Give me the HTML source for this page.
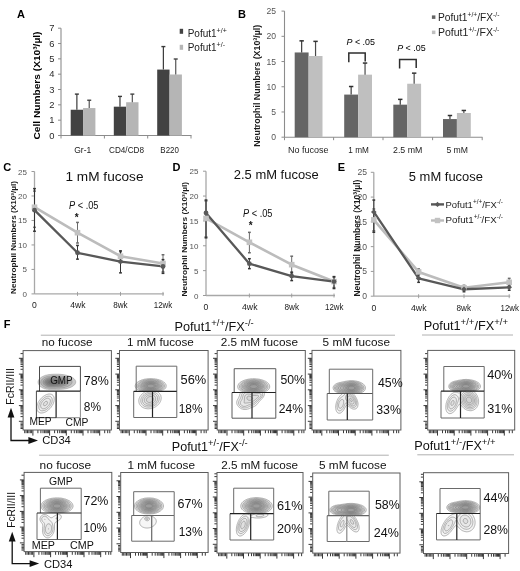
<!DOCTYPE html>
<html><head><meta charset="utf-8"><style>
html,body{margin:0;padding:0;background:#fff;}
svg{display:block;font-family:"Liberation Sans", sans-serif;filter:grayscale(1);}
</style></head><body>
<svg width="520" height="571" viewBox="0 0 520 571">
<rect width="520" height="571" fill="#fff"/>
<text x="16.9" y="17.6" font-size="11" font-weight="bold" >A</text>
<line x1="61" y1="28.189999999999998" x2="61" y2="135.5" stroke="#8c8c8c" stroke-width="1.1" />
<line x1="58" y1="135.5" x2="61" y2="135.5" stroke="#8c8c8c" stroke-width="1" />
<text x="54.5" y="138.8" font-size="9.4" text-anchor="end" fill="#2a2a2a" >0</text>
<line x1="58" y1="120.17" x2="61" y2="120.17" stroke="#8c8c8c" stroke-width="1" />
<text x="54.5" y="123.47" font-size="9.4" text-anchor="end" fill="#2a2a2a" >1</text>
<line x1="58" y1="104.84" x2="61" y2="104.84" stroke="#8c8c8c" stroke-width="1" />
<text x="54.5" y="108.14" font-size="9.4" text-anchor="end" fill="#2a2a2a" >2</text>
<line x1="58" y1="89.50999999999999" x2="61" y2="89.50999999999999" stroke="#8c8c8c" stroke-width="1" />
<text x="54.5" y="92.80999999999999" font-size="9.4" text-anchor="end" fill="#2a2a2a" >3</text>
<line x1="58" y1="74.18" x2="61" y2="74.18" stroke="#8c8c8c" stroke-width="1" />
<text x="54.5" y="77.48" font-size="9.4" text-anchor="end" fill="#2a2a2a" >4</text>
<line x1="58" y1="58.849999999999994" x2="61" y2="58.849999999999994" stroke="#8c8c8c" stroke-width="1" />
<text x="54.5" y="62.14999999999999" font-size="9.4" text-anchor="end" fill="#2a2a2a" >5</text>
<line x1="58" y1="43.519999999999996" x2="61" y2="43.519999999999996" stroke="#8c8c8c" stroke-width="1" />
<text x="54.5" y="46.81999999999999" font-size="9.4" text-anchor="end" fill="#2a2a2a" >6</text>
<line x1="58" y1="28.189999999999998" x2="61" y2="28.189999999999998" stroke="#8c8c8c" stroke-width="1" />
<text x="54.5" y="31.49" font-size="9.4" text-anchor="end" fill="#2a2a2a" >7</text>
<line x1="61" y1="135.5" x2="191.5" y2="135.5" stroke="#8c8c8c" stroke-width="1.1" />
<line x1="61" y1="135.5" x2="61" y2="138.5" stroke="#8c8c8c" stroke-width="1" />
<line x1="104.4" y1="135.5" x2="104.4" y2="138.5" stroke="#8c8c8c" stroke-width="1" />
<line x1="147.7" y1="135.5" x2="147.7" y2="138.5" stroke="#8c8c8c" stroke-width="1" />
<line x1="191" y1="135.5" x2="191" y2="138.5" stroke="#8c8c8c" stroke-width="1" />
<text transform="translate(40.2,139.5) rotate(-90)" font-size="9.2" font-weight="bold" textLength="108" lengthAdjust="spacingAndGlyphs" >Cell Numbers (X10³/µl)</text>
<rect x="70.7" y="109.7456" width="12.35" height="25.7544" fill="#424242" />
<rect x="83.05" y="108.05930000000001" width="12.35" height="27.4407" fill="#b5b5b5" />
<line x1="76.875" y1="109.7456" x2="76.875" y2="94.109" stroke="#3a3a3a" stroke-width="1.2" />
<line x1="74.875" y1="94.109" x2="78.875" y2="94.109" stroke="#3a3a3a" stroke-width="1.4" />
<line x1="89.225" y1="108.05930000000001" x2="89.225" y2="100.241" stroke="#555" stroke-width="1.2" />
<line x1="87.225" y1="100.241" x2="91.225" y2="100.241" stroke="#444" stroke-width="1.4" />
<rect x="113.8" y="106.6796" width="12.35" height="28.8204" fill="#424242" />
<rect x="126.14999999999999" y="102.2339" width="12.35" height="33.2661" fill="#b5b5b5" />
<line x1="119.975" y1="106.6796" x2="119.975" y2="96.4085" stroke="#3a3a3a" stroke-width="1.2" />
<line x1="117.975" y1="96.4085" x2="121.975" y2="96.4085" stroke="#3a3a3a" stroke-width="1.4" />
<line x1="132.325" y1="102.2339" x2="132.325" y2="94.109" stroke="#555" stroke-width="1.2" />
<line x1="130.325" y1="94.109" x2="134.325" y2="94.109" stroke="#444" stroke-width="1.4" />
<rect x="157.2" y="69.581" width="12.35" height="65.919" fill="#424242" />
<rect x="169.54999999999998" y="74.48660000000001" width="12.35" height="61.0134" fill="#b5b5b5" />
<line x1="163.375" y1="69.581" x2="163.375" y2="46.586" stroke="#3a3a3a" stroke-width="1.2" />
<line x1="161.375" y1="46.586" x2="165.375" y2="46.586" stroke="#3a3a3a" stroke-width="1.4" />
<line x1="175.725" y1="74.48660000000001" x2="175.725" y2="59.003299999999996" stroke="#555" stroke-width="1.2" />
<line x1="173.725" y1="59.003299999999996" x2="177.725" y2="59.003299999999996" stroke="#444" stroke-width="1.4" />
<text x="82.7" y="153" font-size="9.6" text-anchor="middle" fill="#222" textLength="17" lengthAdjust="spacingAndGlyphs" >Gr-1</text>
<text x="126.5" y="153" font-size="9.6" text-anchor="middle" fill="#222" textLength="35" lengthAdjust="spacingAndGlyphs" >CD4/CD8</text>
<text x="169.6" y="153" font-size="9.6" text-anchor="middle" fill="#222" textLength="18.5" lengthAdjust="spacingAndGlyphs" >B220</text>
<rect x="179.7" y="28.8" width="3.4" height="5" fill="#424242" />
<rect x="179.7" y="44.8" width="3.4" height="5" fill="#b5b5b5" />
<text x="187.7" y="36.5" font-size="10" fill="#222" >Pofut1<tspan font-size="7" dy="-3.6">+/+</tspan></text>
<text x="187.7" y="50.5" font-size="10" fill="#222" >Pofut1<tspan font-size="7" dy="-3.6">+/-</tspan></text>
<text x="238" y="17.6" font-size="11" font-weight="bold" >B</text>
<line x1="284.5" y1="11.099999999999994" x2="284.5" y2="137.2" stroke="#8c8c8c" stroke-width="1.1" />
<line x1="281.5" y1="137.2" x2="284.5" y2="137.2" stroke="#8c8c8c" stroke-width="1" />
<text x="276" y="140.2" font-size="8.6" text-anchor="end" fill="#555" >0</text>
<line x1="281.5" y1="111.97999999999999" x2="284.5" y2="111.97999999999999" stroke="#8c8c8c" stroke-width="1" />
<text x="276" y="114.97999999999999" font-size="8.6" text-anchor="end" fill="#555" >5</text>
<line x1="281.5" y1="86.75999999999999" x2="284.5" y2="86.75999999999999" stroke="#8c8c8c" stroke-width="1" />
<text x="276" y="89.75999999999999" font-size="8.6" text-anchor="end" fill="#555" >10</text>
<line x1="281.5" y1="61.53999999999999" x2="284.5" y2="61.53999999999999" stroke="#8c8c8c" stroke-width="1" />
<text x="276" y="64.53999999999999" font-size="8.6" text-anchor="end" fill="#555" >15</text>
<line x1="281.5" y1="36.31999999999999" x2="284.5" y2="36.31999999999999" stroke="#8c8c8c" stroke-width="1" />
<text x="276" y="39.31999999999999" font-size="8.6" text-anchor="end" fill="#555" >20</text>
<line x1="281.5" y1="11.099999999999994" x2="284.5" y2="11.099999999999994" stroke="#8c8c8c" stroke-width="1" />
<text x="276" y="14.099999999999994" font-size="8.6" text-anchor="end" fill="#555" >25</text>
<line x1="284.5" y1="137.2" x2="482.5" y2="137.2" stroke="#8c8c8c" stroke-width="1.1" />
<line x1="284.5" y1="137.2" x2="284.5" y2="140.2" stroke="#8c8c8c" stroke-width="1" />
<line x1="333.6" y1="137.2" x2="333.6" y2="140.2" stroke="#8c8c8c" stroke-width="1" />
<line x1="383" y1="137.2" x2="383" y2="140.2" stroke="#8c8c8c" stroke-width="1" />
<line x1="432.6" y1="137.2" x2="432.6" y2="140.2" stroke="#8c8c8c" stroke-width="1" />
<line x1="482.2" y1="137.2" x2="482.2" y2="140.2" stroke="#8c8c8c" stroke-width="1" />
<text transform="translate(259.6,146.8) rotate(-90)" font-size="9" font-weight="bold" fill="#1a1a1a" textLength="122" lengthAdjust="spacingAndGlyphs" >Neutrophil Numbers (X10³/µl)</text>
<rect x="294.7" y="52.46079999999999" width="13.9" height="84.7392" fill="#656565" />
<rect x="308.59999999999997" y="55.99159999999999" width="13.9" height="81.2084" fill="#bfbfbf" />
<line x1="301.65" y1="52.46079999999999" x2="301.65" y2="40.859599999999986" stroke="#3c3c3c" stroke-width="1.2" />
<line x1="299.45" y1="40.859599999999986" x2="303.84999999999997" y2="40.859599999999986" stroke="#2e2e2e" stroke-width="1.5" />
<line x1="315.55" y1="55.99159999999999" x2="315.55" y2="41.36399999999999" stroke="#4a4a4a" stroke-width="1.2" />
<line x1="313.35" y1="41.36399999999999" x2="317.75" y2="41.36399999999999" stroke="#333" stroke-width="1.5" />
<rect x="344.2" y="94.5782" width="13.9" height="42.62179999999999" fill="#656565" />
<rect x="358.09999999999997" y="74.65439999999998" width="13.9" height="62.5456" fill="#bfbfbf" />
<line x1="351.15" y1="94.5782" x2="351.15" y2="86.50779999999999" stroke="#3c3c3c" stroke-width="1.2" />
<line x1="348.95" y1="86.50779999999999" x2="353.34999999999997" y2="86.50779999999999" stroke="#2e2e2e" stroke-width="1.5" />
<line x1="365.05" y1="74.65439999999998" x2="365.05" y2="63.053200000000004" stroke="#4a4a4a" stroke-width="1.2" />
<line x1="362.85" y1="63.053200000000004" x2="367.25" y2="63.053200000000004" stroke="#333" stroke-width="1.5" />
<rect x="393.3" y="104.66619999999999" width="13.9" height="32.5338" fill="#656565" />
<rect x="407.2" y="83.7336" width="13.9" height="53.46639999999999" fill="#bfbfbf" />
<line x1="400.25" y1="104.66619999999999" x2="400.25" y2="99.36999999999999" stroke="#3c3c3c" stroke-width="1.2" />
<line x1="398.05" y1="99.36999999999999" x2="402.45" y2="99.36999999999999" stroke="#2e2e2e" stroke-width="1.5" />
<line x1="414.15000000000003" y1="83.7336" x2="414.15000000000003" y2="73.1412" stroke="#4a4a4a" stroke-width="1.2" />
<line x1="411.95000000000005" y1="73.1412" x2="416.35" y2="73.1412" stroke="#333" stroke-width="1.5" />
<rect x="443.0" y="119.04159999999999" width="13.9" height="18.1584" fill="#656565" />
<rect x="456.9" y="112.9888" width="13.9" height="24.211199999999998" fill="#bfbfbf" />
<line x1="449.95" y1="119.04159999999999" x2="449.95" y2="115.51079999999999" stroke="#3c3c3c" stroke-width="1.2" />
<line x1="447.75" y1="115.51079999999999" x2="452.15" y2="115.51079999999999" stroke="#2e2e2e" stroke-width="1.5" />
<line x1="463.85" y1="112.9888" x2="463.85" y2="110.46679999999999" stroke="#4a4a4a" stroke-width="1.2" />
<line x1="461.65000000000003" y1="110.46679999999999" x2="466.05" y2="110.46679999999999" stroke="#333" stroke-width="1.5" />
<path d="M348.8 62.3 V53 H365.2 V61.5" fill="none" stroke="#2e2e2e" stroke-width="1.5"/>
<path d="M399.6 68.5 V59.5 H416.2 V68" fill="none" stroke="#2e2e2e" stroke-width="1.5"/>
<text x="346.5" y="45" font-size="9.6" textLength="28.5" lengthAdjust="spacingAndGlyphs" ><tspan font-style="italic">P</tspan> &lt; .05</text>
<text x="397.2" y="50.8" font-size="9.6" textLength="28.5" lengthAdjust="spacingAndGlyphs" ><tspan font-style="italic">P</tspan> &lt; .05</text>
<text x="288" y="152.8" font-size="9" fill="#222" textLength="40.5" lengthAdjust="spacingAndGlyphs" >No fucose</text>
<text x="348.3" y="152.8" font-size="9" fill="#222" textLength="20.5" lengthAdjust="spacingAndGlyphs" >1 mM</text>
<text x="393" y="152.8" font-size="9" fill="#222" textLength="29.3" lengthAdjust="spacingAndGlyphs" >2.5 mM</text>
<text x="446.4" y="152.8" font-size="9" fill="#222" textLength="21.6" lengthAdjust="spacingAndGlyphs" >5 mM</text>
<rect x="431.9" y="15.4" width="3.5" height="3.5" fill="#656565" />
<rect x="431.9" y="30.6" width="3.5" height="3.5" fill="#bfbfbf" />
<text x="438" y="20.7" font-size="10.1" fill="#222" textLength="61.4" lengthAdjust="spacingAndGlyphs" >Pofut1<tspan font-size="6.6" dy="-4">+/+</tspan><tspan dy="4">/FX</tspan><tspan font-size="6.6" dy="-4">-/-</tspan></text>
<text x="438" y="35.9" font-size="10.1" fill="#222" textLength="61.4" lengthAdjust="spacingAndGlyphs" >Pofut1<tspan font-size="6.6" dy="-4">+/-</tspan><tspan dy="4">/FX</tspan><tspan font-size="6.6" dy="-4">-/-</tspan></text>
<text x="3.2" y="171.3" font-size="11" font-weight="bold" >C</text>
<line x1="34.5" y1="171.5" x2="34.5" y2="293.9" stroke="#a8a8a8" stroke-width="1.3" />
<line x1="31.5" y1="293.9" x2="34.5" y2="293.9" stroke="#9a9a9a" stroke-width="1" />
<text x="27" y="296.9" font-size="8.0" text-anchor="end" fill="#555" >0</text>
<line x1="31.5" y1="269.41999999999996" x2="34.5" y2="269.41999999999996" stroke="#9a9a9a" stroke-width="1" />
<text x="27" y="272.41999999999996" font-size="8.0" text-anchor="end" fill="#555" >5</text>
<line x1="31.5" y1="244.94" x2="34.5" y2="244.94" stroke="#9a9a9a" stroke-width="1" />
<text x="27" y="247.94" font-size="8.0" text-anchor="end" fill="#555" >10</text>
<line x1="31.5" y1="220.45999999999998" x2="34.5" y2="220.45999999999998" stroke="#9a9a9a" stroke-width="1" />
<text x="27" y="223.45999999999998" font-size="8.0" text-anchor="end" fill="#555" >15</text>
<line x1="31.5" y1="195.98" x2="34.5" y2="195.98" stroke="#9a9a9a" stroke-width="1" />
<text x="27" y="198.98" font-size="8.0" text-anchor="end" fill="#555" >20</text>
<line x1="31.5" y1="171.5" x2="34.5" y2="171.5" stroke="#9a9a9a" stroke-width="1" />
<text x="27" y="174.5" font-size="8.0" text-anchor="end" fill="#555" >25</text>
<line x1="34.5" y1="293.9" x2="164" y2="293.9" stroke="#a8a8a8" stroke-width="1.3" />
<line x1="77.5" y1="291.9" x2="77.5" y2="295.9" stroke="#9a9a9a" stroke-width="0.9" />
<line x1="120.5" y1="291.9" x2="120.5" y2="295.9" stroke="#9a9a9a" stroke-width="0.9" />
<line x1="163" y1="291.9" x2="163" y2="295.9" stroke="#9a9a9a" stroke-width="0.9" />
<text x="32.1" y="308.3" font-size="8.8" fill="#222" textLength="4.8" lengthAdjust="spacingAndGlyphs" >0</text>
<text x="70.2" y="308.3" font-size="8.8" fill="#222" textLength="15.3" lengthAdjust="spacingAndGlyphs" >4wk</text>
<text x="113.2" y="308.3" font-size="8.8" fill="#222" textLength="14.5" lengthAdjust="spacingAndGlyphs" >8wk</text>
<text x="153.8" y="308.3" font-size="8.8" fill="#222" textLength="18.5" lengthAdjust="spacingAndGlyphs" >12wk</text>
<text transform="translate(15.6,294) rotate(-90)" font-size="7.6" font-weight="bold" fill="#1a1a1a" textLength="113" lengthAdjust="spacingAndGlyphs" >Neutrophil Numbers (X10³/µl)</text>
<text x="65.5" y="180.5" font-size="13.6" fill="#111" textLength="78" lengthAdjust="spacingAndGlyphs" >1 mM fucose</text>
<line x1="34.5" y1="191.084" x2="34.5" y2="227.31439999999998" stroke="#6a6a6a" stroke-width="1.0" />
<line x1="33.1" y1="191.084" x2="35.9" y2="191.084" stroke="#6a6a6a" stroke-width="1.5" />
<line x1="33.1" y1="227.31439999999998" x2="35.9" y2="227.31439999999998" stroke="#6a6a6a" stroke-width="1.5" />
<line x1="77.5" y1="222.4184" x2="77.5" y2="242.9816" stroke="#6a6a6a" stroke-width="1.0" />
<line x1="76.1" y1="222.4184" x2="78.9" y2="222.4184" stroke="#6a6a6a" stroke-width="1.5" />
<line x1="76.1" y1="242.9816" x2="78.9" y2="242.9816" stroke="#6a6a6a" stroke-width="1.5" />
<line x1="120.5" y1="251.7944" x2="120.5" y2="261.58639999999997" stroke="#6a6a6a" stroke-width="1.0" />
<line x1="119.1" y1="251.7944" x2="121.9" y2="251.7944" stroke="#6a6a6a" stroke-width="1.5" />
<line x1="119.1" y1="261.58639999999997" x2="121.9" y2="261.58639999999997" stroke="#6a6a6a" stroke-width="1.5" />
<line x1="163" y1="254.73199999999997" x2="163" y2="271.868" stroke="#6a6a6a" stroke-width="1.0" />
<line x1="161.6" y1="254.73199999999997" x2="164.4" y2="254.73199999999997" stroke="#6a6a6a" stroke-width="1.5" />
<line x1="161.6" y1="271.868" x2="164.4" y2="271.868" stroke="#6a6a6a" stroke-width="1.5" />
<polyline points="34.5,207.24 77.5,232.7 120.5,256.2 163,263.54" fill="none" stroke="#bcbcbc" stroke-width="2.6" stroke-linejoin="round"/>
<polyline points="34.5,210.18 77.5,252.77 120.5,261.59 163,266.48" fill="none" stroke="#585858" stroke-width="2.3" stroke-linejoin="round"/>
<line x1="34.5" y1="188.636" x2="34.5" y2="231.2312" stroke="#333" stroke-width="1.0" />
<line x1="33.1" y1="188.636" x2="35.9" y2="188.636" stroke="#333" stroke-width="1.5" />
<line x1="33.1" y1="231.2312" x2="35.9" y2="231.2312" stroke="#333" stroke-width="1.5" />
<line x1="77.5" y1="245.4296" x2="77.5" y2="259.1384" stroke="#333" stroke-width="1.0" />
<line x1="76.1" y1="245.4296" x2="78.9" y2="245.4296" stroke="#333" stroke-width="1.5" />
<line x1="76.1" y1="259.1384" x2="78.9" y2="259.1384" stroke="#333" stroke-width="1.5" />
<line x1="120.5" y1="250.81519999999998" x2="120.5" y2="272.8472" stroke="#333" stroke-width="1.0" />
<line x1="119.1" y1="250.81519999999998" x2="121.9" y2="250.81519999999998" stroke="#333" stroke-width="1.5" />
<line x1="119.1" y1="272.8472" x2="121.9" y2="272.8472" stroke="#333" stroke-width="1.5" />
<line x1="163" y1="259.628" x2="163" y2="273.3368" stroke="#333" stroke-width="1.0" />
<line x1="161.6" y1="259.628" x2="164.4" y2="259.628" stroke="#333" stroke-width="1.5" />
<line x1="161.6" y1="273.3368" x2="164.4" y2="273.3368" stroke="#333" stroke-width="1.5" />
<rect x="31.7" y="204.44" width="5.6" height="5.6" fill="#c2c2c2" />
<rect x="74.7" y="229.9" width="5.6" height="5.6" fill="#c2c2c2" />
<rect x="117.7" y="253.4" width="5.6" height="5.6" fill="#c2c2c2" />
<rect x="160.2" y="260.74" width="5.6" height="5.6" fill="#c2c2c2" />
<circle cx="34.5" cy="210.18" r="2.4" fill="#5a5a5a"/>
<circle cx="77.5" cy="252.77" r="2.4" fill="#5a5a5a"/>
<circle cx="120.5" cy="261.59" r="2.4" fill="#5a5a5a"/>
<circle cx="163" cy="266.48" r="2.4" fill="#5a5a5a"/>
<text x="69" y="209.4" font-size="10.3" fill="#111" textLength="29.5" lengthAdjust="spacingAndGlyphs" ><tspan font-style="italic">P</tspan> &lt; .05</text>
<text x="76.8" y="220.8" font-size="10" font-weight="bold" text-anchor="middle" fill="#111" >*</text>
<text x="172.6" y="171.3" font-size="11" font-weight="bold" >D</text>
<line x1="206" y1="171.2" x2="206" y2="295.5" stroke="#a8a8a8" stroke-width="1.3" />
<line x1="203" y1="295.5" x2="206" y2="295.5" stroke="#9a9a9a" stroke-width="1" />
<text x="198.5" y="298.5" font-size="8.0" text-anchor="end" fill="#555" >0</text>
<line x1="203" y1="270.64" x2="206" y2="270.64" stroke="#9a9a9a" stroke-width="1" />
<text x="198.5" y="273.64" font-size="8.0" text-anchor="end" fill="#555" >5</text>
<line x1="203" y1="245.78" x2="206" y2="245.78" stroke="#9a9a9a" stroke-width="1" />
<text x="198.5" y="248.78" font-size="8.0" text-anchor="end" fill="#555" >10</text>
<line x1="203" y1="220.92" x2="206" y2="220.92" stroke="#9a9a9a" stroke-width="1" />
<text x="198.5" y="223.92" font-size="8.0" text-anchor="end" fill="#555" >15</text>
<line x1="203" y1="196.06" x2="206" y2="196.06" stroke="#9a9a9a" stroke-width="1" />
<text x="198.5" y="199.06" font-size="8.0" text-anchor="end" fill="#555" >20</text>
<line x1="203" y1="171.2" x2="206" y2="171.2" stroke="#9a9a9a" stroke-width="1" />
<text x="198.5" y="174.2" font-size="8.0" text-anchor="end" fill="#555" >25</text>
<line x1="206" y1="295.5" x2="335" y2="295.5" stroke="#a8a8a8" stroke-width="1.3" />
<line x1="249.4" y1="293.5" x2="249.4" y2="297.5" stroke="#9a9a9a" stroke-width="0.9" />
<line x1="291.7" y1="293.5" x2="291.7" y2="297.5" stroke="#9a9a9a" stroke-width="0.9" />
<line x1="334" y1="293.5" x2="334" y2="297.5" stroke="#9a9a9a" stroke-width="0.9" />
<text x="203.6" y="310.3" font-size="8.8" fill="#222" textLength="4.8" lengthAdjust="spacingAndGlyphs" >0</text>
<text x="242" y="310.3" font-size="8.8" fill="#222" textLength="15.5" lengthAdjust="spacingAndGlyphs" >4wk</text>
<text x="284.4" y="310.3" font-size="8.8" fill="#222" textLength="14.6" lengthAdjust="spacingAndGlyphs" >8wk</text>
<text x="325" y="310.3" font-size="8.8" fill="#222" textLength="18.5" lengthAdjust="spacingAndGlyphs" >12wk</text>
<text transform="translate(187.0,296.6) rotate(-90)" font-size="7.6" font-weight="bold" fill="#1a1a1a" textLength="114.6" lengthAdjust="spacingAndGlyphs" >Neutrophil Numbers (X10³/µl)</text>
<text x="233.8" y="178.9" font-size="13.6" fill="#111" textLength="85" lengthAdjust="spacingAndGlyphs" >2.5 mM fucose</text>
<line x1="206" y1="201.03199999999998" x2="206" y2="236.8304" stroke="#6a6a6a" stroke-width="1.0" />
<line x1="204.6" y1="201.03199999999998" x2="207.4" y2="201.03199999999998" stroke="#6a6a6a" stroke-width="1.5" />
<line x1="204.6" y1="236.8304" x2="207.4" y2="236.8304" stroke="#6a6a6a" stroke-width="1.5" />
<line x1="249.4" y1="232.35559999999998" x2="249.4" y2="252.7408" stroke="#6a6a6a" stroke-width="1.0" />
<line x1="248.0" y1="232.35559999999998" x2="250.8" y2="232.35559999999998" stroke="#6a6a6a" stroke-width="1.5" />
<line x1="248.0" y1="252.7408" x2="250.8" y2="252.7408" stroke="#6a6a6a" stroke-width="1.5" />
<line x1="291.7" y1="256.2212" x2="291.7" y2="273.126" stroke="#6a6a6a" stroke-width="1.0" />
<line x1="290.3" y1="256.2212" x2="293.09999999999997" y2="256.2212" stroke="#6a6a6a" stroke-width="1.5" />
<line x1="290.3" y1="273.126" x2="293.09999999999997" y2="273.126" stroke="#6a6a6a" stroke-width="1.5" />
<line x1="334" y1="277.1036" x2="334" y2="287.5448" stroke="#6a6a6a" stroke-width="1.0" />
<line x1="332.6" y1="277.1036" x2="335.4" y2="277.1036" stroke="#6a6a6a" stroke-width="1.5" />
<line x1="332.6" y1="287.5448" x2="335.4" y2="287.5448" stroke="#6a6a6a" stroke-width="1.5" />
<polyline points="206,218.43 249.4,242.3 291.7,264.67 334,281.58" fill="none" stroke="#bcbcbc" stroke-width="2.6" stroke-linejoin="round"/>
<polyline points="206,212.96 249.4,263.68 291.7,276.11 334,281.58" fill="none" stroke="#585858" stroke-width="2.3" stroke-linejoin="round"/>
<line x1="206" y1="200.0376" x2="206" y2="237.82479999999998" stroke="#333" stroke-width="1.0" />
<line x1="204.6" y1="200.0376" x2="207.4" y2="200.0376" stroke="#333" stroke-width="1.5" />
<line x1="204.6" y1="237.82479999999998" x2="207.4" y2="237.82479999999998" stroke="#333" stroke-width="1.5" />
<line x1="249.4" y1="258.7072" x2="249.4" y2="268.6512" stroke="#333" stroke-width="1.0" />
<line x1="248.0" y1="258.7072" x2="250.8" y2="258.7072" stroke="#333" stroke-width="1.5" />
<line x1="248.0" y1="268.6512" x2="250.8" y2="268.6512" stroke="#333" stroke-width="1.5" />
<line x1="291.7" y1="272.1316" x2="291.7" y2="280.584" stroke="#333" stroke-width="1.0" />
<line x1="290.3" y1="272.1316" x2="293.09999999999997" y2="272.1316" stroke="#333" stroke-width="1.5" />
<line x1="290.3" y1="280.584" x2="293.09999999999997" y2="280.584" stroke="#333" stroke-width="1.5" />
<line x1="334" y1="276.6064" x2="334" y2="288.5392" stroke="#333" stroke-width="1.0" />
<line x1="332.6" y1="276.6064" x2="335.4" y2="276.6064" stroke="#333" stroke-width="1.5" />
<line x1="332.6" y1="288.5392" x2="335.4" y2="288.5392" stroke="#333" stroke-width="1.5" />
<rect x="203.2" y="215.63" width="5.6" height="5.6" fill="#c2c2c2" />
<rect x="246.6" y="239.5" width="5.6" height="5.6" fill="#c2c2c2" />
<rect x="288.9" y="261.87" width="5.6" height="5.6" fill="#c2c2c2" />
<rect x="331.2" y="278.78" width="5.6" height="5.6" fill="#c2c2c2" />
<circle cx="206" cy="212.96" r="2.4" fill="#5a5a5a"/>
<circle cx="249.4" cy="263.68" r="2.4" fill="#5a5a5a"/>
<circle cx="291.7" cy="276.11" r="2.4" fill="#5a5a5a"/>
<circle cx="334" cy="281.58" r="2.4" fill="#5a5a5a"/>
<text x="243" y="217" font-size="10.3" fill="#111" textLength="29.5" lengthAdjust="spacingAndGlyphs" ><tspan font-style="italic">P</tspan> &lt; .05</text>
<text x="250.6" y="229.4" font-size="10" font-weight="bold" text-anchor="middle" fill="#111" >*</text>
<text x="337.8" y="171.3" font-size="11" font-weight="bold" >E</text>
<line x1="373.8" y1="172.3" x2="373.8" y2="296.2" stroke="#a8a8a8" stroke-width="1.3" />
<line x1="370.8" y1="296.2" x2="373.8" y2="296.2" stroke="#9a9a9a" stroke-width="1" />
<text x="367" y="299.2" font-size="8.6" text-anchor="end" fill="#555" >0</text>
<line x1="370.8" y1="271.42" x2="373.8" y2="271.42" stroke="#9a9a9a" stroke-width="1" />
<text x="367" y="274.42" font-size="8.6" text-anchor="end" fill="#555" >5</text>
<line x1="370.8" y1="246.64" x2="373.8" y2="246.64" stroke="#9a9a9a" stroke-width="1" />
<text x="367" y="249.64" font-size="8.6" text-anchor="end" fill="#555" >10</text>
<line x1="370.8" y1="221.86" x2="373.8" y2="221.86" stroke="#9a9a9a" stroke-width="1" />
<text x="367" y="224.86" font-size="8.6" text-anchor="end" fill="#555" >15</text>
<line x1="370.8" y1="197.07999999999998" x2="373.8" y2="197.07999999999998" stroke="#9a9a9a" stroke-width="1" />
<text x="367" y="200.07999999999998" font-size="8.6" text-anchor="end" fill="#555" >20</text>
<line x1="370.8" y1="172.3" x2="373.8" y2="172.3" stroke="#9a9a9a" stroke-width="1" />
<text x="367" y="175.3" font-size="8.6" text-anchor="end" fill="#555" >25</text>
<line x1="373.8" y1="296.2" x2="510.2" y2="296.2" stroke="#a8a8a8" stroke-width="1.3" />
<line x1="418.6" y1="294.2" x2="418.6" y2="298.2" stroke="#9a9a9a" stroke-width="0.9" />
<line x1="464" y1="294.2" x2="464" y2="298.2" stroke="#9a9a9a" stroke-width="0.9" />
<line x1="509.2" y1="294.2" x2="509.2" y2="298.2" stroke="#9a9a9a" stroke-width="0.9" />
<text x="371.4" y="311" font-size="8.8" fill="#222" textLength="4.8" lengthAdjust="spacingAndGlyphs" >0</text>
<text x="411" y="311" font-size="8.8" fill="#222" textLength="15.5" lengthAdjust="spacingAndGlyphs" >4wk</text>
<text x="456.5" y="311" font-size="8.8" fill="#222" textLength="14.5" lengthAdjust="spacingAndGlyphs" >8wk</text>
<text x="500.5" y="311" font-size="8.8" fill="#222" textLength="18.5" lengthAdjust="spacingAndGlyphs" >12wk</text>
<text transform="translate(359.6,296.6) rotate(-90)" font-size="9.6" font-weight="bold" fill="#1a1a1a" textLength="117" lengthAdjust="spacingAndGlyphs" >Neutrophil Numbers (X10³/µl)</text>
<text x="408.8" y="181.2" font-size="13.6" fill="#111" textLength="74.2" lengthAdjust="spacingAndGlyphs" >5 mM fucose</text>
<line x1="373.8" y1="208.9744" x2="373.8" y2="230.7808" stroke="#6a6a6a" stroke-width="1.0" />
<line x1="372.40000000000003" y1="208.9744" x2="375.2" y2="208.9744" stroke="#6a6a6a" stroke-width="1.5" />
<line x1="372.40000000000003" y1="230.7808" x2="375.2" y2="230.7808" stroke="#6a6a6a" stroke-width="1.5" />
<line x1="418.6" y1="268.942" x2="418.6" y2="274.8892" stroke="#6a6a6a" stroke-width="1.0" />
<line x1="417.20000000000005" y1="268.942" x2="420.0" y2="268.942" stroke="#6a6a6a" stroke-width="1.5" />
<line x1="417.20000000000005" y1="274.8892" x2="420.0" y2="274.8892" stroke="#6a6a6a" stroke-width="1.5" />
<line x1="464" y1="285.29679999999996" x2="464" y2="290.2528" stroke="#6a6a6a" stroke-width="1.0" />
<line x1="462.6" y1="285.29679999999996" x2="465.4" y2="285.29679999999996" stroke="#6a6a6a" stroke-width="1.5" />
<line x1="462.6" y1="290.2528" x2="465.4" y2="290.2528" stroke="#6a6a6a" stroke-width="1.5" />
<line x1="509.2" y1="278.35839999999996" x2="509.2" y2="285.7924" stroke="#6a6a6a" stroke-width="1.0" />
<line x1="507.8" y1="278.35839999999996" x2="510.59999999999997" y2="278.35839999999996" stroke="#6a6a6a" stroke-width="1.5" />
<line x1="507.8" y1="285.7924" x2="510.59999999999997" y2="285.7924" stroke="#6a6a6a" stroke-width="1.5" />
<polyline points="373.8,219.88 418.6,271.92 464,287.77 509.2,282.32" fill="none" stroke="#bcbcbc" stroke-width="2.6" stroke-linejoin="round"/>
<polyline points="373.8,211.95 418.6,278.36 464,289.26 509.2,287.28" fill="none" stroke="#585858" stroke-width="2.3" stroke-linejoin="round"/>
<line x1="373.8" y1="200.05360000000002" x2="373.8" y2="232.2676" stroke="#333" stroke-width="1.0" />
<line x1="372.40000000000003" y1="200.05360000000002" x2="375.2" y2="200.05360000000002" stroke="#333" stroke-width="1.5" />
<line x1="372.40000000000003" y1="232.2676" x2="375.2" y2="232.2676" stroke="#333" stroke-width="1.5" />
<line x1="418.6" y1="274.3936" x2="418.6" y2="282.3232" stroke="#333" stroke-width="1.0" />
<line x1="417.20000000000005" y1="274.3936" x2="420.0" y2="274.3936" stroke="#333" stroke-width="1.5" />
<line x1="417.20000000000005" y1="282.3232" x2="420.0" y2="282.3232" stroke="#333" stroke-width="1.5" />
<line x1="464" y1="286.7836" x2="464" y2="291.7396" stroke="#333" stroke-width="1.0" />
<line x1="462.6" y1="286.7836" x2="465.4" y2="286.7836" stroke="#333" stroke-width="1.5" />
<line x1="462.6" y1="291.7396" x2="465.4" y2="291.7396" stroke="#333" stroke-width="1.5" />
<line x1="509.2" y1="284.30559999999997" x2="509.2" y2="290.2528" stroke="#333" stroke-width="1.0" />
<line x1="507.8" y1="284.30559999999997" x2="510.59999999999997" y2="284.30559999999997" stroke="#333" stroke-width="1.5" />
<line x1="507.8" y1="290.2528" x2="510.59999999999997" y2="290.2528" stroke="#333" stroke-width="1.5" />
<rect x="371.0" y="217.08" width="5.6" height="5.6" fill="#c2c2c2" />
<rect x="415.8" y="269.12" width="5.6" height="5.6" fill="#c2c2c2" />
<rect x="461.2" y="284.97" width="5.6" height="5.6" fill="#c2c2c2" />
<rect x="506.4" y="279.52" width="5.6" height="5.6" fill="#c2c2c2" />
<path d="M373.8 209.15 L376.6 211.95 L373.8 214.75 L371.0 211.95 Z" fill="#5a5a5a"/>
<path d="M418.6 275.56 L421.40000000000003 278.36 L418.6 281.16 L415.8 278.36 Z" fill="#5a5a5a"/>
<path d="M464 286.46 L466.8 289.26 L464 292.06 L461.2 289.26 Z" fill="#5a5a5a"/>
<path d="M509.2 284.48 L512.0 287.28 L509.2 290.08 L506.4 287.28 Z" fill="#5a5a5a"/>
<line x1="431" y1="204.4" x2="444" y2="204.4" stroke="#585858" stroke-width="2.4" />
<path d="M437.5 201.8 L440.1 204.4 L437.5 207 L434.9 204.4 Z" fill="#585858"/>
<line x1="431" y1="220.5" x2="444" y2="220.5" stroke="#bcbcbc" stroke-width="2.4" />
<rect x="434.8" y="217.8" width="5.4" height="5.4" fill="#c2c2c2" />
<text x="445.5" y="207.8" font-size="9.3" fill="#222" textLength="57.5" lengthAdjust="spacingAndGlyphs" >Pofut1<tspan font-size="6.3" dy="-4">+/+</tspan><tspan dy="4">/FX</tspan><tspan font-size="6.3" dy="-4">-/-</tspan></text>
<text x="445.5" y="222.8" font-size="9.3" fill="#222" textLength="57.5" lengthAdjust="spacingAndGlyphs" >Pofut1<tspan font-size="6.3" dy="-4">+/-</tspan><tspan dy="4">/FX</tspan><tspan font-size="6.3" dy="-4">-/-</tspan></text>
<text x="3.7" y="327.5" font-size="11" font-weight="bold" >F</text>
<text x="174.5" y="330.7" font-size="12" fill="#111" textLength="79.3" lengthAdjust="spacingAndGlyphs" >Pofut1<tspan font-size="9" dy="-4.8">+/+</tspan><tspan dy="4.8">/FX</tspan><tspan font-size="9" dy="-4.8">-/-</tspan></text>
<line x1="40.8" y1="335.2" x2="395" y2="335.2" stroke="#b0b0b0" stroke-width="1" />
<text x="423.8" y="329.6" font-size="12" fill="#111" textLength="84.2" lengthAdjust="spacingAndGlyphs" >Pofut1<tspan font-size="9" dy="-4.8">+/+</tspan><tspan dy="4.8">/FX</tspan><tspan font-size="9" dy="-4.8">+/+</tspan></text>
<line x1="422" y1="335" x2="513" y2="335" stroke="#b0b0b0" stroke-width="1" />
<text x="171.8" y="450.5" font-size="12" fill="#111" textLength="75.9" lengthAdjust="spacingAndGlyphs" >Pofut1<tspan font-size="9" dy="-4.8">+/-</tspan><tspan dy="4.8">/FX</tspan><tspan font-size="9" dy="-4.8">-/-</tspan></text>
<line x1="39.1" y1="455.2" x2="388.8" y2="455.2" stroke="#b0b0b0" stroke-width="1" />
<text x="414.3" y="450.2" font-size="12" fill="#111" textLength="81.3" lengthAdjust="spacingAndGlyphs" >Pofut1<tspan font-size="9" dy="-4.8">+/-</tspan><tspan dy="4.8">/FX</tspan><tspan font-size="9" dy="-4.8">+/+</tspan></text>
<line x1="417.3" y1="454.8" x2="514" y2="454.8" stroke="#b0b0b0" stroke-width="1" />
<text x="41.8" y="346.2" font-size="11.6" fill="#111" textLength="50.7" lengthAdjust="spacingAndGlyphs" >no fucose</text>
<text x="127" y="346.2" font-size="11.6" fill="#111" textLength="66.8" lengthAdjust="spacingAndGlyphs" >1 mM fucose</text>
<text x="220.8" y="345.6" font-size="11.6" fill="#111" textLength="77.2" lengthAdjust="spacingAndGlyphs" >2.5 mM fucose</text>
<text x="322.6" y="346" font-size="11.6" fill="#111" textLength="67.4" lengthAdjust="spacingAndGlyphs" >5 mM fucose</text>
<text x="39.6" y="468.9" font-size="11.6" fill="#111" textLength="51.6" lengthAdjust="spacingAndGlyphs" >no fucose</text>
<text x="127.5" y="468.8" font-size="11.6" fill="#111" textLength="67.5" lengthAdjust="spacingAndGlyphs" >1 mM fucose</text>
<text x="221.3" y="468.8" font-size="11.6" fill="#111" textLength="76.7" lengthAdjust="spacingAndGlyphs" >2.5 mM fucose</text>
<text x="319" y="469.3" font-size="11.6" fill="#111" textLength="67.5" lengthAdjust="spacingAndGlyphs" >5 mM fucose</text>
<path d="M18.9 421.3H23.1M20.5 416.6H23.1M20.5 413.8H23.1M20.5 411.8H23.1M20.5 410.3H23.1M20.5 409.0H23.1M20.5 408.0H23.1M20.5 407.1H23.1M20.5 406.3H23.1M18.9 405.6H23.1M20.5 400.8H23.1M20.5 398.0H23.1M20.5 396.1H23.1M20.5 394.5H23.1M20.5 393.3H23.1M20.5 392.2H23.1M20.5 391.3H23.1M20.5 390.5H23.1M18.9 389.8H23.1M20.5 385.1H23.1M20.5 382.3H23.1M20.5 380.3H23.1M20.5 378.8H23.1M20.5 377.5H23.1M20.5 376.5H23.1M20.5 375.6H23.1M20.5 374.8H23.1M18.9 374.1H23.1M20.5 369.3H23.1M20.5 366.5H23.1M20.5 364.6H23.1M20.5 363.0H23.1M20.5 361.8H23.1M20.5 360.7H23.1M20.5 359.8H23.1M20.5 359.0H23.1M18.9 358.3H23.1M20.5 353.6H23.1M20.5 423.0H23.1M20.5 424.4H23.1M20.5 425.8H23.1M20.5 427.2H23.1M20.5 428.5H23.1M32.9 430.0V435.6M37.9 430.0V433.2M40.9 430.0V433.2M43.0 430.0V433.2M44.6 430.0V433.2M45.9 430.0V433.2M47.0 430.0V433.2M48.0 430.0V433.2M48.8 430.0V433.2M49.6 430.0V435.6M54.6 430.0V433.2M57.6 430.0V433.2M59.7 430.0V433.2M61.3 430.0V433.2M62.6 430.0V433.2M63.7 430.0V433.2M64.7 430.0V433.2M65.5 430.0V433.2M66.3 430.0V435.6M71.3 430.0V433.2M74.3 430.0V433.2M76.4 430.0V433.2M78.0 430.0V433.2M79.3 430.0V433.2M80.4 430.0V433.2M81.4 430.0V433.2M82.2 430.0V433.2M83.0 430.0V435.6M88.0 430.0V433.2M91.0 430.0V433.2M93.1 430.0V433.2M94.7 430.0V433.2M96.0 430.0V433.2M97.1 430.0V433.2M98.1 430.0V433.2M98.9 430.0V433.2M99.7 430.0V435.6M104.7 430.0V433.2M107.7 430.0V433.2M109.8 430.0V433.2M24.7 430.0V433.2M26.1 430.0V433.2M27.5 430.0V433.2M28.9 430.0V433.2M30.3 430.0V433.2M31.6 430.0V433.2" stroke="#222" stroke-width="0.9" fill="none"/>
<rect x="23.1" y="350.6" width="88.3" height="79.4" fill="#fff" stroke="#5c5c5c" stroke-width="1.0" />
<path d="M115.3 421.3H119.5M116.9 416.6H119.5M116.9 413.8H119.5M116.9 411.8H119.5M116.9 410.3H119.5M116.9 409.0H119.5M116.9 408.0H119.5M116.9 407.1H119.5M116.9 406.3H119.5M115.3 405.6H119.5M116.9 400.8H119.5M116.9 398.0H119.5M116.9 396.1H119.5M116.9 394.5H119.5M116.9 393.3H119.5M116.9 392.2H119.5M116.9 391.3H119.5M116.9 390.5H119.5M115.3 389.8H119.5M116.9 385.1H119.5M116.9 382.3H119.5M116.9 380.3H119.5M116.9 378.8H119.5M116.9 377.5H119.5M116.9 376.5H119.5M116.9 375.6H119.5M116.9 374.8H119.5M115.3 374.1H119.5M116.9 369.3H119.5M116.9 366.5H119.5M116.9 364.6H119.5M116.9 363.0H119.5M116.9 361.8H119.5M116.9 360.7H119.5M116.9 359.8H119.5M116.9 359.0H119.5M115.3 358.3H119.5M116.9 353.6H119.5M116.9 423.0H119.5M116.9 424.4H119.5M116.9 425.8H119.5M116.9 427.2H119.5M116.9 428.5H119.5M129.3 430.0V435.6M134.3 430.0V433.2M137.3 430.0V433.2M139.4 430.0V433.2M141.0 430.0V433.2M142.3 430.0V433.2M143.4 430.0V433.2M144.4 430.0V433.2M145.2 430.0V433.2M146.0 430.0V435.6M151.0 430.0V433.2M154.0 430.0V433.2M156.1 430.0V433.2M157.7 430.0V433.2M159.0 430.0V433.2M160.1 430.0V433.2M161.1 430.0V433.2M161.9 430.0V433.2M162.7 430.0V435.6M167.7 430.0V433.2M170.7 430.0V433.2M172.8 430.0V433.2M174.4 430.0V433.2M175.7 430.0V433.2M176.8 430.0V433.2M177.8 430.0V433.2M178.6 430.0V433.2M179.4 430.0V435.6M184.4 430.0V433.2M187.4 430.0V433.2M189.5 430.0V433.2M191.1 430.0V433.2M192.4 430.0V433.2M193.5 430.0V433.2M194.5 430.0V433.2M195.3 430.0V433.2M196.1 430.0V435.6M201.1 430.0V433.2M204.1 430.0V433.2M206.2 430.0V433.2M121.1 430.0V433.2M122.5 430.0V433.2M123.9 430.0V433.2M125.3 430.0V433.2M126.7 430.0V433.2M128.0 430.0V433.2" stroke="#222" stroke-width="0.9" fill="none"/>
<rect x="119.5" y="350.5" width="88.6" height="79.5" fill="#fff" stroke="#5c5c5c" stroke-width="1.0" />
<path d="M213.0 421.3H217.2M214.6 416.6H217.2M214.6 413.8H217.2M214.6 411.8H217.2M214.6 410.3H217.2M214.6 409.0H217.2M214.6 408.0H217.2M214.6 407.1H217.2M214.6 406.3H217.2M213.0 405.6H217.2M214.6 400.8H217.2M214.6 398.0H217.2M214.6 396.1H217.2M214.6 394.5H217.2M214.6 393.3H217.2M214.6 392.2H217.2M214.6 391.3H217.2M214.6 390.5H217.2M213.0 389.8H217.2M214.6 385.1H217.2M214.6 382.3H217.2M214.6 380.3H217.2M214.6 378.8H217.2M214.6 377.5H217.2M214.6 376.5H217.2M214.6 375.6H217.2M214.6 374.8H217.2M213.0 374.1H217.2M214.6 369.3H217.2M214.6 366.5H217.2M214.6 364.6H217.2M214.6 363.0H217.2M214.6 361.8H217.2M214.6 360.7H217.2M214.6 359.8H217.2M214.6 359.0H217.2M213.0 358.3H217.2M214.6 353.6H217.2M214.6 423.0H217.2M214.6 424.4H217.2M214.6 425.8H217.2M214.6 427.2H217.2M214.6 428.5H217.2M227.0 430.0V435.6M232.0 430.0V433.2M235.0 430.0V433.2M237.1 430.0V433.2M238.7 430.0V433.2M240.0 430.0V433.2M241.1 430.0V433.2M242.1 430.0V433.2M242.9 430.0V433.2M243.7 430.0V435.6M248.7 430.0V433.2M251.7 430.0V433.2M253.8 430.0V433.2M255.4 430.0V433.2M256.7 430.0V433.2M257.8 430.0V433.2M258.8 430.0V433.2M259.6 430.0V433.2M260.4 430.0V435.6M265.4 430.0V433.2M268.4 430.0V433.2M270.5 430.0V433.2M272.1 430.0V433.2M273.4 430.0V433.2M274.5 430.0V433.2M275.5 430.0V433.2M276.3 430.0V433.2M277.1 430.0V435.6M282.1 430.0V433.2M285.1 430.0V433.2M287.2 430.0V433.2M288.8 430.0V433.2M290.1 430.0V433.2M291.2 430.0V433.2M292.2 430.0V433.2M293.0 430.0V433.2M293.8 430.0V435.6M298.8 430.0V433.2M301.8 430.0V433.2M303.9 430.0V433.2M218.8 430.0V433.2M220.2 430.0V433.2M221.6 430.0V433.2M223.0 430.0V433.2M224.4 430.0V433.2M225.7 430.0V433.2" stroke="#222" stroke-width="0.9" fill="none"/>
<rect x="217.2" y="350.5" width="88.1" height="79.5" fill="#fff" stroke="#5c5c5c" stroke-width="1.0" />
<path d="M307.8 421.3H312.0M309.4 416.6H312.0M309.4 413.8H312.0M309.4 411.8H312.0M309.4 410.3H312.0M309.4 409.0H312.0M309.4 408.0H312.0M309.4 407.1H312.0M309.4 406.3H312.0M307.8 405.6H312.0M309.4 400.8H312.0M309.4 398.0H312.0M309.4 396.1H312.0M309.4 394.5H312.0M309.4 393.3H312.0M309.4 392.2H312.0M309.4 391.3H312.0M309.4 390.5H312.0M307.8 389.8H312.0M309.4 385.1H312.0M309.4 382.3H312.0M309.4 380.3H312.0M309.4 378.8H312.0M309.4 377.5H312.0M309.4 376.5H312.0M309.4 375.6H312.0M309.4 374.8H312.0M307.8 374.1H312.0M309.4 369.3H312.0M309.4 366.5H312.0M309.4 364.6H312.0M309.4 363.0H312.0M309.4 361.8H312.0M309.4 360.7H312.0M309.4 359.8H312.0M309.4 359.0H312.0M307.8 358.3H312.0M309.4 353.6H312.0M309.4 423.0H312.0M309.4 424.4H312.0M309.4 425.8H312.0M309.4 427.2H312.0M309.4 428.5H312.0M321.8 430.0V435.6M326.8 430.0V433.2M329.8 430.0V433.2M331.9 430.0V433.2M333.5 430.0V433.2M334.8 430.0V433.2M335.9 430.0V433.2M336.9 430.0V433.2M337.7 430.0V433.2M338.5 430.0V435.6M343.5 430.0V433.2M346.5 430.0V433.2M348.6 430.0V433.2M350.2 430.0V433.2M351.5 430.0V433.2M352.6 430.0V433.2M353.6 430.0V433.2M354.4 430.0V433.2M355.2 430.0V435.6M360.2 430.0V433.2M363.2 430.0V433.2M365.3 430.0V433.2M366.9 430.0V433.2M368.2 430.0V433.2M369.3 430.0V433.2M370.3 430.0V433.2M371.1 430.0V433.2M371.9 430.0V435.6M376.9 430.0V433.2M379.9 430.0V433.2M382.0 430.0V433.2M383.6 430.0V433.2M384.9 430.0V433.2M386.0 430.0V433.2M387.0 430.0V433.2M387.8 430.0V433.2M388.6 430.0V435.6M393.6 430.0V433.2M396.6 430.0V433.2M398.7 430.0V433.2M313.6 430.0V433.2M315.0 430.0V433.2M316.4 430.0V433.2M317.8 430.0V433.2M319.2 430.0V433.2M320.5 430.0V433.2" stroke="#222" stroke-width="0.9" fill="none"/>
<rect x="312.0" y="350.4" width="88.9" height="79.6" fill="#fff" stroke="#5c5c5c" stroke-width="1.0" />
<path d="M423.5 421.3H427.7M425.1 416.6H427.7M425.1 413.8H427.7M425.1 411.8H427.7M425.1 410.3H427.7M425.1 409.0H427.7M425.1 408.0H427.7M425.1 407.1H427.7M425.1 406.3H427.7M423.5 405.6H427.7M425.1 400.8H427.7M425.1 398.0H427.7M425.1 396.1H427.7M425.1 394.5H427.7M425.1 393.3H427.7M425.1 392.2H427.7M425.1 391.3H427.7M425.1 390.5H427.7M423.5 389.8H427.7M425.1 385.1H427.7M425.1 382.3H427.7M425.1 380.3H427.7M425.1 378.8H427.7M425.1 377.5H427.7M425.1 376.5H427.7M425.1 375.6H427.7M425.1 374.8H427.7M423.5 374.1H427.7M425.1 369.3H427.7M425.1 366.5H427.7M425.1 364.6H427.7M425.1 363.0H427.7M425.1 361.8H427.7M425.1 360.7H427.7M425.1 359.8H427.7M425.1 359.0H427.7M423.5 358.3H427.7M425.1 353.6H427.7M425.1 423.0H427.7M425.1 424.4H427.7M425.1 425.8H427.7M425.1 427.2H427.7M425.1 428.5H427.7M437.5 430.0V435.6M442.5 430.0V433.2M445.5 430.0V433.2M447.6 430.0V433.2M449.2 430.0V433.2M450.5 430.0V433.2M451.6 430.0V433.2M452.6 430.0V433.2M453.4 430.0V433.2M454.2 430.0V435.6M459.2 430.0V433.2M462.2 430.0V433.2M464.3 430.0V433.2M465.9 430.0V433.2M467.2 430.0V433.2M468.3 430.0V433.2M469.3 430.0V433.2M470.1 430.0V433.2M470.9 430.0V435.6M475.9 430.0V433.2M478.9 430.0V433.2M481.0 430.0V433.2M482.6 430.0V433.2M483.9 430.0V433.2M485.0 430.0V433.2M486.0 430.0V433.2M486.8 430.0V433.2M487.6 430.0V435.6M492.6 430.0V433.2M495.6 430.0V433.2M497.7 430.0V433.2M499.3 430.0V433.2M500.6 430.0V433.2M501.7 430.0V433.2M502.7 430.0V433.2M503.5 430.0V433.2M504.3 430.0V435.6M509.3 430.0V433.2M512.3 430.0V433.2M429.3 430.0V433.2M430.7 430.0V433.2M432.1 430.0V433.2M433.5 430.0V433.2M434.9 430.0V433.2M436.2 430.0V433.2" stroke="#222" stroke-width="0.9" fill="none"/>
<rect x="427.7" y="350.4" width="87.0" height="79.6" fill="#fff" stroke="#5c5c5c" stroke-width="1.0" />
<path d="M19.9 542.9H24.1M21.5 538.2H24.1M21.5 535.4H24.1M21.5 533.4H24.1M21.5 531.9H24.1M21.5 530.6H24.1M21.5 529.6H24.1M21.5 528.7H24.1M21.5 527.9H24.1M19.9 527.1H24.1M21.5 522.4H24.1M21.5 519.6H24.1M21.5 517.7H24.1M21.5 516.1H24.1M21.5 514.9H24.1M21.5 513.8H24.1M21.5 512.9H24.1M21.5 512.1H24.1M19.9 511.4H24.1M21.5 506.7H24.1M21.5 503.9H24.1M21.5 501.9H24.1M21.5 500.4H24.1M21.5 499.1H24.1M21.5 498.1H24.1M21.5 497.2H24.1M21.5 496.4H24.1M19.9 495.6H24.1M21.5 490.9H24.1M21.5 488.1H24.1M21.5 486.2H24.1M21.5 484.6H24.1M21.5 483.4H24.1M21.5 482.3H24.1M21.5 481.4H24.1M21.5 480.6H24.1M19.9 479.9H24.1M21.5 475.2H24.1M21.5 544.6H24.1M21.5 546.0H24.1M21.5 547.4H24.1M21.5 548.8H24.1M21.5 550.1H24.1M33.9 551.6V557.2M38.9 551.6V554.8M41.9 551.6V554.8M44.0 551.6V554.8M45.6 551.6V554.8M46.9 551.6V554.8M48.0 551.6V554.8M49.0 551.6V554.8M49.8 551.6V554.8M50.6 551.6V557.2M55.6 551.6V554.8M58.6 551.6V554.8M60.7 551.6V554.8M62.3 551.6V554.8M63.6 551.6V554.8M64.7 551.6V554.8M65.7 551.6V554.8M66.5 551.6V554.8M67.3 551.6V557.2M72.3 551.6V554.8M75.3 551.6V554.8M77.4 551.6V554.8M79.0 551.6V554.8M80.3 551.6V554.8M81.4 551.6V554.8M82.4 551.6V554.8M83.2 551.6V554.8M84.0 551.6V557.2M89.0 551.6V554.8M92.0 551.6V554.8M94.1 551.6V554.8M95.7 551.6V554.8M97.0 551.6V554.8M98.1 551.6V554.8M99.1 551.6V554.8M99.9 551.6V554.8M100.7 551.6V557.2M105.7 551.6V554.8M108.7 551.6V554.8M110.8 551.6V554.8M25.7 551.6V554.8M27.1 551.6V554.8M28.5 551.6V554.8M29.9 551.6V554.8M31.3 551.6V554.8M32.6 551.6V554.8" stroke="#222" stroke-width="0.9" fill="none"/>
<rect x="24.1" y="472.4" width="87.7" height="79.2" fill="#fff" stroke="#5c5c5c" stroke-width="1.0" />
<path d="M116.5 543.8H120.7M118.1 539.1H120.7M118.1 536.3H120.7M118.1 534.3H120.7M118.1 532.8H120.7M118.1 531.5H120.7M118.1 530.5H120.7M118.1 529.6H120.7M118.1 528.8H120.7M116.5 528.0H120.7M118.1 523.3H120.7M118.1 520.5H120.7M118.1 518.6H120.7M118.1 517.0H120.7M118.1 515.8H120.7M118.1 514.7H120.7M118.1 513.8H120.7M118.1 513.0H120.7M116.5 512.3H120.7M118.1 507.6H120.7M118.1 504.8H120.7M118.1 502.8H120.7M118.1 501.3H120.7M118.1 500.0H120.7M118.1 499.0H120.7M118.1 498.1H120.7M118.1 497.3H120.7M116.5 496.5H120.7M118.1 491.8H120.7M118.1 489.0H120.7M118.1 487.1H120.7M118.1 485.5H120.7M118.1 484.3H120.7M118.1 483.2H120.7M118.1 482.3H120.7M118.1 481.5H120.7M116.5 480.8H120.7M118.1 476.1H120.7M118.1 545.5H120.7M118.1 546.9H120.7M118.1 548.3H120.7M118.1 549.7H120.7M118.1 551.0H120.7M130.5 552.5V558.1M135.5 552.5V555.7M138.5 552.5V555.7M140.6 552.5V555.7M142.2 552.5V555.7M143.5 552.5V555.7M144.6 552.5V555.7M145.6 552.5V555.7M146.4 552.5V555.7M147.2 552.5V558.1M152.2 552.5V555.7M155.2 552.5V555.7M157.3 552.5V555.7M158.9 552.5V555.7M160.2 552.5V555.7M161.3 552.5V555.7M162.3 552.5V555.7M163.1 552.5V555.7M163.9 552.5V558.1M168.9 552.5V555.7M171.9 552.5V555.7M174.0 552.5V555.7M175.6 552.5V555.7M176.9 552.5V555.7M178.0 552.5V555.7M179.0 552.5V555.7M179.8 552.5V555.7M180.6 552.5V558.1M185.6 552.5V555.7M188.6 552.5V555.7M190.7 552.5V555.7M192.3 552.5V555.7M193.6 552.5V555.7M194.7 552.5V555.7M195.7 552.5V555.7M196.5 552.5V555.7M197.3 552.5V558.1M202.3 552.5V555.7M205.3 552.5V555.7M122.3 552.5V555.7M123.7 552.5V555.7M125.1 552.5V555.7M126.5 552.5V555.7M127.9 552.5V555.7M129.2 552.5V555.7" stroke="#222" stroke-width="0.9" fill="none"/>
<rect x="120.7" y="472.5" width="87.4" height="80.0" fill="#fff" stroke="#5c5c5c" stroke-width="1.0" />
<path d="M212.8 544.3H217.0M214.4 539.6H217.0M214.4 536.8H217.0M214.4 534.8H217.0M214.4 533.3H217.0M214.4 532.0H217.0M214.4 531.0H217.0M214.4 530.1H217.0M214.4 529.3H217.0M212.8 528.5H217.0M214.4 523.8H217.0M214.4 521.0H217.0M214.4 519.1H217.0M214.4 517.5H217.0M214.4 516.3H217.0M214.4 515.2H217.0M214.4 514.3H217.0M214.4 513.5H217.0M212.8 512.8H217.0M214.4 508.1H217.0M214.4 505.3H217.0M214.4 503.3H217.0M214.4 501.8H217.0M214.4 500.5H217.0M214.4 499.5H217.0M214.4 498.6H217.0M214.4 497.8H217.0M212.8 497.0H217.0M214.4 492.3H217.0M214.4 489.5H217.0M214.4 487.6H217.0M214.4 486.0H217.0M214.4 484.8H217.0M214.4 483.7H217.0M214.4 482.8H217.0M214.4 482.0H217.0M212.8 481.3H217.0M214.4 476.6H217.0M214.4 473.8H217.0M214.4 546.0H217.0M214.4 547.4H217.0M214.4 548.8H217.0M214.4 550.2H217.0M214.4 551.5H217.0M226.8 553.0V558.6M231.8 553.0V556.2M234.8 553.0V556.2M236.9 553.0V556.2M238.5 553.0V556.2M239.8 553.0V556.2M240.9 553.0V556.2M241.9 553.0V556.2M242.7 553.0V556.2M243.5 553.0V558.6M248.5 553.0V556.2M251.5 553.0V556.2M253.6 553.0V556.2M255.2 553.0V556.2M256.5 553.0V556.2M257.6 553.0V556.2M258.6 553.0V556.2M259.4 553.0V556.2M260.2 553.0V558.6M265.2 553.0V556.2M268.2 553.0V556.2M270.3 553.0V556.2M271.9 553.0V556.2M273.2 553.0V556.2M274.3 553.0V556.2M275.3 553.0V556.2M276.1 553.0V556.2M276.9 553.0V558.6M281.9 553.0V556.2M284.9 553.0V556.2M287.0 553.0V556.2M288.6 553.0V556.2M289.9 553.0V556.2M291.0 553.0V556.2M292.0 553.0V556.2M292.8 553.0V556.2M293.6 553.0V558.6M298.6 553.0V556.2M301.6 553.0V556.2M218.6 553.0V556.2M220.0 553.0V556.2M221.4 553.0V556.2M222.8 553.0V556.2M224.2 553.0V556.2M225.5 553.0V556.2" stroke="#222" stroke-width="0.9" fill="none"/>
<rect x="217.0" y="472.5" width="86.0" height="80.5" fill="#fff" stroke="#5c5c5c" stroke-width="1.0" />
<path d="M308.5 544.4H312.7M310.1 539.7H312.7M310.1 536.9H312.7M310.1 534.9H312.7M310.1 533.4H312.7M310.1 532.1H312.7M310.1 531.1H312.7M310.1 530.2H312.7M310.1 529.4H312.7M308.5 528.6H312.7M310.1 523.9H312.7M310.1 521.1H312.7M310.1 519.2H312.7M310.1 517.6H312.7M310.1 516.4H312.7M310.1 515.3H312.7M310.1 514.4H312.7M310.1 513.6H312.7M308.5 512.9H312.7M310.1 508.2H312.7M310.1 505.4H312.7M310.1 503.4H312.7M310.1 501.9H312.7M310.1 500.6H312.7M310.1 499.6H312.7M310.1 498.7H312.7M310.1 497.9H312.7M308.5 497.1H312.7M310.1 492.4H312.7M310.1 489.6H312.7M310.1 487.7H312.7M310.1 486.1H312.7M310.1 484.9H312.7M310.1 483.8H312.7M310.1 482.9H312.7M310.1 482.1H312.7M308.5 481.4H312.7M310.1 476.7H312.7M310.1 546.1H312.7M310.1 547.5H312.7M310.1 548.9H312.7M310.1 550.3H312.7M310.1 551.6H312.7M322.5 553.1V558.7M327.5 553.1V556.3M330.5 553.1V556.3M332.6 553.1V556.3M334.2 553.1V556.3M335.5 553.1V556.3M336.6 553.1V556.3M337.6 553.1V556.3M338.4 553.1V556.3M339.2 553.1V558.7M344.2 553.1V556.3M347.2 553.1V556.3M349.3 553.1V556.3M350.9 553.1V556.3M352.2 553.1V556.3M353.3 553.1V556.3M354.3 553.1V556.3M355.1 553.1V556.3M355.9 553.1V558.7M360.9 553.1V556.3M363.9 553.1V556.3M366.0 553.1V556.3M367.6 553.1V556.3M368.9 553.1V556.3M370.0 553.1V556.3M371.0 553.1V556.3M371.8 553.1V556.3M372.6 553.1V558.7M377.6 553.1V556.3M380.6 553.1V556.3M382.7 553.1V556.3M384.3 553.1V556.3M385.6 553.1V556.3M386.7 553.1V556.3M387.7 553.1V556.3M388.5 553.1V556.3M389.3 553.1V558.7M394.3 553.1V556.3M397.3 553.1V556.3M314.3 553.1V556.3M315.7 553.1V556.3M317.1 553.1V556.3M318.5 553.1V556.3M319.9 553.1V556.3M321.2 553.1V556.3" stroke="#222" stroke-width="0.9" fill="none"/>
<rect x="312.7" y="473.0" width="87.3" height="80.1" fill="#fff" stroke="#5c5c5c" stroke-width="1.0" />
<path d="M419.3 544.8H423.5M420.9 540.1H423.5M420.9 537.3H423.5M420.9 535.3H423.5M420.9 533.8H423.5M420.9 532.5H423.5M420.9 531.5H423.5M420.9 530.6H423.5M420.9 529.8H423.5M419.3 529.0H423.5M420.9 524.3H423.5M420.9 521.5H423.5M420.9 519.6H423.5M420.9 518.0H423.5M420.9 516.8H423.5M420.9 515.7H423.5M420.9 514.8H423.5M420.9 514.0H423.5M419.3 513.3H423.5M420.9 508.6H423.5M420.9 505.8H423.5M420.9 503.8H423.5M420.9 502.3H423.5M420.9 501.0H423.5M420.9 500.0H423.5M420.9 499.1H423.5M420.9 498.3H423.5M419.3 497.5H423.5M420.9 492.8H423.5M420.9 490.0H423.5M420.9 488.1H423.5M420.9 486.5H423.5M420.9 485.3H423.5M420.9 484.2H423.5M420.9 483.3H423.5M420.9 482.5H423.5M419.3 481.8H423.5M420.9 477.1H423.5M420.9 474.3H423.5M420.9 546.5H423.5M420.9 547.9H423.5M420.9 549.3H423.5M420.9 550.7H423.5M420.9 552.0H423.5M433.3 553.5V559.1M438.3 553.5V556.7M441.3 553.5V556.7M443.4 553.5V556.7M445.0 553.5V556.7M446.3 553.5V556.7M447.4 553.5V556.7M448.4 553.5V556.7M449.2 553.5V556.7M450.0 553.5V559.1M455.0 553.5V556.7M458.0 553.5V556.7M460.1 553.5V556.7M461.7 553.5V556.7M463.0 553.5V556.7M464.1 553.5V556.7M465.1 553.5V556.7M465.9 553.5V556.7M466.7 553.5V559.1M471.7 553.5V556.7M474.7 553.5V556.7M476.8 553.5V556.7M478.4 553.5V556.7M479.7 553.5V556.7M480.8 553.5V556.7M481.8 553.5V556.7M482.6 553.5V556.7M483.4 553.5V559.1M488.4 553.5V556.7M491.4 553.5V556.7M493.5 553.5V556.7M495.1 553.5V556.7M496.4 553.5V556.7M497.5 553.5V556.7M498.5 553.5V556.7M499.3 553.5V556.7M500.1 553.5V559.1M505.1 553.5V556.7M425.1 553.5V556.7M426.5 553.5V556.7M427.9 553.5V556.7M429.3 553.5V556.7M430.7 553.5V556.7M432.0 553.5V556.7" stroke="#222" stroke-width="0.9" fill="none"/>
<rect x="423.5" y="472.7" width="85.1" height="80.8" fill="#fff" stroke="#5c5c5c" stroke-width="1.0" />
<path d="M57.2 389.5L56.5 389.5 55.8 389.5 55.0 389.6 54.2 389.6 53.5 389.6 52.8 389.6 52.0 389.6 51.2 389.6 50.5 389.5 49.8 389.5 49.2 389.5 48.5 389.4 47.8 389.3 47.1 389.2 46.5 389.2 45.8 389.0 45.2 388.9 44.7 388.8 44.0 388.5 43.5 388.3 43.0 388.1 42.5 387.9 42.0 387.6 41.5 387.3 41.1 387.0 40.7 386.8 40.2 386.4 39.9 386.0 39.5 385.6 39.2 385.2 38.9 384.8 38.6 384.2 38.4 383.8 38.2 383.2 38.1 382.5 38.1 381.8 38.2 381.0 38.4 380.5 38.6 380.0 38.9 379.5 39.2 379.1 39.5 378.8 40.0 378.3 40.3 378.0 40.8 377.6 41.2 377.3 41.7 377.0 42.1 376.8 42.6 376.5 43.1 376.2 43.7 376.0 44.2 375.8 44.8 375.6 45.2 375.4 45.9 375.2 46.5 375.1 47.0 375.0 47.8 374.8 48.2 374.7 49.0 374.6 49.8 374.5 50.2 374.5 51.0 374.4 51.8 374.3 52.5 374.3 53.2 374.3 53.8 374.2 54.5 374.2 55.2 374.2 56.0 374.2 56.8 374.2 57.5 374.2 58.2 374.2 58.8 374.2 59.5 374.3 60.2 374.3 61.0 374.4 61.8 374.5 62.2 374.5 63.0 374.6 63.8 374.7 64.2 374.8 65.0 374.9 65.5 375.0 66.2 375.2 66.8 375.3 67.4 375.5 68.0 375.7 68.5 375.8 69.0 376.0 69.7 376.2 70.2 376.5 70.8 376.7 71.2 376.9 71.8 377.2 72.2 377.5 72.7 377.8 73.1 378.0 73.5 378.3 74.0 378.7 74.3 379.0 74.7 379.5 75.0 379.9 75.2 380.3 75.5 380.8 75.7 381.5 75.7 382.2 75.6 383.0 75.4 383.5 75.1 384.0 74.8 384.5 74.5 384.8 74.0 385.2 73.7 385.5 73.2 385.9 72.8 386.2 72.3 386.5 71.9 386.8 71.4 387.0 70.8 387.2 70.3 387.5 69.8 387.7 69.2 387.9 68.8 388.0 68.0 388.2 67.5 388.4 67.0 388.5 66.2 388.7 65.8 388.8 65.0 388.9 64.3 389.0 63.8 389.1 63.0 389.2 62.2 389.2 61.8 389.3 61.0 389.3 60.2 389.4 59.5 389.4 58.8 389.5 58.0 389.5 57.4 389.5Z" fill="#cccccc" stroke="#7a7a7a" stroke-width="0.4"/>
<path d="M58.2 388.3L57.5 388.3 56.8 388.3 56.0 388.4 55.2 388.4 54.5 388.4 53.8 388.4 53.0 388.4 52.2 388.4 51.5 388.4 50.8 388.4 50.0 388.3 49.2 388.3 48.8 388.2 48.0 388.1 47.5 388.0 46.8 387.8 46.2 387.7 45.7 387.5 45.0 387.2 44.5 387.0 44.0 386.8 43.6 386.5 43.2 386.2 42.8 385.9 42.3 385.5 42.0 385.2 41.6 384.8 41.2 384.3 41.0 383.8 40.8 383.2 40.7 382.8 40.7 382.0 40.8 381.5 41.0 380.8 41.2 380.2 41.5 379.8 41.8 379.5 42.2 379.0 42.5 378.8 43.0 378.4 43.5 378.0 44.0 377.8 44.4 377.5 45.0 377.2 45.5 377.0 46.0 376.9 46.5 376.7 47.2 376.5 47.8 376.4 48.3 376.2 49.0 376.1 49.8 376.0 50.2 375.9 51.0 375.9 51.8 375.8 52.5 375.8 53.0 375.7 53.8 375.7 54.5 375.7 55.2 375.7 56.0 375.7 56.8 375.7 57.5 375.7 58.2 375.7 58.8 375.8 59.5 375.8 60.2 375.9 61.0 375.9 61.5 376.0 62.2 376.1 63.0 376.2 63.5 376.3 64.2 376.5 64.8 376.6 65.4 376.8 66.0 376.9 66.5 377.1 67.0 377.3 67.6 377.5 68.2 377.8 68.7 378.0 69.2 378.2 69.6 378.5 70.0 378.8 70.5 379.1 70.9 379.5 71.2 379.9 71.5 380.2 71.8 380.8 72.0 381.2 72.1 382.0 72.0 382.8 71.8 383.2 71.5 383.8 71.2 384.1 70.9 384.5 70.5 384.9 70.0 385.2 69.6 385.5 69.2 385.8 68.7 386.0 68.2 386.2 67.6 386.5 67.0 386.7 66.5 386.9 66.0 387.1 65.3 387.2 64.8 387.4 64.2 387.5 63.5 387.7 63.0 387.8 62.2 387.9 61.5 388.0 61.0 388.0 60.2 388.1 59.5 388.2 58.8 388.2 58.2 388.3Z" fill="#b4b4b4" stroke="#7a7a7a" stroke-width="0.4"/>
<path d="M56.5 387.0L55.8 387.0 55.0 387.1 54.2 387.1 53.5 387.1 52.8 387.1 52.0 387.1 51.2 387.1 50.5 387.1 50.0 387.0 49.2 386.9 48.5 386.8 48.0 386.7 47.4 386.5 46.8 386.3 46.2 386.1 45.8 385.8 45.2 385.6 44.8 385.2 44.5 385.0 44.0 384.5 43.8 384.2 43.4 383.8 43.2 383.2 43.0 382.5 43.1 381.8 43.2 381.1 43.5 380.6 43.8 380.2 44.2 379.8 44.5 379.5 45.0 379.1 45.5 378.8 46.0 378.5 46.5 378.3 47.0 378.1 47.5 377.9 48.2 377.8 48.8 377.6 49.3 377.5 50.0 377.4 50.8 377.3 51.2 377.2 52.0 377.2 52.8 377.1 53.5 377.1 54.2 377.1 55.0 377.1 55.8 377.1 56.5 377.1 57.2 377.1 58.0 377.1 58.8 377.2 59.3 377.2 60.0 377.3 60.8 377.4 61.3 377.5 62.0 377.6 62.6 377.8 63.2 377.9 63.8 378.0 64.4 378.2 65.0 378.5 65.5 378.7 66.0 378.9 66.5 379.2 67.0 379.5 67.4 379.8 67.8 380.1 68.1 380.5 68.5 381.0 68.6 381.5 68.7 382.2 68.5 382.9 68.2 383.3 67.9 383.8 67.5 384.1 67.0 384.5 66.7 384.8 66.2 385.0 65.7 385.2 65.1 385.5 64.5 385.7 64.0 385.9 63.5 386.0 62.8 386.2 62.2 386.3 61.5 386.5 61.0 386.6 60.2 386.7 59.6 386.8 59.0 386.8 58.2 386.9 57.5 386.9 56.8 387.0Z" fill="#9e9e9e" stroke="#7a7a7a" stroke-width="0.4"/>
<path d="M56.0 386.0L55.2 386.1 54.5 386.1 53.8 386.1 53.0 386.1 52.2 386.1 51.5 386.1 50.8 386.1 50.2 386.0 49.5 385.9 48.8 385.8 48.2 385.6 47.8 385.4 47.2 385.2 46.8 385.0 46.2 384.7 45.8 384.3 45.5 384.0 45.1 383.5 44.9 383.0 44.8 382.2 44.9 381.5 45.1 381.0 45.5 380.5 45.8 380.2 46.2 379.9 46.8 379.5 47.2 379.3 47.8 379.1 48.2 378.9 48.8 378.7 49.5 378.5 50.0 378.4 50.8 378.3 51.3 378.2 52.0 378.2 52.8 378.1 53.5 378.1 54.2 378.1 55.0 378.1 55.8 378.1 56.5 378.1 57.2 378.2 58.0 378.2 58.5 378.3 59.2 378.3 60.0 378.5 60.5 378.5 61.2 378.7 61.8 378.8 62.4 379.0 63.0 379.2 63.5 379.4 64.0 379.6 64.5 379.9 65.0 380.2 65.3 380.5 65.8 381.0 66.0 381.5 66.1 382.0 66.0 382.5 65.8 383.0 65.3 383.5 65.0 383.8 64.5 384.1 64.0 384.4 63.5 384.6 63.0 384.8 62.5 385.0 61.8 385.2 61.2 385.3 60.5 385.5 60.0 385.6 59.2 385.7 58.7 385.8 58.0 385.8 57.2 385.9 56.5 386.0 56.0 386.0Z" fill="#8c8c8c" stroke="#7a7a7a" stroke-width="0.4"/>
<path d="M56.5 385.0L55.8 385.1 55.0 385.1 54.2 385.2 53.5 385.2 52.8 385.2 52.0 385.2 51.2 385.2 50.5 385.1 50.0 385.0 49.2 384.8 48.8 384.7 48.2 384.5 47.8 384.2 47.2 383.9 46.9 383.5 46.6 383.0 46.4 382.5 46.5 381.8 46.7 381.2 47.0 380.9 47.4 380.5 47.8 380.2 48.3 380.0 48.9 379.8 49.5 379.5 50.0 379.4 50.8 379.3 51.2 379.2 52.0 379.1 52.8 379.1 53.5 379.0 54.2 379.0 55.0 379.0 55.8 379.1 56.5 379.1 57.2 379.1 58.0 379.2 58.5 379.3 59.2 379.4 59.8 379.5 60.5 379.7 61.0 379.8 61.5 380.0 62.1 380.2 62.5 380.5 63.0 380.9 63.3 381.2 63.6 381.8 63.5 382.5 63.2 382.9 62.9 383.2 62.5 383.5 62.0 383.8 61.5 384.0 60.8 384.2 60.2 384.4 59.8 384.5 59.0 384.7 58.5 384.8 57.8 384.9 57.0 385.0 56.5 385.0Z" fill="#7e7e7e" stroke="#7a7a7a" stroke-width="0.4"/>
<path d="M53.2 384.3L52.5 384.3 52.0 384.2 51.2 384.2 50.5 384.0 50.0 383.9 49.5 383.7 49.0 383.4 48.5 383.0 48.2 382.5 48.2 382.0 48.5 381.5 48.8 381.2 49.2 380.9 49.8 380.6 50.2 380.4 51.0 380.2 51.5 380.2 52.2 380.1 53.0 380.0 53.5 380.0 54.2 380.0 54.8 380.0 55.5 380.1 56.2 380.1 57.0 380.2 57.5 380.3 58.2 380.4 58.8 380.6 59.3 380.8 59.9 381.0 60.3 381.2 60.7 381.8 60.5 382.5 60.2 382.8 59.8 383.1 59.2 383.3 58.7 383.5 58.0 383.7 57.5 383.8 56.8 383.9 56.2 384.0 55.5 384.1 54.8 384.2 54.0 384.2 53.5 384.2Z" fill="#727272" stroke="#7a7a7a" stroke-width="0.4"/>
<path d="M41.5 413.0L41.0 413.0 40.2 412.9 39.8 412.7 39.2 412.5 38.7 412.2 38.2 411.9 37.9 411.5 37.5 411.0 37.3 410.5 37.1 410.0 36.9 409.5 36.8 408.8 36.8 408.2 36.8 407.7 36.8 407.0 36.9 406.2 37.0 405.8 37.2 405.0 37.4 404.5 37.5 404.0 37.8 403.5 38.0 402.9 38.2 402.4 38.5 402.0 38.8 401.5 39.1 401.0 39.4 400.5 39.8 400.1 40.0 399.7 40.4 399.2 40.8 398.8 41.1 398.5 41.5 398.0 41.8 397.8 42.2 397.3 42.6 397.0 43.0 396.7 43.5 396.3 44.0 396.0 44.3 395.8 44.8 395.5 45.2 395.2 45.8 395.0 46.2 394.7 46.9 394.5 47.5 394.3 48.0 394.2 48.8 394.0 49.5 394.0 49.8 394.0 50.5 394.1 51.2 394.2 51.8 394.5 52.2 394.7 52.6 395.0 53.0 395.4 53.3 395.8 53.6 396.2 53.8 396.8 54.0 397.2 54.2 398.0 54.2 398.8 54.3 399.2 54.2 399.8 54.1 400.5 54.0 401.2 53.9 401.8 53.7 402.2 53.5 402.9 53.3 403.5 53.0 404.0 52.8 404.5 52.5 405.0 52.2 405.5 52.0 405.9 51.7 406.2 51.4 406.8 51.0 407.2 50.8 407.6 50.4 408.0 50.0 408.4 49.7 408.8 49.2 409.2 48.9 409.5 48.5 409.9 48.1 410.2 47.7 410.5 47.2 410.9 46.8 411.2 46.3 411.5 45.8 411.8 45.3 412.0 44.8 412.2 44.2 412.5 43.8 412.6 43.2 412.8 42.5 412.9 41.8 413.0Z" fill="#f6f6f6" stroke="#8a8a8a" stroke-width="0.65"/>
<path d="M43.0 410.8L42.2 410.8 41.6 410.8 41.0 410.6 40.5 410.4 40.0 410.0 39.7 409.8 39.3 409.2 39.1 408.8 38.9 408.2 38.8 407.5 38.8 406.8 38.8 406.0 39.0 405.2 39.1 404.8 39.2 404.2 39.5 403.6 39.8 403.0 40.0 402.5 40.2 402.1 40.5 401.7 40.8 401.2 41.1 400.8 41.5 400.3 41.8 400.0 42.2 399.5 42.5 399.2 43.0 398.8 43.3 398.5 43.8 398.1 44.2 397.8 44.7 397.5 45.1 397.2 45.5 397.0 46.1 396.8 46.8 396.5 47.2 396.4 47.8 396.2 48.5 396.2 49.2 396.2 49.8 396.3 50.2 396.5 50.8 396.8 51.2 397.2 51.5 397.5 51.8 398.0 52.0 398.5 52.2 399.2 52.2 400.0 52.2 400.8 52.1 401.5 52.0 402.0 51.8 402.8 51.6 403.2 51.4 403.8 51.1 404.2 50.8 404.8 50.5 405.2 50.2 405.7 50.0 406.1 49.7 406.5 49.2 407.0 49.0 407.3 48.5 407.8 48.2 408.0 47.8 408.5 47.4 408.8 47.0 409.1 46.5 409.4 46.0 409.7 45.5 410.0 45.0 410.2 44.5 410.4 44.0 410.6 43.2 410.7Z" fill="#efefef" stroke="#8a8a8a" stroke-width="0.65"/>
<path d="M43.5 408.8L42.8 408.8 42.2 408.6 41.8 408.4 41.3 408.0 41.0 407.5 40.8 407.0 40.7 406.5 40.6 405.8 40.7 405.0 40.8 404.5 41.0 404.0 41.2 403.4 41.5 402.9 41.8 402.4 42.0 402.0 42.4 401.5 42.8 401.0 43.0 400.8 43.5 400.2 43.8 400.0 44.2 399.6 44.8 399.3 45.2 399.0 45.7 398.8 46.2 398.5 46.8 398.4 47.3 398.2 48.0 398.2 48.5 398.3 49.0 398.5 49.5 398.8 49.9 399.2 50.1 399.8 50.3 400.2 50.4 401.0 50.3 401.8 50.2 402.2 50.0 403.0 49.8 403.5 49.6 404.0 49.3 404.5 49.0 405.0 48.8 405.3 48.4 405.8 48.0 406.2 47.8 406.5 47.2 407.0 46.9 407.2 46.5 407.6 46.0 407.9 45.5 408.2 45.0 408.4 44.5 408.6 43.8 408.7Z" fill="#e8e8e8" stroke="#8a8a8a" stroke-width="0.65"/>
<path d="M45.2 405.6L44.5 405.7 43.8 405.5 43.5 405.0 43.4 404.5 43.5 404.0 43.8 403.3 44.0 402.9 44.3 402.5 44.8 402.0 45.1 401.8 45.5 401.5 46.2 401.3 47.0 401.4 47.4 401.8 47.6 402.2 47.5 403.0 47.3 403.5 47.1 404.0 46.8 404.5 46.5 404.8 46.0 405.2 45.5 405.5Z" fill="#e0e0e0" stroke="#8a8a8a" stroke-width="0.65"/>
<path d="M156.2 391.3L155.5 391.3 154.8 391.4 154.0 391.4 153.2 391.5 152.5 391.5 151.8 391.5 151.0 391.5 150.2 391.5 149.5 391.5 148.8 391.5 148.0 391.4 147.2 391.4 146.5 391.4 145.8 391.3 145.0 391.3 144.5 391.2 143.8 391.1 143.0 391.0 142.5 391.0 141.8 390.9 141.2 390.8 140.5 390.6 140.0 390.5 139.2 390.3 138.8 390.1 138.2 389.9 137.8 389.7 137.2 389.4 136.8 389.0 136.4 388.8 136.0 388.3 135.8 387.9 135.5 387.4 135.3 386.8 135.2 386.2 135.2 385.6 135.4 385.0 135.5 384.5 135.8 384.0 136.1 383.5 136.5 383.1 136.8 382.8 137.2 382.4 137.7 382.0 138.1 381.8 138.5 381.5 139.0 381.2 139.5 380.9 140.0 380.7 140.5 380.5 141.0 380.2 141.7 380.0 142.2 379.8 142.8 379.7 143.4 379.5 144.0 379.4 144.5 379.2 145.2 379.1 145.9 379.0 146.5 378.9 147.2 378.8 148.0 378.8 148.5 378.7 149.2 378.7 150.0 378.6 150.8 378.6 151.5 378.6 152.2 378.7 153.0 378.7 153.5 378.8 154.2 378.8 155.0 378.9 155.5 379.0 156.2 379.1 156.9 379.2 157.5 379.4 158.0 379.5 158.8 379.7 159.2 379.9 159.8 380.0 160.4 380.2 161.0 380.5 161.5 380.7 162.0 381.0 162.5 381.2 162.9 381.5 163.3 381.8 163.8 382.0 164.2 382.4 164.6 382.8 165.0 383.2 165.3 383.5 165.6 384.0 165.9 384.5 166.0 385.0 166.2 385.8 166.1 386.5 166.0 387.1 165.8 387.7 165.5 388.1 165.2 388.5 164.8 389.0 164.4 389.2 164.0 389.5 163.5 389.8 163.0 390.0 162.3 390.2 161.8 390.4 161.2 390.5 160.5 390.7 160.0 390.8 159.2 390.9 158.7 391.0 158.0 391.1 157.2 391.2 156.5 391.2Z" fill="#ececec" stroke="#737373" stroke-width="0.55"/>
<path d="M154.0 391.0L153.2 391.1 152.5 391.1 151.8 391.1 151.0 391.1 150.2 391.1 149.5 391.1 148.8 391.1 148.0 391.0 147.2 391.0 146.8 391.0 146.0 390.9 145.2 390.9 144.5 390.8 144.0 390.7 143.2 390.6 142.8 390.5 142.0 390.3 141.5 390.2 140.8 390.0 140.2 389.8 139.8 389.6 139.2 389.4 138.8 389.1 138.4 388.8 138.0 388.4 137.7 388.0 137.4 387.5 137.2 387.0 137.0 386.2 137.0 385.8 137.1 385.2 137.2 384.7 137.5 384.2 137.8 383.8 138.2 383.3 138.5 383.0 139.0 382.6 139.5 382.2 139.9 382.0 140.3 381.8 140.8 381.5 141.3 381.2 141.9 381.0 142.5 380.8 143.0 380.6 143.5 380.5 144.2 380.2 144.8 380.1 145.3 380.0 146.0 379.9 146.8 379.8 147.2 379.7 148.0 379.6 148.8 379.5 149.5 379.5 150.0 379.5 150.8 379.5 151.5 379.5 152.0 379.5 152.8 379.6 153.5 379.6 154.2 379.7 154.8 379.8 155.5 379.9 156.1 380.0 156.8 380.1 157.2 380.3 158.0 380.5 158.5 380.6 159.0 380.8 159.5 381.0 160.1 381.2 160.6 381.5 161.1 381.8 161.5 382.0 162.0 382.3 162.5 382.7 162.9 383.0 163.2 383.4 163.6 383.8 163.9 384.2 164.2 384.8 164.3 385.2 164.4 386.0 164.3 386.8 164.2 387.2 163.9 387.8 163.5 388.2 163.2 388.5 162.8 389.0 162.4 389.2 161.9 389.5 161.4 389.8 160.8 390.0 160.2 390.1 159.8 390.3 159.0 390.4 158.5 390.5 157.8 390.7 157.0 390.7 156.5 390.8 155.8 390.9 155.0 391.0 154.2 391.0Z" fill="#e2e2e2" stroke="#737373" stroke-width="0.55"/>
<path d="M152.5 390.8L151.8 390.8 151.0 390.8 150.2 390.8 149.5 390.8 148.8 390.8 148.2 390.7 147.5 390.7 146.8 390.6 146.0 390.6 145.5 390.5 144.8 390.4 144.0 390.3 143.5 390.2 142.8 390.0 142.2 389.9 141.8 389.7 141.2 389.5 140.7 389.2 140.2 389.0 139.8 388.6 139.4 388.2 139.0 387.8 138.8 387.4 138.5 386.8 138.4 386.2 138.4 385.5 138.6 385.0 138.8 384.5 139.1 384.0 139.5 383.6 139.8 383.2 140.2 382.9 140.8 382.5 141.2 382.2 141.7 382.0 142.2 381.8 142.8 381.5 143.2 381.3 143.8 381.2 144.3 381.0 145.0 380.8 145.5 380.7 146.2 380.5 146.8 380.4 147.5 380.3 148.2 380.3 148.8 380.2 149.5 380.2 150.2 380.1 151.0 380.1 151.8 380.2 152.5 380.2 153.1 380.2 153.8 380.3 154.5 380.4 155.0 380.5 155.8 380.7 156.2 380.8 157.0 381.0 157.5 381.1 158.0 381.3 158.6 381.5 159.2 381.8 159.7 382.0 160.2 382.2 160.6 382.5 161.0 382.8 161.5 383.2 161.8 383.5 162.2 384.0 162.5 384.3 162.8 384.8 163.0 385.5 163.0 386.0 163.0 386.5 162.8 387.2 162.5 387.7 162.2 388.0 161.8 388.5 161.5 388.8 161.0 389.1 160.5 389.3 160.0 389.6 159.5 389.8 158.8 390.0 158.2 390.1 157.5 390.2 157.0 390.3 156.2 390.5 155.8 390.5 155.0 390.6 154.2 390.7 153.5 390.7 152.8 390.7Z" fill="#d8d8d8" stroke="#737373" stroke-width="0.55"/>
<path d="M154.5 390.3L153.8 390.3 153.0 390.4 152.2 390.4 151.5 390.4 150.8 390.4 150.0 390.4 149.2 390.4 148.5 390.4 147.8 390.3 147.0 390.3 146.5 390.2 145.8 390.1 145.1 390.0 144.5 389.9 143.9 389.8 143.2 389.5 142.8 389.4 142.2 389.1 141.8 388.9 141.2 388.5 140.9 388.2 140.5 387.9 140.2 387.5 140.0 387.0 139.8 386.2 139.8 385.5 140.0 384.9 140.2 384.5 140.6 384.0 141.0 383.6 141.4 383.2 141.8 383.0 142.2 382.7 142.8 382.4 143.2 382.2 143.8 382.0 144.4 381.8 145.0 381.6 145.5 381.4 146.2 381.2 146.8 381.1 147.5 381.0 148.0 381.0 148.8 380.9 149.5 380.8 150.2 380.8 151.0 380.8 151.8 380.8 152.5 380.9 153.2 380.9 153.8 381.0 154.5 381.1 155.2 381.2 155.8 381.4 156.2 381.5 157.0 381.7 157.5 381.9 158.0 382.1 158.5 382.3 159.0 382.6 159.5 382.9 160.0 383.2 160.3 383.5 160.8 383.9 161.0 384.2 161.3 384.8 161.5 385.2 161.6 386.0 161.5 386.8 161.3 387.2 161.0 387.7 160.8 388.0 160.2 388.5 159.9 388.8 159.4 389.0 158.9 389.2 158.3 389.5 157.8 389.7 157.2 389.8 156.5 390.0 156.0 390.1 155.2 390.2 154.5 390.2Z" fill="#cfcfcf" stroke="#737373" stroke-width="0.55"/>
<path d="M153.2 390.0L152.5 390.1 151.8 390.1 151.0 390.1 150.2 390.1 149.5 390.1 148.8 390.0 148.1 390.0 147.5 389.9 146.8 389.8 146.2 389.8 145.5 389.6 145.0 389.5 144.2 389.3 143.8 389.1 143.2 388.9 142.8 388.6 142.3 388.2 142.0 388.0 141.5 387.5 141.2 387.1 141.0 386.5 141.0 386.0 141.0 385.5 141.2 384.9 141.5 384.5 141.9 384.0 142.2 383.7 142.8 383.3 143.2 383.0 143.8 382.8 144.2 382.5 144.8 382.3 145.2 382.2 145.8 382.0 146.5 381.8 147.0 381.7 147.8 381.6 148.4 381.5 149.0 381.4 149.8 381.4 150.5 381.4 151.2 381.4 152.0 381.4 152.8 381.5 153.2 381.5 154.0 381.6 154.5 381.8 155.2 381.9 155.8 382.0 156.4 382.2 157.0 382.5 157.5 382.7 158.0 382.9 158.5 383.2 158.9 383.5 159.2 383.8 159.7 384.2 160.0 384.6 160.2 385.1 160.4 385.8 160.4 386.5 160.2 387.0 159.9 387.5 159.5 387.9 159.1 388.2 158.8 388.5 158.2 388.8 157.8 389.0 157.2 389.2 156.5 389.5 156.0 389.6 155.2 389.7 154.8 389.8 154.0 389.9 153.3 390.0Z" fill="#c6c6c6" stroke="#737373" stroke-width="0.55"/>
<path d="M154.0 389.5L153.2 389.6 152.5 389.7 151.8 389.7 151.0 389.7 150.2 389.7 149.5 389.7 148.8 389.7 148.0 389.6 147.3 389.5 146.8 389.4 146.0 389.2 145.5 389.1 145.0 388.9 144.5 388.7 144.0 388.5 143.5 388.2 143.0 387.8 142.7 387.5 142.4 387.0 142.2 386.5 142.1 385.8 142.2 385.2 142.5 384.8 142.9 384.2 143.2 384.0 143.8 383.6 144.2 383.3 144.8 383.0 145.2 382.8 145.8 382.7 146.3 382.5 147.0 382.3 147.5 382.2 148.2 382.1 148.9 382.0 149.5 381.9 150.2 381.9 151.0 381.9 151.8 381.9 152.5 382.0 153.0 382.1 153.8 382.2 154.2 382.3 155.0 382.5 155.5 382.6 156.0 382.8 156.5 383.0 157.1 383.2 157.5 383.5 158.0 383.8 158.5 384.2 158.8 384.6 159.0 385.0 159.2 385.6 159.3 386.2 159.2 386.8 158.9 387.2 158.5 387.7 158.2 388.0 157.8 388.3 157.2 388.6 156.8 388.8 156.2 389.0 155.5 389.2 155.0 389.3 154.2 389.5Z" fill="#bdbdbd" stroke="#737373" stroke-width="0.55"/>
<path d="M152.5 389.3L151.8 389.3 151.0 389.4 150.2 389.3 149.5 389.3 148.8 389.3 148.2 389.2 147.5 389.1 147.0 389.0 146.2 388.8 145.8 388.6 145.2 388.4 144.8 388.1 144.2 387.8 143.9 387.5 143.5 387.0 143.3 386.5 143.2 386.0 143.3 385.5 143.5 385.0 143.9 384.5 144.2 384.2 144.8 383.8 145.2 383.6 145.8 383.3 146.2 383.1 146.8 383.0 147.5 382.8 148.0 382.7 148.8 382.6 149.3 382.5 150.0 382.5 150.8 382.4 151.5 382.5 152.1 382.5 152.8 382.6 153.5 382.7 154.0 382.8 154.7 383.0 155.2 383.2 155.8 383.4 156.2 383.6 156.8 383.9 157.2 384.2 157.5 384.5 157.9 385.0 158.1 385.5 158.2 386.2 158.0 386.8 157.7 387.2 157.2 387.7 156.8 388.0 156.4 388.2 155.9 388.5 155.2 388.7 154.8 388.9 154.2 389.0 153.5 389.1 152.8 389.2Z" fill="#b5b5b5" stroke="#737373" stroke-width="0.55"/>
<path d="M152.8 388.8L152.0 388.9 151.2 388.9 150.5 388.9 149.8 388.9 149.0 388.8 148.5 388.7 147.8 388.6 147.2 388.5 146.6 388.2 146.0 388.0 145.5 387.8 145.2 387.5 144.8 387.1 144.5 386.7 144.3 386.0 144.5 385.3 144.8 384.9 145.2 384.5 145.5 384.2 146.0 384.0 146.5 383.7 147.1 383.5 147.8 383.3 148.2 383.2 149.0 383.1 149.8 383.0 150.2 383.0 151.0 383.0 151.5 383.0 152.2 383.1 153.0 383.2 153.5 383.3 154.2 383.5 154.8 383.7 155.2 383.9 155.8 384.2 156.2 384.5 156.5 384.8 156.9 385.2 157.0 385.8 157.0 386.4 156.8 386.9 156.5 387.2 156.0 387.6 155.5 388.0 155.0 388.2 154.5 388.4 154.0 388.5 153.2 388.7 152.8 388.8Z" fill="#adadad" stroke="#737373" stroke-width="0.55"/>
<path d="M152.2 388.3L151.5 388.4 150.8 388.4 150.0 388.4 149.2 388.3 148.8 388.2 148.0 388.0 147.5 387.9 147.0 387.7 146.5 387.4 146.0 387.0 145.8 386.7 145.6 386.0 145.8 385.3 146.0 385.0 146.5 384.6 147.0 384.3 147.5 384.1 148.0 383.9 148.7 383.8 149.2 383.7 150.0 383.6 150.8 383.6 151.5 383.6 152.2 383.7 152.8 383.8 153.5 383.9 154.0 384.1 154.5 384.3 155.0 384.7 155.4 385.0 155.7 385.5 155.8 386.0 155.7 386.5 155.4 387.0 155.0 387.3 154.5 387.6 154.0 387.8 153.5 388.0 152.8 388.2 152.2 388.3Z" fill="#a5a5a5" stroke="#737373" stroke-width="0.55"/>
<path d="M151.5 387.8L150.8 387.8 150.0 387.8 149.5 387.7 148.8 387.5 148.2 387.4 147.8 387.1 147.2 386.8 147.0 386.5 146.9 385.8 147.2 385.2 147.5 385.0 148.0 384.7 148.5 384.5 149.2 384.3 149.8 384.2 150.5 384.2 151.2 384.2 151.8 384.2 152.5 384.4 153.0 384.5 153.5 384.8 154.0 385.1 154.4 385.5 154.5 386.0 154.4 386.5 154.0 386.9 153.5 387.2 153.0 387.4 152.5 387.6 151.8 387.7Z" fill="#9d9d9d" stroke="#737373" stroke-width="0.55"/>
<path d="M156.7 391.3L157.2 391.6 157.6 391.8 158.0 392.1 158.5 392.4 158.9 392.8 159.2 393.1 159.6 393.6 160.0 394.1 160.2 394.5 160.5 395.0 160.8 395.5 160.9 396.1 161.0 396.6 161.2 397.3 161.2 398.1 161.2 398.8 161.0 399.6 160.9 400.1 160.8 400.6 160.5 401.3 160.3 401.8 160.0 402.3 159.8 402.7 159.5 403.1 159.2 403.6 158.8 404.1 158.5 404.4 158.1 404.8 157.8 405.1 157.2 405.5 156.9 405.8 156.5 406.1 156.0 406.5 155.5 406.8 155.0 407.0 154.5 407.3 154.0 407.5 153.5 407.8 153.0 407.9 152.5 408.1 151.8 408.3 151.2 408.4 150.7 408.6 150.0 408.7 149.2 408.7 148.5 408.8 147.8 408.8 147.0 408.7 146.2 408.6 145.8 408.5 145.0 408.4 144.5 408.2 144.0 408.0 143.5 407.8 143.0 407.6 142.5 407.3 142.0 407.0 141.5 406.6 141.2 406.3 140.8 405.9 140.5 405.6 140.1 405.1 139.8 404.6 139.5 404.1 139.3 403.6 139.1 403.1 139.0 402.6 138.9 401.8 138.8 401.1 138.8 400.3 138.9 399.6 139.0 399.1 139.2 398.4 139.5 397.8 139.7 397.3 139.9 396.8 140.2 396.3 140.5 395.9 140.8 395.6 141.1 395.1 141.5 394.6 141.8 394.3 142.2 393.9 142.6 393.6 143.0 393.3 143.5 392.9 144.0 392.6 144.4 392.3 144.8 392.1 145.3 391.8 145.8 391.6 146.4 391.3" fill="#f6f6f6" stroke="#8a8a8a" stroke-width="0.65"/>
<path d="M150.0 407.1L149.2 407.1 148.5 407.2 147.8 407.1 147.0 407.1 146.5 407.0 145.9 406.8 145.2 406.6 144.8 406.4 144.2 406.2 143.8 405.9 143.3 405.6 142.9 405.3 142.5 404.9 142.2 404.6 141.8 404.1 141.5 403.6 141.2 403.1 141.1 402.6 140.9 402.1 140.8 401.3 140.8 400.6 140.8 399.8 141.0 399.1 141.1 398.6 141.3 398.1 141.6 397.6 141.8 397.1 142.1 396.6 142.5 396.1 142.8 395.8 143.2 395.3 143.5 395.0 144.0 394.6 144.3 394.3 144.8 394.0 145.2 393.6 145.8 393.3 146.2 393.1 146.8 392.8 147.2 392.6 147.8 392.5 148.3 392.3 149.0 392.1 149.5 392.0 150.2 391.9 151.0 391.9 151.8 391.8 152.5 391.9 153.2 392.0 153.8 392.1 154.5 392.3 155.0 392.5 155.5 392.7 156.0 393.0 156.5 393.3 156.9 393.6 157.2 393.9 157.7 394.3 158.0 394.7 158.3 395.1 158.6 395.6 158.8 396.1 159.0 396.6 159.2 397.3 159.2 398.1 159.2 398.8 159.1 399.6 159.0 400.1 158.8 400.8 158.5 401.3 158.3 401.8 158.0 402.2 157.8 402.6 157.4 403.1 157.0 403.5 156.7 403.8 156.2 404.2 155.9 404.6 155.5 404.9 155.0 405.2 154.5 405.5 154.0 405.8 153.5 406.0 153.0 406.3 152.5 406.5 152.0 406.6 151.4 406.8 150.8 406.9 150.1 407.1Z" fill="#efefef" stroke="#8a8a8a" stroke-width="0.65"/>
<path d="M150.8 405.6L150.0 405.7 149.2 405.8 148.5 405.8 147.8 405.7 147.0 405.6 146.5 405.4 146.0 405.3 145.5 405.1 145.0 404.8 144.5 404.5 144.0 404.1 143.7 403.8 143.3 403.3 143.0 402.8 142.8 402.3 142.6 401.8 142.5 401.3 142.4 400.6 142.5 399.8 142.6 399.3 142.8 398.7 143.0 398.1 143.2 397.6 143.5 397.2 143.8 396.8 144.2 396.3 144.5 396.0 144.9 395.6 145.3 395.3 145.8 394.9 146.2 394.6 146.8 394.3 147.2 394.1 147.8 393.9 148.2 393.7 148.8 393.6 149.5 393.4 150.0 393.3 150.8 393.2 151.5 393.2 152.2 393.3 152.8 393.4 153.5 393.6 154.0 393.7 154.5 393.9 155.0 394.2 155.5 394.5 155.8 394.8 156.2 395.2 156.6 395.6 156.9 396.1 157.2 396.6 157.3 397.1 157.5 397.7 157.6 398.3 157.5 399.1 157.5 399.6 157.3 400.3 157.1 400.8 156.8 401.3 156.5 401.8 156.2 402.2 155.9 402.6 155.5 403.0 155.2 403.3 154.8 403.7 154.3 404.1 153.9 404.3 153.5 404.6 153.0 404.8 152.4 405.1 151.8 405.3 151.2 405.4 150.8 405.6Z" fill="#e8e8e8" stroke="#8a8a8a" stroke-width="0.65"/>
<path d="M150.5 404.1L149.8 404.2 149.0 404.2 148.2 404.2 147.7 404.1 147.0 403.8 146.5 403.6 146.0 403.3 145.6 403.1 145.2 402.7 145.0 402.3 144.7 401.8 144.5 401.3 144.3 400.6 144.3 399.8 144.5 399.1 144.7 398.6 144.9 398.1 145.2 397.6 145.5 397.2 145.9 396.8 146.2 396.5 146.8 396.1 147.2 395.8 147.7 395.6 148.2 395.3 148.8 395.1 149.2 395.0 150.0 394.8 150.5 394.8 151.2 394.8 151.8 394.8 152.5 395.0 153.0 395.2 153.5 395.4 154.0 395.7 154.5 396.1 154.8 396.3 155.1 396.8 155.4 397.3 155.6 397.8 155.7 398.6 155.6 399.3 155.5 400.0 155.3 400.6 155.0 401.1 154.8 401.4 154.5 401.8 154.0 402.3 153.7 402.6 153.2 402.9 152.8 403.2 152.2 403.5 151.8 403.7 151.2 403.9 150.6 404.1Z" fill="#e0e0e0" stroke="#8a8a8a" stroke-width="0.65"/>
<path d="M150.5 402.3L149.8 402.5 149.0 402.5 148.3 402.3 147.8 402.1 147.3 401.8 147.0 401.5 146.7 401.1 146.5 400.6 146.4 399.8 146.5 399.3 146.8 398.7 147.0 398.3 147.4 397.8 147.8 397.5 148.2 397.2 148.8 396.9 149.2 396.7 150.0 396.6 150.5 396.5 151.0 396.6 151.8 396.7 152.2 396.9 152.8 397.3 153.0 397.6 153.4 398.1 153.5 398.6 153.6 399.3 153.5 399.8 153.2 400.3 152.9 400.8 152.5 401.3 152.2 401.6 151.8 401.8 151.2 402.1 150.7 402.3Z" fill="#d8d8d8" stroke="#8a8a8a" stroke-width="0.65"/>
<path d="M257.8 392.5L257.0 392.5 256.2 392.6 255.5 392.6 254.8 392.6 254.0 392.6 253.2 392.6 252.5 392.6 251.8 392.6 251.0 392.6 250.2 392.5 249.6 392.5 249.0 392.5 248.2 392.4 247.5 392.4 246.8 392.3 246.2 392.2 245.5 392.1 244.8 392.0 244.2 391.9 243.5 391.8 243.0 391.7 242.4 391.5 241.8 391.3 241.2 391.1 240.8 390.9 240.2 390.6 239.8 390.3 239.4 390.0 239.0 389.6 238.7 389.2 238.3 388.8 238.1 388.2 237.9 387.8 237.8 387.1 237.7 386.5 237.8 386.0 238.0 385.2 238.2 384.8 238.4 384.2 238.8 383.8 239.0 383.5 239.5 383.0 239.8 382.8 240.2 382.3 240.7 382.0 241.1 381.8 241.5 381.5 242.0 381.2 242.5 381.0 243.0 380.8 243.6 380.5 244.2 380.3 244.8 380.1 245.2 379.9 245.8 379.8 246.5 379.6 247.0 379.5 247.8 379.3 248.2 379.2 249.0 379.1 249.6 379.0 250.2 378.9 251.0 378.8 251.8 378.8 252.5 378.8 253.0 378.7 253.8 378.7 254.5 378.7 255.0 378.8 255.8 378.8 256.5 378.9 257.2 378.9 257.8 379.0 258.5 379.1 259.2 379.2 259.8 379.3 260.5 379.5 261.0 379.6 261.6 379.8 262.2 380.0 262.8 380.1 263.2 380.3 263.8 380.5 264.4 380.8 264.9 381.0 265.4 381.2 265.9 381.5 266.3 381.8 266.8 382.1 267.2 382.4 267.6 382.8 268.0 383.1 268.4 383.5 268.8 384.0 269.0 384.3 269.2 384.8 269.5 385.4 269.6 386.0 269.7 386.8 269.6 387.5 269.4 388.0 269.2 388.5 268.9 389.0 268.5 389.5 268.2 389.8 267.8 390.2 267.4 390.5 266.9 390.8 266.4 391.0 265.8 391.2 265.2 391.4 264.8 391.6 264.0 391.7 263.5 391.9 262.8 392.0 262.2 392.1 261.5 392.2 260.8 392.2 260.2 392.3 259.5 392.4 258.8 392.4 258.0 392.5Z" fill="#ececec" stroke="#737373" stroke-width="0.55"/>
<path d="M258.5 392.0L257.8 392.1 257.0 392.1 256.2 392.2 255.5 392.2 254.8 392.2 254.0 392.2 253.2 392.2 252.5 392.2 251.8 392.2 251.0 392.2 250.2 392.1 249.5 392.1 248.8 392.0 248.2 392.0 247.5 391.9 246.8 391.8 246.2 391.7 245.5 391.6 245.0 391.5 244.2 391.3 243.8 391.1 243.2 391.0 242.7 390.8 242.2 390.5 241.8 390.2 241.2 389.8 240.9 389.5 240.5 389.1 240.2 388.8 239.9 388.2 239.7 387.8 239.6 387.0 239.6 386.2 239.7 385.5 239.9 385.0 240.2 384.5 240.5 384.1 240.8 383.8 241.2 383.3 241.6 383.0 242.0 382.7 242.5 382.3 243.0 382.0 243.5 381.8 244.0 381.5 244.5 381.3 245.0 381.1 245.5 380.9 246.0 380.8 246.8 380.5 247.2 380.4 247.9 380.2 248.5 380.1 249.2 380.0 249.8 379.9 250.5 379.8 251.1 379.8 251.8 379.7 252.5 379.7 253.2 379.6 254.0 379.6 254.8 379.6 255.5 379.7 256.2 379.7 256.8 379.8 257.5 379.9 258.2 380.0 258.8 380.1 259.5 380.2 260.0 380.4 260.5 380.5 261.2 380.7 261.8 380.9 262.2 381.0 262.8 381.2 263.3 381.5 263.9 381.8 264.3 382.0 264.8 382.2 265.2 382.6 265.8 382.9 266.1 383.2 266.5 383.6 266.8 384.0 267.2 384.5 267.5 385.0 267.7 385.5 267.8 386.0 267.9 386.8 267.8 387.5 267.6 388.0 267.3 388.5 267.0 389.0 266.8 389.3 266.3 389.8 265.9 390.0 265.5 390.3 265.0 390.6 264.5 390.8 264.0 391.0 263.2 391.2 262.8 391.4 262.2 391.5 261.5 391.6 260.8 391.8 260.2 391.8 259.5 391.9 258.8 392.0Z" fill="#e2e2e2" stroke="#737373" stroke-width="0.55"/>
<path d="M257.0 391.8L256.2 391.8 255.5 391.8 254.8 391.9 254.0 391.9 253.2 391.9 252.5 391.9 251.8 391.8 251.0 391.8 250.2 391.8 249.8 391.7 249.0 391.6 248.2 391.6 247.8 391.5 247.0 391.4 246.4 391.2 245.8 391.1 245.2 390.9 244.7 390.8 244.1 390.5 243.6 390.2 243.1 390.0 242.8 389.7 242.2 389.3 242.0 389.0 241.6 388.5 241.3 388.0 241.1 387.5 241.0 387.0 241.0 386.2 241.1 385.8 241.3 385.2 241.5 384.8 241.9 384.2 242.2 383.9 242.6 383.5 243.0 383.2 243.5 382.9 244.0 382.5 244.5 382.3 245.0 382.0 245.5 381.8 246.0 381.6 246.5 381.4 247.1 381.2 247.8 381.1 248.2 380.9 249.0 380.8 249.5 380.7 250.2 380.6 250.8 380.5 251.5 380.4 252.2 380.4 253.0 380.3 253.8 380.3 254.5 380.3 255.2 380.4 256.0 380.4 256.6 380.5 257.2 380.6 258.0 380.7 258.5 380.8 259.2 381.0 259.8 381.1 260.3 381.2 261.0 381.5 261.5 381.6 262.0 381.9 262.5 382.1 263.0 382.3 263.5 382.6 264.0 382.9 264.5 383.2 264.8 383.5 265.2 384.0 265.5 384.3 265.9 384.8 266.1 385.2 266.3 385.8 266.4 386.5 266.4 387.2 266.2 387.8 266.0 388.2 265.6 388.8 265.2 389.2 264.9 389.5 264.5 389.8 264.0 390.2 263.5 390.4 263.0 390.6 262.5 390.8 262.0 391.0 261.2 391.2 260.8 391.3 260.0 391.4 259.5 391.5 258.8 391.6 258.0 391.7 257.2 391.7Z" fill="#d8d8d8" stroke="#737373" stroke-width="0.55"/>
<path d="M257.8 391.3L257.0 391.4 256.2 391.4 255.5 391.5 254.8 391.5 254.0 391.5 253.2 391.5 252.5 391.5 251.8 391.5 251.0 391.4 250.2 391.3 249.5 391.3 249.0 391.2 248.2 391.1 247.8 391.0 247.0 390.8 246.5 390.7 246.0 390.5 245.4 390.2 244.9 390.0 244.5 389.8 244.0 389.4 243.5 389.0 243.2 388.7 242.9 388.2 242.6 387.8 242.5 387.2 242.4 386.5 242.5 385.9 242.7 385.2 243.0 384.8 243.2 384.5 243.7 384.0 244.0 383.7 244.5 383.4 245.0 383.0 245.5 382.8 246.0 382.5 246.5 382.3 247.0 382.1 247.5 381.9 248.2 381.8 248.8 381.6 249.2 381.5 250.0 381.3 250.6 381.2 251.2 381.2 252.0 381.1 252.8 381.1 253.5 381.0 254.2 381.0 255.0 381.1 255.8 381.1 256.5 381.2 257.0 381.3 257.8 381.4 258.2 381.5 259.0 381.7 259.5 381.8 260.1 382.0 260.7 382.2 261.2 382.5 261.8 382.7 262.2 383.0 262.7 383.2 263.1 383.5 263.5 383.8 263.9 384.2 264.2 384.6 264.5 385.0 264.8 385.5 265.0 386.2 265.0 386.6 264.9 387.2 264.8 387.8 264.5 388.2 264.1 388.8 263.8 389.1 263.3 389.5 262.9 389.8 262.5 390.0 262.0 390.2 261.4 390.5 260.8 390.7 260.2 390.8 259.5 391.0 259.0 391.1 258.2 391.2 257.8 391.3Z" fill="#cfcfcf" stroke="#737373" stroke-width="0.55"/>
<path d="M256.2 391.0L255.5 391.1 254.8 391.1 254.0 391.1 253.2 391.1 252.5 391.1 251.8 391.1 251.0 391.0 250.5 390.9 249.8 390.8 249.2 390.8 248.5 390.6 248.0 390.5 247.2 390.3 246.8 390.1 246.2 389.8 245.8 389.6 245.3 389.2 244.9 389.0 244.5 388.6 244.2 388.2 243.9 387.8 243.7 387.2 243.6 386.5 243.8 385.9 244.0 385.3 244.2 384.9 244.6 384.5 245.0 384.1 245.5 383.8 245.9 383.5 246.3 383.2 246.8 383.0 247.4 382.8 248.0 382.5 248.5 382.4 249.0 382.2 249.8 382.1 250.2 382.0 251.0 381.8 251.7 381.8 252.2 381.7 253.0 381.7 253.8 381.7 254.5 381.7 255.2 381.7 255.8 381.8 256.5 381.8 257.2 382.0 257.8 382.1 258.5 382.2 259.0 382.4 259.5 382.6 260.0 382.8 260.6 383.0 261.1 383.2 261.5 383.5 262.0 383.8 262.5 384.2 262.8 384.5 263.2 385.0 263.5 385.5 263.7 386.0 263.7 386.8 263.6 387.5 263.3 388.0 263.0 388.5 262.7 388.8 262.2 389.2 261.8 389.5 261.3 389.8 260.8 390.0 260.2 390.2 259.8 390.4 259.2 390.5 258.5 390.7 258.0 390.8 257.2 390.9 256.5 391.0Z" fill="#c6c6c6" stroke="#737373" stroke-width="0.55"/>
<path d="M256.8 390.5L256.0 390.6 255.2 390.7 254.5 390.7 253.8 390.7 253.0 390.7 252.2 390.7 251.5 390.6 250.8 390.5 250.2 390.5 249.5 390.3 249.0 390.2 248.4 390.0 247.8 389.8 247.2 389.6 246.8 389.3 246.3 389.0 246.0 388.8 245.5 388.3 245.2 387.9 245.0 387.5 244.8 386.8 244.9 386.0 245.1 385.5 245.4 385.0 245.8 384.7 246.2 384.2 246.6 384.0 247.0 383.7 247.5 383.5 248.0 383.2 248.7 383.0 249.2 382.8 249.8 382.7 250.5 382.5 251.0 382.4 251.8 382.3 252.5 382.3 253.0 382.2 253.8 382.2 254.5 382.2 255.0 382.3 255.8 382.3 256.5 382.5 257.0 382.5 257.8 382.7 258.2 382.8 258.8 383.0 259.4 383.2 260.0 383.5 260.4 383.8 260.8 384.0 261.2 384.3 261.7 384.8 262.0 385.0 262.3 385.5 262.5 386.0 262.6 386.8 262.5 387.2 262.2 387.8 261.9 388.2 261.5 388.7 261.1 389.0 260.7 389.2 260.2 389.5 259.7 389.8 259.0 390.0 258.5 390.2 258.0 390.3 257.2 390.4 256.8 390.5Z" fill="#bdbdbd" stroke="#737373" stroke-width="0.55"/>
<path d="M254.5 390.3L253.8 390.3 253.0 390.3 252.5 390.2 251.8 390.2 251.0 390.1 250.5 390.0 249.8 389.8 249.2 389.7 248.8 389.5 248.2 389.2 247.7 389.0 247.2 388.7 246.8 388.3 246.5 388.0 246.2 387.5 246.0 387.0 246.0 386.2 246.2 385.8 246.5 385.2 246.8 384.9 247.2 384.5 247.6 384.2 248.0 384.0 248.6 383.8 249.2 383.5 249.8 383.3 250.2 383.2 251.0 383.0 251.5 382.9 252.2 382.9 253.0 382.8 253.8 382.8 254.5 382.8 255.2 382.9 256.0 383.0 256.5 383.0 257.2 383.2 257.8 383.4 258.2 383.5 258.8 383.8 259.4 384.0 259.8 384.2 260.2 384.6 260.7 385.0 261.0 385.3 261.2 385.8 261.4 386.5 261.3 387.2 261.1 387.8 260.8 388.2 260.4 388.5 260.0 388.8 259.5 389.1 259.0 389.3 258.5 389.5 257.8 389.8 257.2 389.9 256.8 390.0 256.0 390.1 255.2 390.2 254.5 390.2Z" fill="#b5b5b5" stroke="#737373" stroke-width="0.55"/>
<path d="M254.2 389.8L253.5 389.8 253.0 389.7 252.2 389.7 251.5 389.6 251.0 389.5 250.2 389.3 249.8 389.2 249.2 389.0 248.8 388.7 248.2 388.4 247.8 388.0 247.5 387.7 247.2 387.2 247.1 386.5 247.2 386.0 247.5 385.5 248.0 385.0 248.3 384.8 248.8 384.5 249.2 384.2 249.8 384.0 250.5 383.8 251.0 383.6 251.8 383.5 252.2 383.4 253.0 383.4 253.8 383.4 254.5 383.4 255.2 383.5 255.8 383.5 256.5 383.7 257.0 383.8 257.6 384.0 258.2 384.2 258.7 384.5 259.1 384.8 259.5 385.1 259.9 385.5 260.2 386.0 260.3 386.5 260.2 387.0 260.0 387.5 259.6 388.0 259.2 388.3 258.8 388.7 258.2 388.9 257.8 389.1 257.2 389.3 256.5 389.5 256.0 389.6 255.2 389.7 254.5 389.7Z" fill="#adadad" stroke="#737373" stroke-width="0.55"/>
<path d="M255.5 389.0L254.8 389.1 254.0 389.2 253.2 389.2 252.5 389.1 251.8 389.0 251.2 388.9 250.7 388.8 250.1 388.5 249.6 388.2 249.2 388.0 248.8 387.5 248.5 387.1 248.4 386.5 248.5 386.0 248.9 385.5 249.2 385.2 249.8 384.8 250.2 384.6 250.8 384.4 251.4 384.2 252.0 384.1 252.8 384.0 253.2 384.0 254.0 384.0 254.5 384.0 255.2 384.1 256.0 384.2 256.5 384.4 257.0 384.5 257.5 384.8 258.0 385.1 258.5 385.5 258.8 385.8 259.0 386.4 259.0 386.8 258.8 387.4 258.5 387.8 258.0 388.1 257.5 388.4 257.0 388.6 256.5 388.8 255.8 389.0Z" fill="#a5a5a5" stroke="#737373" stroke-width="0.55"/>
<path d="M254.2 388.5L253.5 388.5 252.9 388.5 252.2 388.4 251.6 388.2 251.0 388.0 250.5 387.8 250.2 387.5 249.8 387.0 249.7 386.5 249.9 386.0 250.2 385.6 250.8 385.3 251.2 385.1 251.8 384.9 252.4 384.8 253.0 384.7 253.8 384.6 254.5 384.7 255.0 384.8 255.8 384.9 256.2 385.1 256.8 385.4 257.2 385.7 257.5 386.0 257.7 386.8 257.4 387.2 257.0 387.7 256.5 388.0 256.0 388.2 255.5 388.3 254.8 388.5 254.2 388.5Z" fill="#9d9d9d" stroke="#737373" stroke-width="0.55"/>
<path d="M264.0 392.5L264.2 393.0 264.4 393.8 264.4 394.5 264.2 395.1 264.0 395.8 263.8 396.2 263.5 396.8 263.2 397.2 263.0 397.5 262.6 398.0 262.2 398.4 261.9 398.8 261.5 399.2 261.2 399.5 260.8 400.0 260.5 400.2 260.0 400.7 259.7 401.0 259.3 401.5 259.0 401.8 258.7 402.2 258.3 402.8 258.0 403.1 257.7 403.5 257.3 404.0 257.0 404.3 256.6 404.8 256.2 405.1 255.8 405.5 255.4 405.8 255.0 406.0 254.5 406.3 254.0 406.5 253.5 406.8 252.9 407.0 252.3 407.2 251.8 407.5 251.2 407.6 250.8 407.8 250.2 408.1 249.8 408.3 249.2 408.5 248.6 408.8 248.0 409.0 247.5 409.1 247.0 409.3 246.2 409.4 245.5 409.5 245.0 409.5 244.5 409.5 243.8 409.4 243.0 409.3 242.5 409.1 242.0 409.0 241.5 408.8 240.9 408.5 240.5 408.2 240.0 407.9 239.5 407.6 239.1 407.2 238.8 406.9 238.4 406.5 238.0 406.0 237.8 405.7 237.5 405.2 237.2 404.8 237.0 404.1 236.8 403.5 236.8 402.9 236.7 402.2 236.8 401.8 236.9 401.0 237.1 400.5 237.3 400.0 237.6 399.5 237.9 399.0 238.2 398.5 238.4 398.0 238.7 397.5 238.9 397.0 239.1 396.5 239.3 396.0 239.5 395.4 239.7 394.8 239.8 394.2 240.0 393.8 240.2 393.2 240.5 392.7" fill="#f6f6f6" stroke="#8a8a8a" stroke-width="0.65"/>
<path d="M261.4 392.5L261.8 392.8 262.2 393.2 262.5 393.5 262.7 394.2 262.7 395.0 262.5 395.8 262.3 396.2 262.0 396.7 261.8 397.1 261.5 397.5 261.0 398.0 260.8 398.3 260.3 398.8 260.0 399.0 259.5 399.5 259.2 399.8 258.8 400.2 258.4 400.5 258.0 400.9 257.6 401.2 257.2 401.6 256.9 402.0 256.5 402.4 256.2 402.8 255.8 403.2 255.4 403.5 255.0 403.8 254.5 404.2 254.0 404.5 253.6 404.8 253.1 405.0 252.5 405.2 252.0 405.4 251.5 405.6 251.0 405.8 250.5 406.0 249.9 406.2 249.3 406.5 248.8 406.8 248.2 407.0 247.8 407.2 247.2 407.4 246.8 407.6 246.2 407.8 245.5 407.9 244.8 408.0 244.0 407.9 243.2 407.8 242.8 407.7 242.2 407.5 241.7 407.2 241.2 407.0 240.8 406.7 240.2 406.3 240.0 406.0 239.5 405.5 239.2 405.1 239.0 404.7 238.8 404.1 238.6 403.5 238.5 402.8 238.6 402.0 238.8 401.4 239.0 400.8 239.2 400.3 239.5 399.9 239.8 399.5 240.1 399.0 240.3 398.5 240.6 398.0 240.8 397.5 241.0 396.8 241.2 396.2 241.3 395.8 241.5 395.1 241.7 394.5 242.0 394.0 242.2 393.5 242.5 393.1 242.8 392.8" fill="#efefef" stroke="#8a8a8a" stroke-width="0.65"/>
<path d="M253.4 392.5L254.0 392.6 254.8 392.7 255.5 392.7 256.2 392.6 256.8 392.5" fill="#efefef" stroke="#8a8a8a" stroke-width="0.65"/>
<path d="M249.5 392.5L250.2 392.7 250.8 392.9 251.2 393.1 251.8 393.3 252.3 393.5 253.0 393.7 253.5 393.9 254.2 393.9 255.0 393.9 255.8 393.8 256.2 393.7 257.0 393.6 257.5 393.5 258.2 393.4 259.0 393.4 259.7 393.5 260.2 393.7 260.7 394.0 261.0 394.5 261.1 395.0 261.0 395.8 260.8 396.2 260.5 396.8 260.2 397.2 260.0 397.5 259.5 398.0 259.2 398.2 258.8 398.7 258.4 399.0 258.0 399.3 257.5 399.7 257.2 400.0 256.8 400.4 256.3 400.8 256.0 401.0 255.5 401.5 255.2 401.8 254.8 402.2 254.3 402.5 254.0 402.8 253.5 403.1 253.0 403.4 252.5 403.6 252.0 403.8 251.5 404.0 250.8 404.2 250.2 404.4 249.8 404.6 249.2 404.8 248.5 405.0 248.0 405.2 247.5 405.5 247.0 405.7 246.5 405.9 246.0 406.1 245.5 406.3 244.8 406.4 244.0 406.4 243.2 406.3 242.8 406.1 242.2 405.9 241.8 405.6 241.4 405.2 241.0 404.8 240.8 404.5 240.5 404.0 240.3 403.2 240.3 402.5 240.5 401.9 240.8 401.3 241.0 400.9 241.3 400.5 241.6 400.0 241.9 399.5 242.1 399.0 242.3 398.5 242.5 397.8 242.6 397.2 242.8 396.6 242.9 396.0 243.1 395.5 243.3 395.0 243.5 394.5 243.9 394.0 244.2 393.6 244.6 393.2 245.0 393.0 245.5 392.7 246.1 392.5" fill="#e8e8e8" stroke="#8a8a8a" stroke-width="0.65"/>
<path d="M246.2 403.0L245.5 403.1 244.8 403.1 244.2 402.8 244.1 402.2 244.2 401.5 244.3 401.0 244.3 400.2 244.4 399.5 244.4 398.8 244.5 398.0 244.5 397.5 244.7 396.8 244.8 396.2 245.0 395.8 245.4 395.2 245.8 394.8 246.2 394.5 246.7 394.2 247.2 394.1 247.8 394.0 248.5 394.0 249.0 394.0 249.8 394.2 250.2 394.4 250.8 394.6 251.3 394.8 251.9 395.0 252.5 395.2 253.0 395.3 253.8 395.5 254.5 395.5 255.2 395.5 256.0 395.4 256.8 395.3 257.2 395.2 257.8 395.3 258.3 395.5 258.6 396.0 258.5 396.5 258.2 397.0 257.8 397.5 257.5 397.8 257.0 398.2 256.6 398.5 256.2 398.8 255.8 399.2 255.4 399.5 255.0 399.9 254.5 400.2 254.2 400.5 253.8 400.9 253.3 401.2 252.9 401.5 252.4 401.8 251.9 402.0 251.3 402.2 250.8 402.4 250.2 402.5 249.5 402.6 248.8 402.7 248.2 402.8 247.5 402.9 246.8 403.0 246.2 403.0Z" fill="#e0e0e0" stroke="#8a8a8a" stroke-width="0.65"/>
<path d="M250.5 400.3L249.8 400.4 249.0 400.3 248.5 400.2 248.0 400.0 247.5 399.5 247.2 399.2 247.0 398.6 246.9 398.0 247.0 397.4 247.2 396.9 247.6 396.5 248.1 396.2 248.8 396.1 249.5 396.2 250.0 396.3 250.5 396.5 251.0 396.8 251.5 397.0 252.0 397.4 252.4 397.8 252.6 398.2 252.5 398.8 252.2 399.2 251.8 399.6 251.2 400.0 250.8 400.2Z" fill="#d8d8d8" stroke="#8a8a8a" stroke-width="0.65"/>
<path d="M355.0 393.5L354.2 393.6 353.5 393.6 352.8 393.6 352.0 393.6 351.2 393.6 350.5 393.6 349.8 393.6 349.0 393.6 348.2 393.5 347.7 393.5 347.0 393.5 346.2 393.4 345.5 393.3 344.8 393.3 344.2 393.2 343.5 393.1 342.8 393.1 342.0 393.0 341.5 393.0 340.8 392.9 340.0 392.8 339.5 392.7 338.8 392.6 338.0 392.5 337.5 392.4 337.0 392.2 336.3 392.0 335.8 391.8 335.2 391.5 334.9 391.2 334.5 390.9 334.1 390.5 333.8 390.1 333.5 389.6 333.3 389.0 333.2 388.5 333.1 387.8 333.2 387.0 333.4 386.5 333.7 386.0 334.0 385.5 334.2 385.2 334.7 384.8 335.0 384.5 335.5 384.2 336.0 383.9 336.5 383.6 337.0 383.4 337.5 383.2 338.0 383.0 338.8 382.8 339.2 382.6 339.9 382.5 340.5 382.4 341.0 382.2 341.8 382.1 342.2 382.0 343.0 381.8 343.5 381.7 344.2 381.6 344.8 381.4 345.5 381.3 346.0 381.2 346.8 381.1 347.2 381.0 348.0 380.9 348.8 380.8 349.2 380.7 350.0 380.7 350.8 380.6 351.5 380.6 352.2 380.6 353.0 380.7 353.8 380.7 354.2 380.8 355.0 380.9 355.8 381.0 356.2 381.1 357.0 381.2 357.5 381.4 358.0 381.5 358.8 381.7 359.2 381.9 359.8 382.1 360.2 382.3 360.8 382.5 361.3 382.8 361.8 383.0 362.2 383.3 362.8 383.6 363.2 384.0 363.5 384.2 364.0 384.7 364.2 385.0 364.6 385.5 364.9 386.0 365.2 386.5 365.3 387.0 365.4 387.8 365.4 388.5 365.2 389.2 365.0 389.8 364.8 390.2 364.5 390.6 364.2 391.0 363.8 391.4 363.2 391.7 362.8 392.0 362.2 392.2 361.8 392.4 361.2 392.6 360.6 392.8 360.0 392.9 359.4 393.0 358.8 393.1 358.0 393.2 357.5 393.3 356.8 393.4 356.0 393.4 355.2 393.5Z" fill="#ececec" stroke="#737373" stroke-width="0.55"/>
<path d="M356.0 393.0L355.2 393.1 354.5 393.1 353.8 393.2 353.0 393.2 352.2 393.2 351.5 393.2 350.8 393.2 350.0 393.2 349.2 393.2 348.5 393.1 347.8 393.1 347.0 393.0 346.5 393.0 345.8 392.9 345.0 392.8 344.4 392.8 343.8 392.7 343.0 392.6 342.4 392.5 341.8 392.4 341.0 392.3 340.4 392.2 339.8 392.2 339.0 392.0 338.5 391.9 338.0 391.8 337.3 391.5 336.8 391.3 336.3 391.0 336.0 390.8 335.5 390.3 335.2 390.0 334.9 389.5 334.6 389.0 334.5 388.4 334.5 387.8 334.6 387.2 334.8 386.7 335.0 386.2 335.4 385.8 335.8 385.4 336.2 385.0 336.6 384.8 337.0 384.5 337.5 384.2 338.1 384.0 338.8 383.8 339.2 383.6 339.8 383.5 340.5 383.3 341.0 383.2 341.8 383.1 342.2 383.0 343.0 382.8 343.5 382.7 344.2 382.5 344.8 382.4 345.3 382.2 346.0 382.1 346.5 382.0 347.2 381.9 347.9 381.8 348.5 381.7 349.2 381.6 350.0 381.5 350.6 381.5 351.2 381.5 352.0 381.5 352.5 381.5 353.2 381.5 354.0 381.6 354.8 381.7 355.2 381.8 356.0 381.9 356.5 382.0 357.2 382.2 357.8 382.4 358.2 382.5 358.8 382.8 359.4 383.0 360.0 383.2 360.4 383.5 360.9 383.8 361.3 384.0 361.8 384.4 362.2 384.8 362.5 385.0 362.9 385.5 363.2 386.0 363.5 386.4 363.7 387.0 363.8 387.5 363.9 388.2 363.8 388.9 363.5 389.5 363.2 390.0 363.0 390.3 362.6 390.8 362.2 391.1 361.8 391.5 361.3 391.8 360.8 392.0 360.2 392.2 359.8 392.3 359.1 392.5 358.5 392.6 357.9 392.8 357.2 392.9 356.5 393.0 356.0 393.0Z" fill="#e2e2e2" stroke="#737373" stroke-width="0.55"/>
<path d="M354.8 392.8L354.0 392.8 353.2 392.9 352.5 392.9 351.8 392.9 351.0 392.9 350.2 392.9 349.5 392.9 348.8 392.8 348.0 392.8 347.5 392.7 346.8 392.6 346.0 392.5 345.5 392.5 344.8 392.4 344.1 392.2 343.5 392.2 342.8 392.0 342.2 392.0 341.5 391.9 340.9 391.8 340.2 391.6 339.6 391.5 339.0 391.3 338.5 391.2 338.0 391.0 337.5 390.7 337.0 390.4 336.5 390.0 336.2 389.7 336.0 389.2 335.7 388.8 335.6 388.0 335.7 387.2 336.0 386.8 336.2 386.3 336.5 386.0 337.0 385.6 337.5 385.2 337.9 385.0 338.5 384.8 339.0 384.6 339.5 384.4 340.0 384.2 340.8 384.1 341.2 384.0 342.0 383.8 342.5 383.7 343.2 383.5 343.8 383.4 344.3 383.2 345.0 383.1 345.5 382.9 346.2 382.8 346.8 382.7 347.5 382.5 348.0 382.4 348.8 382.3 349.3 382.2 350.0 382.2 350.8 382.1 351.5 382.1 352.2 382.2 353.0 382.2 353.6 382.2 354.2 382.3 355.0 382.4 355.5 382.5 356.2 382.7 356.8 382.8 357.3 383.0 358.0 383.2 358.5 383.4 359.0 383.7 359.5 383.9 360.0 384.2 360.4 384.5 360.8 384.8 361.2 385.2 361.5 385.5 361.9 386.0 362.2 386.5 362.4 387.0 362.6 387.5 362.6 388.2 362.5 388.8 362.2 389.5 362.0 389.9 361.7 390.2 361.2 390.7 360.9 391.0 360.5 391.3 360.0 391.6 359.5 391.8 358.9 392.0 358.2 392.2 357.8 392.3 357.0 392.5 356.5 392.6 355.8 392.7 355.0 392.7Z" fill="#d8d8d8" stroke="#737373" stroke-width="0.55"/>
<path d="M353.0 392.5L352.2 392.5 351.5 392.5 350.8 392.5 350.0 392.5 349.5 392.5 348.8 392.4 348.0 392.4 347.2 392.3 346.8 392.2 346.0 392.1 345.5 392.0 344.8 391.8 344.2 391.7 343.5 391.6 343.0 391.5 342.2 391.3 341.8 391.2 341.0 391.0 340.5 390.9 339.9 390.8 339.2 390.5 338.8 390.3 338.2 390.0 337.9 389.8 337.5 389.4 337.2 389.0 337.0 388.5 336.9 387.8 337.1 387.2 337.4 386.8 337.8 386.3 338.2 386.0 338.6 385.8 339.1 385.5 339.7 385.2 340.2 385.1 340.8 384.9 341.5 384.8 342.0 384.6 342.5 384.5 343.2 384.3 343.8 384.2 344.4 384.0 345.0 383.8 345.5 383.7 346.2 383.5 346.8 383.4 347.3 383.2 348.0 383.1 348.7 383.0 349.2 382.9 350.0 382.9 350.8 382.8 351.5 382.8 352.2 382.8 353.0 382.9 353.8 382.9 354.2 383.0 355.0 383.1 355.5 383.2 356.2 383.4 356.8 383.6 357.2 383.8 357.8 384.0 358.3 384.2 358.8 384.5 359.2 384.8 359.8 385.1 360.2 385.5 360.5 385.9 360.8 386.2 361.1 386.8 361.3 387.2 361.4 388.0 361.3 388.8 361.1 389.2 360.8 389.8 360.5 390.1 360.1 390.5 359.8 390.8 359.2 391.1 358.8 391.4 358.2 391.6 357.8 391.8 357.0 392.0 356.5 392.1 355.8 392.2 355.2 392.3 354.5 392.4 353.8 392.5 353.1 392.5Z" fill="#cfcfcf" stroke="#737373" stroke-width="0.55"/>
<path d="M354.2 392.0L353.5 392.1 352.8 392.2 352.0 392.2 351.2 392.2 350.5 392.2 349.8 392.1 349.0 392.1 348.4 392.0 347.8 391.9 347.0 391.8 346.5 391.7 345.8 391.5 345.2 391.4 344.8 391.2 344.0 391.0 343.5 390.9 343.0 390.8 342.2 390.6 341.8 390.4 341.1 390.2 340.5 390.1 340.0 389.9 339.5 389.6 339.0 389.3 338.7 389.0 338.4 388.5 338.4 387.8 338.6 387.2 339.0 386.8 339.3 386.5 339.8 386.2 340.3 386.0 341.0 385.8 341.5 385.6 342.0 385.5 342.7 385.2 343.2 385.1 343.8 384.9 344.4 384.8 345.0 384.6 345.5 384.4 346.0 384.2 346.8 384.0 347.2 383.9 347.9 383.8 348.5 383.6 349.2 383.5 349.8 383.5 350.5 383.4 351.2 383.4 352.0 383.4 352.8 383.4 353.5 383.5 354.0 383.6 354.8 383.7 355.2 383.8 355.9 384.0 356.5 384.2 357.0 384.4 357.5 384.6 358.0 384.9 358.5 385.2 358.9 385.5 359.2 385.8 359.6 386.2 360.0 386.8 360.2 387.2 360.3 387.8 360.2 388.3 360.1 389.0 359.8 389.5 359.5 389.9 359.1 390.2 358.8 390.6 358.2 390.9 357.8 391.1 357.2 391.3 356.8 391.5 356.0 391.7 355.5 391.8 354.8 392.0 354.2 392.0Z" fill="#c6c6c6" stroke="#737373" stroke-width="0.55"/>
<path d="M353.0 391.8L352.2 391.8 351.5 391.8 350.8 391.8 350.0 391.8 349.5 391.7 348.8 391.6 348.0 391.5 347.5 391.4 346.9 391.2 346.2 391.1 345.8 390.9 345.2 390.8 344.6 390.5 344.0 390.3 343.5 390.1 343.0 389.9 342.5 389.7 341.9 389.5 341.3 389.2 340.9 389.0 340.5 388.7 340.2 388.2 340.2 387.7 340.6 387.2 341.0 386.9 341.5 386.7 342.0 386.4 342.5 386.2 343.1 386.0 343.8 385.8 344.2 385.6 344.8 385.4 345.2 385.2 345.8 385.0 346.5 384.8 347.0 384.6 347.5 384.4 348.2 384.3 348.8 384.2 349.5 384.0 350.0 384.0 350.8 383.9 351.5 383.9 352.2 383.9 353.0 384.0 353.5 384.0 354.2 384.2 354.8 384.3 355.5 384.5 356.0 384.7 356.5 384.9 357.0 385.1 357.5 385.4 358.0 385.8 358.3 386.0 358.7 386.5 359.0 387.0 359.2 387.5 359.3 388.0 359.2 388.5 359.0 389.0 358.7 389.5 358.2 390.0 357.9 390.2 357.5 390.5 357.0 390.8 356.5 391.0 355.9 391.2 355.2 391.4 354.8 391.5 354.0 391.6 353.2 391.7Z" fill="#bdbdbd" stroke="#737373" stroke-width="0.55"/>
<path d="M353.5 391.3L352.8 391.4 352.0 391.4 351.2 391.4 350.5 391.4 349.8 391.3 349.2 391.2 348.5 391.1 348.0 391.0 347.2 390.8 346.8 390.6 346.2 390.4 345.8 390.2 345.2 390.0 344.8 389.7 344.2 389.4 343.8 389.1 343.3 388.8 343.0 388.4 342.9 387.8 343.2 387.3 343.6 387.0 344.0 386.7 344.5 386.4 345.0 386.1 345.5 385.9 346.0 385.6 346.5 385.4 347.0 385.2 347.7 385.0 348.2 384.8 348.8 384.7 349.5 384.6 350.2 384.5 350.8 384.5 351.5 384.4 352.2 384.5 352.8 384.5 353.5 384.6 354.2 384.7 354.8 384.9 355.2 385.0 355.8 385.2 356.3 385.5 356.8 385.8 357.2 386.1 357.6 386.5 358.0 387.0 358.2 387.5 358.3 388.0 358.2 388.5 358.0 389.0 357.6 389.5 357.2 389.8 356.8 390.2 356.2 390.5 355.8 390.7 355.2 390.9 354.8 391.0 354.0 391.2 353.5 391.3Z" fill="#b5b5b5" stroke="#737373" stroke-width="0.55"/>
<path d="M353.5 390.8L352.8 390.9 352.0 390.9 351.2 390.9 350.5 390.9 349.8 390.8 349.2 390.7 348.5 390.6 348.0 390.4 347.5 390.2 346.9 390.0 346.4 389.8 346.0 389.5 345.5 389.1 345.2 388.8 344.9 388.2 345.0 387.6 345.2 387.2 345.7 386.8 346.0 386.5 346.5 386.2 347.0 385.9 347.5 385.7 348.1 385.5 348.8 385.3 349.2 385.2 350.0 385.1 350.7 385.0 351.2 385.0 352.0 385.0 352.5 385.0 353.2 385.1 353.9 385.2 354.5 385.4 355.0 385.6 355.5 385.8 356.0 386.1 356.5 386.5 356.8 386.8 357.1 387.2 357.2 388.0 357.1 388.8 356.8 389.2 356.5 389.5 356.0 389.9 355.5 390.1 355.0 390.4 354.5 390.5 353.8 390.7Z" fill="#adadad" stroke="#737373" stroke-width="0.55"/>
<path d="M353.0 390.3L352.2 390.4 351.5 390.4 350.8 390.4 350.0 390.3 349.5 390.2 348.8 390.0 348.2 389.8 347.8 389.6 347.2 389.3 346.9 389.0 346.6 388.5 346.4 388.0 346.6 387.5 346.9 387.0 347.2 386.7 347.8 386.4 348.2 386.2 348.8 386.0 349.5 385.8 350.0 385.7 350.8 385.6 351.5 385.5 352.2 385.6 353.0 385.7 353.5 385.8 354.2 386.0 354.8 386.2 355.2 386.5 355.5 386.8 355.9 387.2 356.1 387.8 356.0 388.5 355.8 389.0 355.5 389.2 355.0 389.6 354.5 389.8 354.0 390.0 353.2 390.2Z" fill="#a5a5a5" stroke="#737373" stroke-width="0.55"/>
<path d="M352.2 389.8L351.5 389.8 350.8 389.8 350.2 389.7 349.5 389.5 349.0 389.3 348.5 389.0 348.2 388.8 347.9 388.2 348.0 387.5 348.2 387.2 348.8 386.8 349.2 386.6 349.8 386.4 350.4 386.2 351.0 386.2 351.8 386.2 352.5 386.2 353.0 386.4 353.5 386.5 354.0 386.8 354.5 387.1 354.8 387.5 354.9 388.2 354.7 388.8 354.2 389.1 353.8 389.4 353.2 389.6 352.5 389.7Z" fill="#9d9d9d" stroke="#737373" stroke-width="0.55"/>
<path d="M353.0 393.5L353.5 394.0 353.8 394.3 354.2 394.8 354.5 395.2 354.8 395.5 355.1 396.0 355.5 396.5 355.8 397.0 356.0 397.4 356.2 397.9 356.5 398.4 356.8 398.9 357.0 399.5 357.2 400.0 357.3 400.5 357.5 401.0 357.7 401.8 357.8 402.2 357.9 403.0 358.0 403.8 358.0 404.5 357.9 405.2 357.8 406.0 357.7 406.5 357.5 407.0 357.2 407.5 356.9 408.0 356.5 408.4 356.0 408.7 355.5 408.9 355.0 409.1 354.2 409.1 353.5 409.1 353.0 409.0 352.4 408.8 351.8 408.5 351.3 408.2 350.9 408.0 350.5 407.8 350.0 407.4 349.5 407.0 349.2 406.8 348.8 406.4 348.2 406.0 347.9 405.8 347.5 405.5 346.8 405.3 346.2 405.5 345.8 406.0 345.5 406.5 345.2 407.0 345.0 407.5 344.8 408.0 344.5 408.5 344.2 409.0 344.0 409.4 343.8 409.8 343.5 410.2 343.1 410.8 342.8 411.2 342.5 411.5 342.0 412.0 341.7 412.2 341.2 412.6 340.8 412.9 340.2 413.1 339.7 413.2 339.0 413.3 338.5 413.2 338.0 413.0 337.5 412.7 337.1 412.2 336.8 411.8 336.5 411.3 336.3 410.8 336.1 410.2 336.0 409.8 335.8 409.0 335.8 408.4 335.7 407.8 335.7 407.0 335.7 406.2 335.8 405.8 335.8 405.0 336.0 404.2 336.1 403.8 336.2 403.0 336.4 402.5 336.5 402.0 336.8 401.3 337.0 400.8 337.2 400.2 337.4 399.8 337.6 399.2 337.9 398.8 338.2 398.2 338.5 397.8 338.8 397.4 339.1 397.0 339.5 396.5 339.8 396.2 340.1 395.8 340.5 395.4 340.9 395.0 341.2 394.7 341.7 394.2 342.0 394.0 342.5 393.5" fill="#f6f6f6" stroke="#8a8a8a" stroke-width="0.65"/>
<path d="M351.1 393.5L351.5 393.8 352.0 394.2 352.4 394.5 352.8 394.9 353.1 395.2 353.5 395.7 353.8 396.0 354.2 396.5 354.5 397.0 354.8 397.4 355.0 397.8 355.2 398.3 355.5 398.8 355.8 399.4 356.0 400.0 356.2 400.5 356.3 401.0 356.5 401.8 356.6 402.2 356.7 403.0 356.7 403.8 356.6 404.5 356.5 405.0 356.2 405.7 356.0 406.1 355.7 406.5 355.2 406.9 354.8 407.2 354.2 407.3 353.5 407.4 352.8 407.3 352.2 407.1 351.8 406.9 351.2 406.7 350.8 406.4 350.2 406.0 349.9 405.8 349.5 405.4 349.0 405.0 348.7 404.8 348.2 404.3 347.9 404.0 347.5 403.6 347.1 403.2 346.6 403.0 346.0 402.9 345.5 403.2 345.2 403.5 345.0 404.0 344.8 404.5 344.5 405.1 344.3 405.8 344.1 406.2 343.8 406.8 343.6 407.2 343.3 407.8 343.0 408.2 342.8 408.7 342.5 409.0 342.1 409.5 341.8 409.8 341.3 410.2 340.8 410.5 340.2 410.7 339.8 410.8 339.1 410.8 338.6 410.5 338.2 410.2 337.9 409.8 337.6 409.2 337.4 408.8 337.3 408.0 337.2 407.5 337.1 406.8 337.1 406.0 337.2 405.2 337.2 404.5 337.3 404.0 337.5 403.3 337.6 402.8 337.8 402.2 338.0 401.7 338.2 401.1 338.5 400.6 338.8 400.1 339.0 399.7 339.3 399.2 339.7 398.8 340.0 398.4 340.3 398.0 340.8 397.6 341.2 397.2 341.6 397.0 342.0 396.7 342.5 396.4 343.0 396.0 343.3 395.8 343.8 395.3 344.0 395.0 344.5 394.5 344.8 394.1 345.1 393.8" fill="#efefef" stroke="#8a8a8a" stroke-width="0.65"/>
<path d="M353.8 405.8L353.0 405.9 352.2 405.8 351.8 405.6 351.2 405.3 350.8 405.0 350.3 404.8 350.0 404.5 349.5 404.0 349.2 403.8 348.8 403.3 348.5 403.0 348.1 402.5 347.8 402.1 347.5 401.8 347.1 401.2 346.8 400.8 346.5 400.5 346.2 400.0 345.9 399.5 345.6 399.0 345.5 398.3 345.5 397.8 345.5 397.2 345.7 396.5 345.9 396.0 346.1 395.5 346.5 395.0 346.8 394.7 347.2 394.4 347.8 394.1 348.5 394.0 349.2 394.1 349.9 394.2 350.5 394.5 350.9 394.8 351.3 395.0 351.8 395.3 352.2 395.8 352.5 396.0 352.9 396.5 353.2 396.9 353.5 397.2 353.9 397.8 354.2 398.2 354.4 398.8 354.7 399.2 354.9 399.8 355.1 400.2 355.2 400.9 355.4 401.5 355.5 402.2 355.5 402.8 355.5 403.2 355.4 404.0 355.2 404.5 354.9 405.0 354.5 405.4 354.0 405.7Z" fill="#e8e8e8" stroke="#8a8a8a" stroke-width="0.65"/>
<path d="M340.5 408.3L339.8 408.3 339.3 408.0 339.0 407.6 338.8 407.0 338.6 406.5 338.5 405.8 338.6 405.0 338.6 404.2 338.8 403.7 338.9 403.0 339.1 402.5 339.3 402.0 339.6 401.5 339.9 401.0 340.2 400.6 340.5 400.2 341.0 399.9 341.5 399.6 342.0 399.4 342.8 399.5 343.2 399.8 343.5 400.1 343.7 400.8 343.7 401.5 343.7 402.2 343.6 403.0 343.5 403.5 343.3 404.2 343.2 404.8 343.0 405.2 342.8 405.8 342.5 406.3 342.2 406.8 341.9 407.2 341.5 407.7 341.1 408.0 340.6 408.2Z" fill="#e8e8e8" stroke="#8a8a8a" stroke-width="0.65"/>
<path d="M353.0 404.0L352.2 404.1 351.8 404.0 351.2 403.8 350.8 403.5 350.2 403.1 349.9 402.8 349.5 402.3 349.2 402.0 348.9 401.5 348.5 401.0 348.2 400.5 348.0 400.0 347.8 399.5 347.7 399.0 347.6 398.2 347.6 397.5 347.8 396.9 348.0 396.5 348.5 396.0 349.0 395.9 349.8 395.9 350.3 396.0 350.8 396.2 351.2 396.5 351.8 396.9 352.1 397.2 352.5 397.7 352.8 398.1 353.0 398.5 353.3 399.0 353.6 399.5 353.8 400.0 354.0 400.8 354.1 401.2 354.1 402.0 354.0 402.8 353.9 403.2 353.5 403.7 353.0 404.0Z" fill="#e0e0e0" stroke="#8a8a8a" stroke-width="0.65"/>
<path d="M352.0 401.6L351.2 401.6 350.8 401.3 350.4 401.0 350.0 400.5 349.8 400.0 349.6 399.5 349.7 398.8 350.0 398.3 350.4 398.2 351.0 398.5 351.3 398.8 351.8 399.2 352.0 399.7 352.2 400.2 352.3 400.8 352.2 401.2Z" fill="#d8d8d8" stroke="#8a8a8a" stroke-width="0.65"/>
<path d="M470.2 391.3L469.5 391.3 468.8 391.4 468.0 391.4 467.2 391.4 466.5 391.4 465.8 391.4 465.0 391.4 464.2 391.4 463.5 391.4 462.8 391.3 462.0 391.3 461.5 391.2 460.8 391.2 460.0 391.2 459.2 391.1 458.5 391.0 458.0 391.0 457.2 390.9 456.5 390.9 455.8 390.8 455.0 390.8 454.5 390.7 453.8 390.6 453.1 390.5 452.5 390.4 452.0 390.2 451.4 390.0 450.8 389.8 450.4 389.5 450.0 389.2 449.6 388.8 449.3 388.2 449.0 387.8 448.9 387.2 448.8 386.5 448.9 385.8 449.0 385.2 449.2 384.7 449.5 384.2 449.9 383.8 450.2 383.3 450.6 383.0 451.0 382.7 451.5 382.4 452.0 382.1 452.5 381.9 453.0 381.7 453.6 381.5 454.2 381.3 454.8 381.2 455.4 381.0 456.0 380.9 456.5 380.8 457.2 380.6 457.8 380.5 458.5 380.3 459.0 380.2 459.8 380.1 460.2 380.0 461.0 379.9 461.7 379.8 462.2 379.7 463.0 379.6 463.8 379.5 464.2 379.5 465.0 379.5 465.8 379.4 466.5 379.4 467.2 379.5 467.8 379.5 468.5 379.5 469.2 379.6 470.0 379.7 470.5 379.8 471.2 379.9 471.8 380.0 472.5 380.2 473.0 380.3 473.7 380.5 474.2 380.7 474.8 380.8 475.2 381.0 475.8 381.2 476.3 381.5 476.8 381.8 477.3 382.0 477.8 382.3 478.2 382.7 478.7 383.0 479.0 383.3 479.4 383.8 479.8 384.2 480.0 384.6 480.2 385.1 480.4 385.8 480.5 386.5 480.3 387.2 480.1 387.8 479.8 388.2 479.5 388.7 479.2 389.0 478.8 389.3 478.2 389.6 477.8 389.9 477.2 390.1 476.7 390.2 476.0 390.4 475.5 390.6 474.8 390.7 474.2 390.8 473.5 390.9 472.9 391.0 472.2 391.1 471.5 391.2 470.8 391.2 470.2 391.3Z" fill="#ececec" stroke="#737373" stroke-width="0.55"/>
<path d="M467.5 391.0L466.8 391.0 466.0 391.0 465.2 391.0 464.5 391.0 464.0 391.0 463.2 391.0 462.5 390.9 461.8 390.9 461.0 390.8 460.4 390.8 459.8 390.7 459.0 390.6 458.2 390.6 457.5 390.5 457.0 390.5 456.2 390.4 455.5 390.3 454.9 390.2 454.2 390.2 453.5 390.0 453.0 389.9 452.5 389.7 452.0 389.5 451.5 389.2 451.0 388.8 450.7 388.5 450.4 388.0 450.1 387.5 450.0 386.9 450.0 386.2 450.0 385.8 450.2 385.1 450.5 384.7 450.8 384.2 451.2 383.8 451.6 383.5 452.0 383.2 452.5 382.9 453.0 382.7 453.5 382.5 454.1 382.2 454.8 382.1 455.2 381.9 456.0 381.8 456.5 381.6 457.2 381.5 457.8 381.4 458.3 381.2 459.0 381.1 459.5 381.0 460.2 380.8 460.8 380.7 461.5 380.6 462.2 380.5 462.8 380.4 463.5 380.3 464.2 380.3 465.0 380.2 465.5 380.2 466.2 380.2 467.0 380.2 467.5 380.3 468.2 380.3 469.0 380.4 469.8 380.5 470.2 380.6 471.0 380.7 471.5 380.8 472.2 381.0 472.8 381.1 473.2 381.3 473.8 381.5 474.5 381.8 475.0 382.0 475.5 382.2 476.0 382.5 476.4 382.8 476.8 383.0 477.2 383.4 477.6 383.8 478.0 384.2 478.2 384.5 478.5 385.0 478.8 385.7 478.8 386.2 478.8 386.9 478.5 387.5 478.3 388.0 478.0 388.4 477.6 388.8 477.2 389.0 476.8 389.4 476.2 389.6 475.8 389.8 475.2 390.0 474.5 390.2 474.0 390.3 473.2 390.5 472.8 390.6 472.0 390.7 471.3 390.8 470.8 390.8 470.0 390.9 469.2 390.9 468.5 391.0 467.8 391.0Z" fill="#e2e2e2" stroke="#737373" stroke-width="0.55"/>
<path d="M470.2 390.5L469.5 390.6 468.8 390.6 468.0 390.7 467.2 390.7 466.5 390.7 465.8 390.7 465.0 390.7 464.2 390.7 463.5 390.7 462.8 390.6 462.0 390.5 461.5 390.5 460.8 390.4 460.0 390.4 459.2 390.3 458.8 390.2 458.0 390.1 457.2 390.1 456.7 390.0 456.0 389.9 455.2 389.8 454.8 389.7 454.0 389.6 453.5 389.4 453.0 389.2 452.5 389.0 452.0 388.6 451.6 388.2 451.3 387.8 451.1 387.2 450.9 386.8 451.0 386.0 451.1 385.5 451.4 385.0 451.7 384.5 452.0 384.2 452.5 383.8 453.0 383.5 453.5 383.3 454.0 383.1 454.5 382.9 455.0 382.7 455.8 382.5 456.2 382.4 457.0 382.3 457.5 382.1 458.1 382.0 458.8 381.9 459.2 381.7 460.0 381.6 460.5 381.5 461.2 381.3 461.8 381.2 462.5 381.1 463.2 381.0 463.8 380.9 464.5 380.9 465.2 380.9 466.0 380.8 466.8 380.9 467.5 380.9 468.2 380.9 468.8 381.0 469.5 381.1 470.2 381.2 470.8 381.3 471.5 381.5 472.0 381.6 472.5 381.8 473.1 382.0 473.7 382.2 474.2 382.5 474.7 382.8 475.2 383.0 475.5 383.2 476.0 383.6 476.4 384.0 476.8 384.3 477.0 384.8 477.3 385.2 477.5 386.0 477.5 386.5 477.4 387.0 477.2 387.5 476.9 388.0 476.5 388.5 476.2 388.8 475.8 389.0 475.2 389.3 474.8 389.6 474.2 389.8 473.5 390.0 473.0 390.1 472.2 390.2 471.8 390.3 471.0 390.4 470.3 390.5Z" fill="#d8d8d8" stroke="#737373" stroke-width="0.55"/>
<path d="M469.0 390.3L468.2 390.3 467.5 390.4 466.8 390.4 466.0 390.4 465.2 390.4 464.5 390.4 463.8 390.3 463.0 390.3 462.5 390.2 461.8 390.2 461.0 390.1 460.5 390.0 459.8 389.9 459.0 389.8 458.5 389.7 457.8 389.6 457.0 389.5 456.5 389.4 455.8 389.3 455.2 389.2 454.5 389.0 454.0 388.9 453.5 388.6 453.0 388.3 452.7 388.0 452.3 387.5 452.1 387.0 452.0 386.5 452.0 386.0 452.2 385.5 452.6 385.0 453.0 384.6 453.4 384.2 453.8 384.0 454.4 383.8 455.0 383.5 455.5 383.4 456.0 383.2 456.8 383.1 457.2 382.9 458.0 382.8 458.5 382.6 459.1 382.5 459.8 382.3 460.2 382.2 461.0 382.0 461.5 381.9 462.2 381.8 462.8 381.7 463.5 381.6 464.2 381.5 464.8 381.5 465.5 381.5 466.2 381.5 467.0 381.5 467.5 381.5 468.2 381.6 469.0 381.7 469.5 381.8 470.2 381.9 470.8 382.0 471.5 382.2 472.0 382.4 472.5 382.6 473.0 382.8 473.5 383.0 474.0 383.3 474.5 383.6 475.0 384.0 475.3 384.2 475.7 384.8 476.0 385.2 476.2 385.8 476.2 386.5 476.0 387.2 475.8 387.7 475.5 388.0 475.0 388.5 474.7 388.8 474.2 389.0 473.8 389.3 473.1 389.5 472.5 389.7 472.0 389.8 471.2 390.0 470.8 390.1 470.0 390.2 469.2 390.2Z" fill="#cfcfcf" stroke="#737373" stroke-width="0.55"/>
<path d="M468.0 390.0L467.2 390.0 466.5 390.1 465.8 390.1 465.0 390.1 464.2 390.0 463.8 390.0 463.0 389.9 462.2 389.8 461.6 389.8 461.0 389.6 460.2 389.5 459.8 389.4 459.0 389.3 458.5 389.2 457.8 389.0 457.2 389.0 456.5 388.8 456.0 388.7 455.2 388.5 454.8 388.4 454.2 388.1 453.8 387.8 453.5 387.5 453.2 387.0 453.1 386.2 453.2 385.7 453.6 385.2 454.0 384.9 454.5 384.6 455.0 384.3 455.5 384.2 456.0 384.0 456.8 383.8 457.2 383.7 457.9 383.5 458.5 383.3 459.0 383.2 459.7 383.0 460.2 382.8 460.8 382.7 461.5 382.5 462.0 382.4 462.8 382.3 463.2 382.2 464.0 382.1 464.8 382.0 465.4 382.0 466.0 382.0 466.6 382.0 467.2 382.0 468.0 382.1 468.8 382.2 469.2 382.3 470.0 382.4 470.5 382.6 471.2 382.8 471.8 383.0 472.2 383.2 472.8 383.4 473.2 383.7 473.7 384.0 474.0 384.3 474.5 384.8 474.8 385.1 475.0 385.7 475.1 386.2 475.0 386.9 474.8 387.4 474.5 387.8 474.0 388.2 473.7 388.5 473.2 388.8 472.8 389.0 472.2 389.2 471.5 389.5 471.0 389.6 470.2 389.7 469.8 389.8 469.0 389.9 468.2 390.0Z" fill="#c6c6c6" stroke="#737373" stroke-width="0.55"/>
<path d="M469.2 389.5L468.5 389.6 467.8 389.7 467.0 389.7 466.2 389.7 465.5 389.7 464.8 389.7 464.0 389.7 463.2 389.6 462.6 389.5 462.0 389.4 461.3 389.2 460.8 389.1 460.2 389.0 459.5 388.8 459.0 388.7 458.2 388.5 457.8 388.4 457.2 388.2 456.5 388.1 456.0 387.9 455.5 387.7 455.0 387.4 454.6 387.0 454.4 386.5 454.5 386.0 454.9 385.5 455.2 385.2 455.8 385.0 456.3 384.8 457.0 384.5 457.5 384.4 458.0 384.2 458.7 384.0 459.2 383.8 459.8 383.6 460.2 383.5 461.0 383.2 461.5 383.1 462.0 383.0 462.8 382.8 463.2 382.7 464.0 382.6 464.8 382.5 465.5 382.5 466.0 382.5 466.5 382.5 467.2 382.5 468.0 382.6 468.8 382.7 469.2 382.8 470.0 383.0 470.5 383.1 471.0 383.3 471.5 383.5 472.0 383.8 472.5 384.1 473.0 384.4 473.3 384.8 473.7 385.2 474.0 385.8 474.0 386.2 474.0 386.8 473.8 387.3 473.4 387.8 473.0 388.1 472.5 388.5 472.0 388.7 471.5 388.9 471.0 389.1 470.5 389.3 469.8 389.4 469.2 389.5Z" fill="#bdbdbd" stroke="#737373" stroke-width="0.55"/>
<path d="M468.0 389.3L467.2 389.3 466.5 389.4 465.8 389.4 465.0 389.4 464.2 389.3 463.8 389.2 463.0 389.1 462.3 389.0 461.8 388.9 461.2 388.7 460.5 388.5 460.0 388.3 459.5 388.1 459.0 387.9 458.5 387.8 457.9 387.5 457.3 387.2 456.9 387.0 456.5 386.5 456.8 385.9 457.2 385.6 457.8 385.3 458.2 385.0 458.8 384.8 459.2 384.6 459.8 384.4 460.2 384.2 460.8 384.0 461.3 383.8 462.0 383.5 462.5 383.4 463.2 383.2 463.8 383.2 464.5 383.1 465.2 383.0 465.8 383.0 466.5 383.0 467.0 383.0 467.8 383.1 468.5 383.2 469.0 383.3 469.8 383.5 470.2 383.7 470.8 383.9 471.2 384.1 471.8 384.4 472.2 384.8 472.5 385.1 472.8 385.5 473.0 386.2 473.0 386.5 472.8 387.2 472.5 387.5 472.0 388.0 471.6 388.2 471.1 388.5 470.5 388.7 470.0 388.9 469.5 389.0 468.8 389.2 468.2 389.2Z" fill="#b5b5b5" stroke="#737373" stroke-width="0.55"/>
<path d="M468.2 388.8L467.5 388.9 466.8 389.0 466.0 389.0 465.2 389.0 464.5 388.9 463.8 388.8 463.2 388.7 462.5 388.5 462.0 388.4 461.5 388.2 461.0 388.0 460.5 387.7 460.0 387.4 459.5 387.0 459.2 386.7 459.2 386.0 459.5 385.6 459.9 385.2 460.3 385.0 460.8 384.7 461.2 384.5 461.8 384.2 462.5 384.0 463.0 383.8 463.5 383.7 464.2 383.6 465.0 383.5 465.5 383.5 466.2 383.5 466.8 383.5 467.5 383.6 468.2 383.7 468.8 383.8 469.4 384.0 470.0 384.2 470.5 384.5 471.0 384.8 471.3 385.0 471.7 385.5 471.9 386.0 471.9 386.8 471.6 387.2 471.2 387.6 470.8 388.0 470.2 388.2 469.8 388.4 469.2 388.6 468.5 388.7Z" fill="#adadad" stroke="#737373" stroke-width="0.55"/>
<path d="M468.2 388.3L467.5 388.4 466.8 388.5 466.0 388.5 465.2 388.5 464.5 388.4 463.8 388.3 463.2 388.1 462.8 388.0 462.2 387.8 461.7 387.5 461.2 387.1 461.0 386.8 460.9 386.0 461.2 385.5 461.5 385.2 462.0 384.9 462.5 384.7 463.0 384.5 463.8 384.3 464.2 384.2 465.0 384.1 465.8 384.0 466.5 384.0 467.2 384.1 468.0 384.2 468.5 384.4 469.0 384.5 469.5 384.8 470.0 385.0 470.5 385.5 470.8 385.9 470.8 386.5 470.6 387.0 470.2 387.3 469.8 387.7 469.2 387.9 468.8 388.1 468.2 388.3Z" fill="#a5a5a5" stroke="#737373" stroke-width="0.55"/>
<path d="M467.5 387.8L466.8 387.9 466.0 388.0 465.2 387.9 464.5 387.8 464.0 387.7 463.5 387.5 463.0 387.2 462.5 386.8 462.3 386.2 462.5 385.7 463.0 385.3 463.5 385.1 464.0 384.9 464.5 384.7 465.2 384.6 466.0 384.6 466.8 384.6 467.5 384.8 468.0 384.9 468.5 385.1 469.0 385.4 469.4 385.8 469.6 386.2 469.4 386.8 469.0 387.2 468.5 387.5 468.0 387.7 467.5 387.8Z" fill="#9d9d9d" stroke="#737373" stroke-width="0.55"/>
<path d="M473.4 391.2L473.8 391.5 474.2 391.9 474.6 392.2 475.0 392.6 475.3 392.9 475.7 393.4 476.0 393.8 476.3 394.2 476.6 394.7 476.9 395.2 477.2 395.7 477.4 396.2 477.6 396.7 477.8 397.2 478.0 397.7 478.2 398.4 478.3 398.9 478.5 399.7 478.5 400.2 478.6 400.9 478.6 401.7 478.5 402.4 478.5 402.9 478.4 403.7 478.2 404.2 478.0 404.9 477.8 405.4 477.6 405.9 477.3 406.4 477.1 406.9 476.8 407.4 476.5 407.7 476.1 408.2 475.8 408.5 475.3 408.9 475.0 409.2 474.5 409.5 474.0 409.8 473.5 410.0 473.0 410.2 472.3 410.4 471.8 410.6 471.0 410.7 470.5 410.7 469.9 410.7 469.2 410.6 468.5 410.5 468.0 410.4 467.3 410.2 466.8 410.0 466.2 409.8 465.8 409.5 465.2 409.2 464.9 408.9 464.5 408.7 464.0 408.3 463.6 407.9 463.2 407.7 462.8 407.2 462.5 406.9 462.1 406.4 461.8 406.0 461.5 405.7 461.0 405.2 460.8 404.9 460.2 404.5 459.8 404.3 459.2 404.4 458.8 404.8 458.4 405.2 458.1 405.7 457.8 406.2 457.5 406.7 457.2 407.1 457.0 407.6 456.8 408.0 456.5 408.4 456.1 408.9 455.8 409.4 455.5 409.9 455.2 410.2 454.8 410.7 454.5 411.1 454.1 411.4 453.8 411.8 453.3 412.2 452.9 412.4 452.5 412.7 452.0 413.0 451.5 413.3 450.9 413.4 450.2 413.6 449.5 413.6 448.8 413.4 448.3 413.2 447.9 412.9 447.5 412.6 447.1 412.2 446.8 411.7 446.5 411.2 446.3 410.7 446.2 410.2 446.0 409.5 445.9 408.9 445.8 408.2 445.8 407.4 445.8 406.7 445.8 405.9 445.9 405.2 446.0 404.6 446.1 403.9 446.2 403.3 446.4 402.7 446.5 402.2 446.8 401.5 447.0 400.9 447.1 400.4 447.4 399.9 447.6 399.4 447.8 398.9 448.1 398.4 448.3 397.9 448.6 397.4 448.9 396.9 449.2 396.5 449.5 396.2 449.9 395.7 450.2 395.2 450.5 394.9 451.0 394.4 451.3 394.2 451.8 393.8 452.2 393.4 452.6 393.2 453.0 392.9 453.5 392.7 454.2 392.4 454.8 392.3 455.5 392.3 456.2 392.3 456.9 392.4 457.5 392.6 458.0 392.8 458.8 392.9 459.0 392.9 459.8 392.8 460.2 392.6 460.8 392.3 461.2 391.9 461.6 391.7 462.0 391.4" fill="#f6f6f6" stroke="#8a8a8a" stroke-width="0.65"/>
<path d="M469.8 391.2L470.5 391.4 471.0 391.6 471.5 391.8 472.0 392.1 472.5 392.4 472.9 392.7 473.2 393.0 473.8 393.4 474.0 393.7 474.5 394.2 474.8 394.5 475.1 394.9 475.4 395.4 475.7 395.9 476.0 396.4 476.2 396.9 476.4 397.4 476.6 397.9 476.8 398.6 476.9 399.2 477.0 399.8 477.1 400.4 477.1 401.2 477.1 401.9 477.0 402.5 476.9 403.2 476.8 403.7 476.5 404.4 476.3 404.9 476.1 405.4 475.8 405.9 475.5 406.3 475.2 406.7 474.8 407.2 474.4 407.4 474.0 407.8 473.5 408.1 473.0 408.4 472.5 408.6 472.0 408.8 471.2 408.9 470.8 409.0 470.0 409.0 469.2 409.0 468.8 408.9 468.0 408.7 467.5 408.6 467.0 408.4 466.5 408.2 466.0 407.9 465.5 407.6 465.0 407.2 464.7 406.9 464.2 406.6 463.9 406.2 463.5 405.8 463.2 405.4 462.8 404.9 462.5 404.5 462.2 404.1 462.0 403.7 461.7 403.2 461.5 402.7 461.2 402.2 461.0 401.7 460.8 401.2 460.5 400.5 460.3 399.9 460.2 399.4 460.0 398.7 460.1 397.9 460.2 397.4 460.5 396.7 460.7 396.2 460.9 395.7 461.2 395.2 461.5 394.8 461.8 394.4 462.1 393.9 462.5 393.5 462.8 393.2 463.2 392.7 463.6 392.4 464.0 392.2 464.5 391.8 465.0 391.6 465.5 391.4 466.1 391.2" fill="#efefef" stroke="#8a8a8a" stroke-width="0.65"/>
<path d="M451.5 411.0L450.8 411.2 450.0 411.1 449.4 410.9 449.0 410.7 448.5 410.3 448.2 409.9 448.0 409.4 447.7 408.9 447.5 408.2 447.4 407.7 447.3 406.9 447.3 406.2 447.3 405.4 447.4 404.7 447.5 404.2 447.6 403.4 447.8 402.9 448.0 402.2 448.1 401.7 448.3 401.2 448.5 400.7 448.8 400.2 449.0 399.7 449.2 399.2 449.5 398.7 449.9 398.2 450.2 397.7 450.5 397.3 450.8 396.9 451.2 396.5 451.6 396.2 452.0 395.8 452.5 395.5 453.0 395.2 453.5 395.0 454.0 394.8 454.8 394.7 455.5 394.8 456.0 395.0 456.5 395.3 457.0 395.7 457.3 395.9 457.7 396.4 458.0 396.9 458.2 397.4 458.4 397.9 458.6 398.4 458.6 399.2 458.5 399.7 458.3 400.4 458.2 400.9 458.0 401.6 457.8 402.2 457.6 402.7 457.4 403.2 457.2 403.7 457.0 404.3 456.8 404.9 456.5 405.4 456.2 405.9 456.0 406.4 455.8 406.9 455.5 407.3 455.2 407.7 454.9 408.2 454.5 408.7 454.2 409.0 453.8 409.4 453.5 409.7 453.0 410.2 452.6 410.4 452.2 410.7 451.6 410.9Z" fill="#efefef" stroke="#8a8a8a" stroke-width="0.65"/>
<path d="M471.5 407.5L470.8 407.6 470.0 407.7 469.2 407.6 468.5 407.5 468.0 407.4 467.5 407.2 467.0 406.9 466.5 406.7 466.0 406.4 465.5 406.0 465.1 405.7 464.8 405.3 464.4 404.9 464.0 404.5 463.8 404.1 463.5 403.7 463.2 403.2 462.9 402.7 462.7 402.2 462.5 401.7 462.3 400.9 462.2 400.4 462.0 399.7 462.0 399.2 462.0 398.5 462.0 397.9 462.2 397.2 462.3 396.7 462.5 396.2 462.8 395.7 463.0 395.2 463.4 394.7 463.8 394.3 464.1 393.9 464.5 393.6 465.0 393.2 465.5 392.9 466.0 392.7 466.5 392.5 467.0 392.4 467.8 392.3 468.5 392.3 469.2 392.4 469.8 392.6 470.2 392.7 470.8 392.9 471.3 393.2 471.8 393.4 472.2 393.8 472.8 394.2 473.0 394.4 473.5 394.9 473.8 395.2 474.1 395.7 474.5 396.2 474.7 396.7 475.0 397.2 475.2 397.7 475.4 398.2 475.5 398.7 475.7 399.4 475.8 399.9 475.9 400.7 475.9 401.4 475.8 402.2 475.7 402.7 475.5 403.4 475.3 403.9 475.1 404.4 474.8 404.9 474.5 405.4 474.2 405.7 473.8 406.2 473.4 406.4 473.0 406.8 472.5 407.1 472.0 407.3 471.5 407.5Z" fill="#e8e8e8" stroke="#8a8a8a" stroke-width="0.65"/>
<path d="M451.8 408.8L451.0 408.9 450.2 408.7 449.8 408.4 449.5 408.1 449.2 407.7 449.0 407.1 448.9 406.4 448.8 405.7 448.8 404.9 448.8 404.2 449.0 403.4 449.1 402.9 449.2 402.4 449.5 401.7 449.7 401.2 449.9 400.7 450.2 400.2 450.5 399.7 450.8 399.3 451.0 398.9 451.5 398.4 451.8 398.2 452.2 397.7 452.7 397.4 453.2 397.2 453.8 397.1 454.5 397.1 455.0 397.3 455.5 397.7 455.8 398.0 456.0 398.4 456.2 399.1 456.4 399.7 456.4 400.4 456.4 401.2 456.3 401.9 456.1 402.4 456.0 403.0 455.8 403.7 455.6 404.2 455.4 404.7 455.2 405.2 454.9 405.7 454.6 406.2 454.2 406.7 454.0 407.0 453.6 407.4 453.2 407.8 452.8 408.2 452.4 408.4 451.9 408.7Z" fill="#e8e8e8" stroke="#8a8a8a" stroke-width="0.65"/>
<path d="M471.0 406.0L470.2 406.2 469.5 406.2 468.8 406.1 468.2 405.9 467.5 405.7 467.0 405.4 466.6 405.2 466.2 404.9 465.8 404.5 465.5 404.2 465.0 403.7 464.8 403.3 464.5 402.9 464.2 402.4 464.0 401.9 463.8 401.3 463.6 400.7 463.5 400.2 463.4 399.4 463.4 398.7 463.5 398.1 463.7 397.4 463.8 396.9 464.0 396.4 464.3 395.9 464.7 395.4 465.0 395.1 465.5 394.7 465.9 394.4 466.4 394.2 467.0 394.0 467.5 393.9 468.2 393.8 469.0 393.9 469.5 394.0 470.2 394.2 470.8 394.4 471.2 394.7 471.6 394.9 472.0 395.3 472.4 395.7 472.8 396.0 473.1 396.4 473.4 396.9 473.7 397.4 473.9 397.9 474.1 398.4 474.3 398.9 474.5 399.7 474.5 400.2 474.5 400.9 474.5 401.6 474.4 402.2 474.2 402.8 474.0 403.4 473.8 403.9 473.5 404.3 473.1 404.7 472.8 405.1 472.3 405.4 471.8 405.7 471.2 405.9Z" fill="#e0e0e0" stroke="#8a8a8a" stroke-width="0.65"/>
<path d="M452.0 405.5L451.5 405.4 451.1 404.9 450.9 404.4 450.9 403.7 451.0 403.2 451.2 402.4 451.4 401.9 451.7 401.4 452.0 401.1 452.5 400.7 453.0 400.5 453.7 400.7 454.0 401.2 454.1 401.7 454.1 402.4 454.0 402.9 453.8 403.7 453.5 404.2 453.2 404.6 452.9 404.9 452.5 405.3 452.0 405.5Z" fill="#e0e0e0" stroke="#8a8a8a" stroke-width="0.65"/>
<path d="M470.0 404.7L469.2 404.7 468.8 404.7 468.1 404.4 467.6 404.2 467.1 403.9 466.8 403.6 466.3 403.2 466.0 402.9 465.7 402.4 465.4 401.9 465.2 401.4 465.0 400.9 464.8 400.2 464.8 399.4 464.8 398.7 465.0 397.9 465.1 397.4 465.4 396.9 465.8 396.5 466.0 396.2 466.5 395.8 467.0 395.6 467.5 395.4 468.2 395.3 469.0 395.3 469.6 395.4 470.2 395.7 470.7 395.9 471.1 396.2 471.5 396.6 471.9 396.9 472.2 397.4 472.5 397.9 472.8 398.4 473.0 398.9 473.1 399.4 473.2 400.2 473.2 400.9 473.1 401.7 473.0 402.2 472.8 402.8 472.5 403.2 472.1 403.7 471.8 404.0 471.2 404.3 470.8 404.5 470.1 404.7Z" fill="#d8d8d8" stroke="#8a8a8a" stroke-width="0.65"/>
<path d="M470.0 403.0L469.2 403.0 468.7 402.9 468.1 402.7 467.7 402.4 467.2 402.1 467.0 401.7 466.7 401.2 466.5 400.7 466.3 399.9 466.3 399.2 466.5 398.4 466.8 398.0 467.0 397.7 467.5 397.3 468.0 397.0 468.8 397.0 469.5 397.1 470.0 397.3 470.5 397.7 470.8 397.9 471.1 398.4 471.4 398.9 471.6 399.4 471.7 400.2 471.7 400.9 471.5 401.6 471.2 402.0 470.9 402.4 470.5 402.7 470.0 403.0Z" fill="#d0d0d0" stroke="#8a8a8a" stroke-width="0.65"/>
<path d="M59.2 512.8L58.5 512.8 57.8 512.8 57.0 512.8 56.2 512.8 55.5 512.8 54.8 512.8 54.2 512.7 53.5 512.7 52.8 512.7 52.0 512.6 51.2 512.5 50.8 512.5 50.0 512.4 49.2 512.3 48.8 512.2 48.0 512.1 47.5 512.0 46.8 511.8 46.2 511.6 45.8 511.5 45.2 511.2 44.7 511.0 44.2 510.8 43.8 510.5 43.2 510.1 42.8 509.8 42.5 509.4 42.2 509.0 41.8 508.5 41.5 508.0 41.3 507.5 41.1 507.0 41.0 506.2 41.0 505.5 41.2 504.8 41.4 504.2 41.6 503.8 42.0 503.2 42.2 502.9 42.6 502.5 43.0 502.1 43.4 501.8 43.8 501.5 44.2 501.1 44.8 500.8 45.2 500.5 45.7 500.2 46.2 500.0 46.8 499.8 47.2 499.6 47.8 499.4 48.2 499.2 48.9 499.0 49.5 498.8 50.0 498.7 50.8 498.5 51.2 498.4 52.0 498.3 52.5 498.2 53.2 498.1 54.0 498.0 54.5 498.0 55.2 497.9 56.0 497.9 56.8 497.9 57.5 497.9 58.2 497.9 59.0 497.9 59.7 498.0 60.2 498.0 61.0 498.1 61.8 498.2 62.2 498.3 63.0 498.5 63.5 498.6 64.2 498.8 64.8 498.9 65.2 499.0 65.9 499.2 66.5 499.5 67.0 499.7 67.5 499.9 68.0 500.1 68.5 500.4 69.0 500.6 69.5 500.9 70.0 501.2 70.3 501.5 70.8 501.9 71.2 502.2 71.5 502.6 71.9 503.0 72.2 503.5 72.5 504.0 72.7 504.5 72.9 505.0 73.0 505.8 73.0 506.5 72.8 507.2 72.6 507.8 72.4 508.2 72.0 508.8 71.8 509.1 71.4 509.5 71.0 509.9 70.6 510.2 70.2 510.5 69.8 510.8 69.2 511.0 68.8 511.3 68.2 511.5 67.5 511.7 67.0 511.8 66.3 512.0 65.8 512.1 65.0 512.2 64.5 512.3 63.8 512.4 63.1 512.5 62.5 512.6 61.8 512.6 61.0 512.7 60.2 512.7 59.5 512.7Z" fill="#ececec" stroke="#737373" stroke-width="0.55"/>
<path d="M59.8 512.3L59.0 512.3 58.2 512.3 57.5 512.3 56.8 512.3 56.0 512.3 55.2 512.3 54.5 512.3 54.0 512.2 53.2 512.2 52.5 512.1 51.8 512.1 51.2 512.0 50.5 511.9 49.8 511.8 49.2 511.6 48.7 511.5 48.0 511.3 47.5 511.1 47.0 510.9 46.5 510.7 46.0 510.5 45.5 510.1 45.0 509.8 44.7 509.5 44.2 509.1 43.9 508.8 43.6 508.2 43.3 507.8 43.1 507.2 42.9 506.8 42.8 506.0 42.9 505.2 43.1 504.8 43.3 504.2 43.5 503.8 43.9 503.2 44.2 502.9 44.6 502.5 45.0 502.2 45.5 501.8 46.0 501.5 46.4 501.2 46.8 501.0 47.3 500.8 47.9 500.5 48.5 500.2 49.0 500.1 49.5 499.9 50.0 499.7 50.8 499.5 51.2 499.4 52.0 499.3 52.5 499.2 53.2 499.1 53.8 499.0 54.5 498.9 55.2 498.9 56.0 498.8 56.8 498.8 57.5 498.8 58.2 498.8 59.0 498.9 59.8 498.9 60.3 499.0 61.0 499.1 61.8 499.2 62.2 499.3 63.0 499.5 63.5 499.6 64.0 499.8 64.8 500.0 65.2 500.2 65.8 500.3 66.2 500.6 66.8 500.8 67.2 501.0 67.8 501.3 68.2 501.6 68.8 502.0 69.1 502.2 69.5 502.6 69.9 503.0 70.2 503.5 70.5 503.8 70.8 504.3 71.0 504.9 71.1 505.5 71.2 506.2 71.0 507.0 70.8 507.5 70.6 508.0 70.3 508.5 70.0 508.8 69.6 509.2 69.2 509.6 68.8 510.0 68.3 510.2 67.9 510.5 67.4 510.8 66.9 511.0 66.2 511.2 65.8 511.4 65.2 511.5 64.5 511.7 64.0 511.8 63.2 511.9 62.7 512.0 62.0 512.1 61.2 512.2 60.5 512.2 60.0 512.2Z" fill="#e2e2e2" stroke="#737373" stroke-width="0.55"/>
<path d="M60.5 511.8L59.8 511.8 59.0 511.9 58.2 511.9 57.5 511.9 56.8 511.9 56.0 511.9 55.2 511.9 54.5 511.9 53.8 511.8 53.2 511.7 52.5 511.7 51.8 511.6 51.2 511.5 50.5 511.3 50.0 511.2 49.3 511.0 48.8 510.8 48.2 510.6 47.8 510.4 47.2 510.1 46.8 509.8 46.3 509.5 46.0 509.2 45.5 508.8 45.2 508.5 44.9 508.0 44.6 507.5 44.4 507.0 44.3 506.2 44.3 505.5 44.5 504.8 44.7 504.2 45.0 503.8 45.3 503.5 45.7 503.0 46.0 502.7 46.5 502.3 47.0 502.0 47.4 501.8 47.9 501.5 48.4 501.2 48.9 501.0 49.5 500.8 50.0 500.6 50.5 500.4 51.2 500.2 51.8 500.1 52.3 500.0 53.0 499.9 53.8 499.8 54.2 499.7 55.0 499.6 55.8 499.6 56.5 499.5 57.2 499.5 58.0 499.6 58.8 499.6 59.5 499.7 60.2 499.8 60.8 499.8 61.5 500.0 62.0 500.1 62.8 500.2 63.2 500.4 63.8 500.5 64.4 500.8 65.0 501.0 65.5 501.2 66.0 501.4 66.5 501.7 67.0 502.0 67.4 502.2 67.8 502.5 68.2 503.0 68.5 503.2 68.9 503.8 69.2 504.2 69.5 504.8 69.6 505.2 69.7 506.0 69.6 506.8 69.5 507.2 69.2 507.8 68.9 508.2 68.5 508.8 68.2 509.0 67.8 509.4 67.3 509.8 66.9 510.0 66.5 510.2 66.0 510.5 65.4 510.8 64.8 511.0 64.2 511.1 63.8 511.3 63.0 511.4 62.5 511.5 61.8 511.6 61.0 511.7 60.5 511.8Z" fill="#d8d8d8" stroke="#737373" stroke-width="0.55"/>
<path d="M60.2 511.3L59.5 511.3 58.8 511.4 58.0 511.4 57.2 511.4 56.5 511.4 55.8 511.4 55.0 511.4 54.2 511.3 53.6 511.2 53.0 511.2 52.2 511.0 51.8 510.9 51.0 510.8 50.5 510.6 50.0 510.4 49.5 510.2 49.0 510.0 48.5 509.8 48.0 509.5 47.5 509.1 47.1 508.8 46.8 508.4 46.4 508.0 46.1 507.5 45.9 507.0 45.7 506.5 45.7 505.8 45.8 505.2 46.0 504.7 46.2 504.2 46.6 503.8 47.0 503.3 47.4 503.0 47.8 502.7 48.2 502.4 48.8 502.1 49.2 501.8 49.8 501.6 50.2 501.4 50.8 501.2 51.4 501.0 52.0 500.8 52.5 500.7 53.2 500.6 53.8 500.5 54.5 500.4 55.2 500.3 56.0 500.3 56.8 500.3 57.5 500.3 58.2 500.3 59.0 500.3 59.8 500.4 60.2 500.5 61.0 500.6 61.6 500.8 62.2 500.9 62.8 501.1 63.3 501.2 64.0 501.5 64.5 501.7 65.0 501.9 65.5 502.2 66.0 502.5 66.3 502.8 66.8 503.1 67.2 503.5 67.5 503.9 67.8 504.2 68.0 504.8 68.2 505.5 68.3 506.0 68.2 506.5 68.0 507.2 67.8 507.8 67.5 508.1 67.2 508.5 66.8 508.9 66.3 509.2 65.9 509.5 65.5 509.8 65.0 510.0 64.5 510.2 63.8 510.5 63.2 510.7 62.8 510.8 62.0 511.0 61.5 511.1 60.8 511.2 60.2 511.3Z" fill="#cfcfcf" stroke="#737373" stroke-width="0.55"/>
<path d="M60.0 510.8L59.2 510.8 58.5 510.9 57.8 510.9 57.0 511.0 56.2 510.9 55.5 510.9 54.8 510.8 54.0 510.8 53.5 510.7 52.8 510.5 52.2 510.4 51.6 510.2 51.0 510.1 50.5 509.9 50.0 509.6 49.5 509.4 49.0 509.1 48.5 508.8 48.2 508.5 47.8 508.0 47.5 507.7 47.2 507.2 47.0 506.5 46.9 506.0 47.0 505.5 47.2 504.8 47.5 504.3 47.8 504.0 48.2 503.5 48.5 503.2 49.0 502.9 49.5 502.6 50.0 502.3 50.5 502.1 51.0 501.9 51.5 501.7 52.2 501.5 52.8 501.4 53.3 501.2 54.0 501.1 54.8 501.0 55.2 501.0 56.0 500.9 56.8 500.9 57.5 500.9 58.2 500.9 59.0 501.0 59.5 501.1 60.2 501.2 60.8 501.3 61.5 501.4 62.0 501.6 62.6 501.8 63.2 502.0 63.8 502.2 64.2 502.5 64.8 502.7 65.1 503.0 65.5 503.3 66.0 503.7 66.2 504.0 66.6 504.5 66.9 505.0 67.0 505.5 67.0 506.2 66.9 506.8 66.7 507.2 66.4 507.8 66.0 508.2 65.8 508.5 65.2 508.9 64.8 509.2 64.3 509.5 63.8 509.8 63.2 510.0 62.8 510.1 62.2 510.3 61.5 510.5 61.0 510.6 60.2 510.7Z" fill="#c6c6c6" stroke="#737373" stroke-width="0.55"/>
<path d="M59.5 510.3L58.8 510.4 58.0 510.4 57.2 510.4 56.5 510.4 55.8 510.4 55.0 510.3 54.3 510.2 53.8 510.2 53.0 510.0 52.5 509.9 52.0 509.7 51.4 509.5 50.9 509.2 50.4 509.0 50.0 508.8 49.5 508.4 49.0 508.0 48.8 507.7 48.5 507.2 48.2 506.8 48.1 506.0 48.2 505.2 48.5 504.8 48.8 504.3 49.0 504.0 49.5 503.6 50.0 503.2 50.4 503.0 50.8 502.8 51.4 502.5 52.0 502.3 52.5 502.1 53.0 502.0 53.8 501.8 54.2 501.7 55.0 501.6 55.8 501.5 56.4 501.5 57.0 501.5 57.6 501.5 58.2 501.5 59.0 501.6 59.8 501.7 60.2 501.8 61.0 502.0 61.5 502.1 62.0 502.3 62.6 502.5 63.2 502.8 63.6 503.0 64.0 503.2 64.5 503.6 65.0 504.0 65.2 504.3 65.5 504.8 65.8 505.2 65.9 506.0 65.8 506.8 65.5 507.2 65.2 507.7 65.0 508.0 64.5 508.4 64.0 508.8 63.6 509.0 63.1 509.2 62.6 509.5 62.0 509.7 61.5 509.9 61.0 510.0 60.2 510.2 59.7 510.2Z" fill="#bdbdbd" stroke="#737373" stroke-width="0.55"/>
<path d="M59.0 509.8L58.2 509.8 57.5 509.9 56.8 509.9 56.0 509.9 55.2 509.8 54.8 509.7 54.0 509.6 53.5 509.5 52.8 509.3 52.2 509.1 51.8 508.9 51.2 508.6 50.8 508.3 50.3 508.0 50.0 507.7 49.7 507.2 49.4 506.8 49.3 506.0 49.4 505.2 49.7 504.8 50.0 504.3 50.3 504.0 50.8 503.7 51.2 503.4 51.8 503.1 52.2 502.9 52.8 502.7 53.5 502.5 54.0 502.4 54.7 502.2 55.2 502.2 56.0 502.1 56.8 502.1 57.5 502.1 58.2 502.1 59.0 502.2 59.5 502.3 60.2 502.4 60.8 502.6 61.4 502.8 62.0 503.0 62.5 503.2 63.0 503.5 63.3 503.8 63.8 504.1 64.2 504.5 64.5 505.0 64.7 505.5 64.7 506.2 64.5 507.0 64.2 507.4 63.9 507.8 63.5 508.1 63.0 508.5 62.5 508.8 62.0 509.0 61.5 509.2 61.0 509.4 60.5 509.5 59.8 509.7 59.1 509.8Z" fill="#b5b5b5" stroke="#737373" stroke-width="0.55"/>
<path d="M58.2 509.3L57.5 509.3 56.8 509.3 56.0 509.3 55.5 509.2 54.8 509.1 54.2 509.0 53.5 508.8 53.0 508.6 52.5 508.4 52.0 508.2 51.5 507.8 51.1 507.5 50.8 507.0 50.5 506.5 50.4 506.0 50.5 505.5 50.8 505.0 51.1 504.5 51.5 504.2 52.0 503.8 52.5 503.6 53.0 503.3 53.5 503.2 54.1 503.0 54.8 502.9 55.5 502.8 56.0 502.7 56.8 502.7 57.5 502.7 58.2 502.7 58.8 502.8 59.5 502.9 60.0 503.0 60.7 503.2 61.2 503.5 61.8 503.7 62.2 504.0 62.6 504.2 63.0 504.6 63.3 505.0 63.5 505.5 63.6 506.2 63.4 506.8 63.1 507.2 62.8 507.6 62.3 508.0 61.9 508.2 61.3 508.5 60.8 508.7 60.2 508.9 59.8 509.0 59.0 509.2 58.4 509.2Z" fill="#adadad" stroke="#737373" stroke-width="0.55"/>
<path d="M58.8 508.5L58.0 508.6 57.2 508.7 56.5 508.7 55.8 508.6 55.0 508.5 54.5 508.4 54.0 508.2 53.4 508.0 52.9 507.8 52.5 507.4 52.1 507.0 51.8 506.5 51.7 506.0 51.8 505.5 52.1 505.0 52.5 504.6 52.9 504.2 53.4 504.0 54.0 503.8 54.5 503.6 55.0 503.5 55.8 503.4 56.5 503.3 57.2 503.3 58.0 503.3 58.8 503.4 59.2 503.6 59.9 503.8 60.5 504.0 61.0 504.2 61.4 504.5 61.8 504.8 62.1 505.2 62.3 505.8 62.2 506.4 62.0 506.9 61.7 507.2 61.2 507.6 60.8 507.9 60.2 508.1 59.8 508.3 59.0 508.5Z" fill="#a5a5a5" stroke="#737373" stroke-width="0.55"/>
<path d="M57.2 508.0L56.6 508.0 56.0 507.9 55.2 507.8 54.8 507.7 54.2 507.4 53.8 507.2 53.3 506.8 53.1 506.2 53.2 505.5 53.5 505.1 53.9 504.8 54.4 504.5 55.0 504.3 55.5 504.1 56.2 504.0 56.8 504.0 57.5 504.0 58.0 504.1 58.8 504.2 59.2 504.3 59.8 504.5 60.2 504.8 60.7 505.2 60.9 505.8 60.8 506.5 60.5 506.9 60.1 507.2 59.6 507.5 59.0 507.7 58.5 507.9 57.8 508.0 57.2 508.0Z" fill="#9d9d9d" stroke="#737373" stroke-width="0.55"/>
<path d="M48.5 537.8L47.8 537.9 47.0 537.8 46.5 537.7 45.9 537.5 45.5 537.2 45.0 536.9 44.6 536.5 44.2 536.2 43.9 535.8 43.6 535.2 43.4 534.8 43.2 534.2 43.0 533.8 42.8 533.0 42.7 532.5 42.5 531.8 42.5 531.2 42.5 530.5 42.5 529.8 42.5 529.2 42.6 528.5 42.6 527.8 42.7 527.0 42.8 526.5 42.8 525.8 42.8 525.0 42.6 524.5 42.4 524.0 42.1 523.5 41.8 523.1 41.5 522.7 41.1 522.2 40.8 521.8 40.5 521.2 40.3 520.8 40.2 520.2 40.0 519.5 40.0 518.8 40.1 518.0 40.3 517.5 40.5 517.0 40.8 516.5 41.2 516.0 41.5 515.7 42.0 515.3 42.5 515.0 43.0 514.8 43.5 514.6 44.2 514.5 45.0 514.5 45.8 514.7 46.2 514.8 46.8 515.0 47.2 515.3 47.8 515.6 48.2 516.0 48.6 516.2 49.0 516.6 49.4 517.0 49.8 517.2 50.2 517.5 51.0 517.7 51.8 517.7 52.2 517.5 52.8 517.2 53.2 516.8 53.7 516.5 54.1 516.2 54.5 516.0 55.0 515.7 55.5 515.4 56.0 515.2 56.5 514.9 57.1 514.8 57.8 514.6 58.5 514.5 59.2 514.6 60.0 514.8 60.5 515.0 60.8 515.2 61.1 515.8 61.3 516.2 61.3 517.0 61.2 517.5 61.0 518.0 60.7 518.5 60.3 519.0 60.0 519.4 59.6 519.8 59.2 520.1 58.8 520.4 58.3 520.8 57.8 521.0 57.4 521.2 56.9 521.5 56.4 521.8 56.0 522.0 55.5 522.3 55.1 522.8 54.8 523.2 54.6 523.8 54.5 524.4 54.5 525.0 54.5 525.8 54.5 526.2 54.5 527.0 54.5 527.8 54.5 528.5 54.5 529.0 54.4 529.8 54.2 530.4 54.1 531.0 54.0 531.5 53.8 532.2 53.5 532.8 53.3 533.2 53.1 533.8 52.8 534.2 52.5 534.7 52.2 535.1 51.9 535.5 51.5 536.0 51.2 536.2 50.8 536.7 50.3 537.0 49.9 537.2 49.4 537.5 48.8 537.7Z" fill="#f6f6f6" stroke="#8a8a8a" stroke-width="0.65"/>
<path d="M48.8 535.6L48.0 535.7 47.2 535.7 46.7 535.5 46.2 535.2 45.8 534.9 45.4 534.5 45.0 534.0 44.8 533.6 44.5 533.0 44.3 532.5 44.2 532.0 44.0 531.2 44.0 530.8 43.9 530.0 44.0 529.2 44.0 528.8 44.1 528.0 44.2 527.2 44.3 526.8 44.5 526.0 44.6 525.5 44.6 524.8 44.6 524.0 44.4 523.5 44.1 523.0 43.8 522.6 43.4 522.2 43.0 521.8 42.7 521.5 42.3 521.0 42.0 520.5 41.9 520.0 41.8 519.5 41.7 518.8 41.8 518.2 42.1 517.8 42.4 517.2 42.8 516.9 43.2 516.5 43.8 516.3 44.2 516.2 45.0 516.2 45.5 516.3 46.0 516.5 46.5 516.8 47.0 517.2 47.3 517.5 47.7 518.0 48.0 518.4 48.3 518.8 48.6 519.2 49.0 519.8 49.2 520.0 49.8 520.5 50.1 520.8 50.5 521.0 51.0 521.4 51.4 521.8 51.8 522.2 52.0 522.7 52.2 523.2 52.4 523.8 52.5 524.2 52.7 525.0 52.8 525.5 52.9 526.2 53.0 526.8 53.1 527.5 53.1 528.2 53.0 529.0 52.9 529.5 52.8 530.2 52.7 530.8 52.5 531.3 52.2 532.0 52.0 532.5 51.8 533.0 51.5 533.4 51.2 533.8 50.8 534.2 50.5 534.5 50.0 535.0 49.5 535.2 49.0 535.5Z" fill="#efefef" stroke="#8a8a8a" stroke-width="0.65"/>
<path d="M56.5 518.8L56.0 518.6 56.0 518.2 56.4 517.8 57.0 517.5 57.5 517.8 57.4 518.2 57.0 518.6 56.5 518.8Z" fill="#efefef" stroke="#8a8a8a" stroke-width="0.65"/>
<path d="M45.0 519.6L44.7 519.2 45.0 519.3Z" fill="#e8e8e8" stroke="#8a8a8a" stroke-width="0.65"/>
<path d="M48.5 533.6L47.8 533.6 47.2 533.4 46.8 533.1 46.3 532.8 46.0 532.3 45.8 531.8 45.6 531.2 45.5 530.8 45.4 530.0 45.4 529.2 45.5 528.5 45.5 528.0 45.7 527.2 45.9 526.8 46.1 526.2 46.3 525.8 46.6 525.2 46.9 524.8 47.2 524.3 47.7 524.0 48.2 523.8 49.0 523.8 49.5 524.0 50.0 524.3 50.5 524.8 50.8 525.1 51.0 525.5 51.2 526.1 51.5 526.8 51.6 527.2 51.6 528.0 51.6 528.8 51.5 529.5 51.4 530.0 51.2 530.6 51.0 531.2 50.8 531.7 50.5 532.1 50.2 532.5 49.8 532.9 49.3 533.2 48.8 533.5Z" fill="#e8e8e8" stroke="#8a8a8a" stroke-width="0.65"/>
<path d="M48.5 529.2L48.5 528.7 48.5 529.2Z" fill="#e0e0e0" stroke="#8a8a8a" stroke-width="0.65"/>
<path d="M152.2 513.8L151.5 513.8 150.8 513.9 150.0 513.9 149.2 513.9 148.5 513.9 147.8 513.9 147.0 513.9 146.2 513.8 145.7 513.8 145.0 513.7 144.2 513.6 143.8 513.5 143.0 513.3 142.5 513.2 141.8 513.0 141.2 512.8 140.8 512.6 140.2 512.4 139.8 512.2 139.2 512.0 138.8 511.7 138.2 511.4 137.8 511.1 137.3 510.8 137.0 510.5 136.5 510.1 136.2 509.8 135.8 509.3 135.5 508.9 135.2 508.5 135.0 508.0 134.8 507.4 134.6 506.8 134.5 506.0 134.6 505.2 134.8 504.6 135.0 504.0 135.2 503.5 135.5 503.1 135.8 502.7 136.2 502.2 136.5 501.9 137.0 501.5 137.3 501.2 137.8 500.9 138.2 500.6 138.8 500.3 139.2 500.0 139.8 499.8 140.2 499.5 140.8 499.3 141.2 499.1 141.8 499.0 142.5 498.8 143.0 498.6 143.5 498.5 144.2 498.3 144.8 498.2 145.5 498.1 146.2 498.0 146.8 498.0 147.5 497.9 148.2 497.9 149.0 497.9 149.8 497.9 150.5 497.9 151.2 498.0 151.8 498.0 152.5 498.1 153.2 498.2 153.8 498.3 154.5 498.5 155.0 498.6 155.5 498.8 156.2 499.0 156.8 499.1 157.2 499.3 157.8 499.5 158.2 499.8 158.8 500.0 159.2 500.3 159.8 500.6 160.2 500.9 160.7 501.2 161.0 501.5 161.5 501.9 161.8 502.2 162.2 502.7 162.5 503.1 162.8 503.5 163.0 504.0 163.2 504.6 163.4 505.2 163.5 506.0 163.4 506.8 163.2 507.4 163.0 508.0 162.8 508.5 162.5 508.9 162.2 509.3 161.8 509.8 161.5 510.1 161.0 510.5 160.7 510.8 160.2 511.1 159.8 511.4 159.2 511.7 158.8 512.0 158.2 512.2 157.8 512.4 157.2 512.6 156.8 512.8 156.2 513.0 155.5 513.2 155.0 513.3 154.2 513.5 153.8 513.6 153.0 513.7 152.3 513.8Z" fill="#ececec" stroke="#737373" stroke-width="0.55"/>
<path d="M151.5 513.0L150.8 513.1 150.0 513.1 149.2 513.1 148.5 513.1 147.8 513.1 147.0 513.1 146.5 513.0 145.8 512.9 145.0 512.8 144.5 512.7 143.8 512.5 143.2 512.4 142.7 512.2 142.0 512.0 141.5 511.8 141.0 511.6 140.5 511.4 140.0 511.1 139.5 510.8 139.0 510.5 138.7 510.2 138.2 509.9 137.8 509.5 137.5 509.2 137.2 508.8 136.8 508.2 136.6 507.8 136.4 507.2 136.2 506.7 136.2 506.0 136.2 505.3 136.4 504.8 136.6 504.2 136.8 503.8 137.2 503.2 137.5 502.8 137.8 502.5 138.2 502.1 138.7 501.8 139.0 501.5 139.5 501.2 140.0 500.9 140.5 500.6 141.0 500.4 141.5 500.2 142.0 500.0 142.7 499.8 143.2 499.6 143.8 499.4 144.5 499.3 145.0 499.2 145.8 499.0 146.2 499.0 147.0 498.9 147.8 498.8 148.5 498.8 149.2 498.8 150.0 498.8 150.8 498.9 151.5 498.9 152.0 499.0 152.8 499.1 153.4 499.2 154.0 499.4 154.5 499.5 155.2 499.7 155.8 499.9 156.2 500.1 156.8 500.3 157.3 500.5 157.8 500.8 158.2 501.0 158.8 501.3 159.2 501.7 159.6 502.0 160.0 502.3 160.4 502.8 160.8 503.1 161.0 503.5 161.3 504.0 161.5 504.5 161.7 505.2 161.8 505.8 161.8 506.5 161.7 507.0 161.5 507.6 161.2 508.1 161.0 508.5 160.6 509.0 160.2 509.4 159.9 509.8 159.5 510.1 159.0 510.5 158.6 510.8 158.2 511.0 157.7 511.2 157.2 511.5 156.7 511.8 156.0 512.0 155.5 512.2 155.0 512.3 154.4 512.5 153.8 512.7 153.2 512.8 152.5 512.9 151.8 513.0Z" fill="#e2e2e2" stroke="#737373" stroke-width="0.55"/>
<path d="M151.8 512.3L151.0 512.3 150.2 512.4 149.5 512.4 148.8 512.4 148.0 512.4 147.2 512.4 146.5 512.3 146.0 512.2 145.2 512.1 144.8 512.0 144.0 511.8 143.5 511.7 143.0 511.5 142.3 511.2 141.8 511.0 141.2 510.8 140.8 510.5 140.3 510.2 140.0 510.0 139.5 509.7 139.0 509.2 138.8 508.9 138.4 508.5 138.0 508.0 137.8 507.5 137.6 507.0 137.5 506.3 137.5 505.8 137.6 505.2 137.8 504.6 138.0 504.1 138.2 503.7 138.6 503.2 139.0 502.8 139.3 502.5 139.8 502.1 140.2 501.8 140.7 501.5 141.2 501.2 141.7 501.0 142.2 500.8 142.8 500.6 143.2 500.4 143.8 500.2 144.5 500.0 145.0 499.9 145.8 499.8 146.2 499.7 147.0 499.6 147.8 499.6 148.5 499.5 149.2 499.5 150.0 499.6 150.8 499.6 151.5 499.7 152.0 499.8 152.8 499.9 153.3 500.0 154.0 500.2 154.5 500.3 155.0 500.5 155.7 500.8 156.2 501.0 156.8 501.2 157.2 501.5 157.7 501.8 158.0 502.0 158.5 502.3 159.0 502.8 159.2 503.1 159.6 503.5 160.0 504.0 160.2 504.5 160.4 505.0 160.5 505.7 160.5 506.2 160.4 506.8 160.2 507.4 160.0 507.9 159.8 508.3 159.4 508.8 159.0 509.2 158.7 509.5 158.2 509.8 157.8 510.2 157.3 510.5 156.8 510.8 156.3 511.0 155.8 511.2 155.2 511.4 154.8 511.6 154.2 511.8 153.5 511.9 153.0 512.1 152.2 512.2 151.8 512.3Z" fill="#d8d8d8" stroke="#737373" stroke-width="0.55"/>
<path d="M151.8 511.5L151.0 511.6 150.2 511.7 149.5 511.7 148.8 511.7 148.0 511.7 147.2 511.7 146.5 511.6 146.0 511.5 145.2 511.3 144.8 511.2 144.0 511.0 143.5 510.8 143.0 510.6 142.5 510.4 142.0 510.2 141.5 509.9 141.0 509.6 140.6 509.2 140.2 509.0 139.8 508.5 139.5 508.1 139.2 507.7 139.0 507.2 138.8 506.5 138.8 505.8 138.9 505.0 139.1 504.5 139.4 504.0 139.8 503.6 140.0 503.2 140.5 502.8 140.9 502.5 141.3 502.2 141.8 502.0 142.2 501.7 142.8 501.5 143.3 501.2 144.0 501.0 144.5 500.8 145.0 500.7 145.8 500.6 146.2 500.5 147.0 500.4 147.8 500.3 148.5 500.3 149.2 500.3 150.0 500.3 150.8 500.3 151.5 500.4 152.0 500.5 152.8 500.7 153.2 500.8 154.0 501.0 154.5 501.2 155.0 501.3 155.5 501.6 156.0 501.8 156.5 502.1 157.0 502.4 157.4 502.8 157.8 503.0 158.2 503.5 158.5 503.9 158.8 504.3 159.0 504.8 159.2 505.5 159.2 506.2 159.1 507.0 158.9 507.5 158.6 508.0 158.2 508.4 158.0 508.8 157.5 509.2 157.1 509.5 156.7 509.8 156.2 510.0 155.8 510.3 155.2 510.5 154.7 510.8 154.0 511.0 153.5 511.2 153.0 511.3 152.2 511.4 151.8 511.5Z" fill="#cfcfcf" stroke="#737373" stroke-width="0.55"/>
<path d="M150.8 511.0L150.0 511.1 149.2 511.1 148.5 511.1 147.8 511.1 147.2 511.0 146.5 510.9 145.8 510.8 145.2 510.7 144.7 510.5 144.0 510.3 143.5 510.1 143.0 509.8 142.5 509.6 142.0 509.3 141.6 509.0 141.2 508.7 140.8 508.2 140.5 507.8 140.2 507.4 140.0 506.8 139.9 506.2 139.9 505.5 140.1 505.0 140.3 504.5 140.6 504.0 141.0 503.6 141.3 503.2 141.8 502.9 142.2 502.6 142.8 502.3 143.2 502.0 143.8 501.8 144.2 501.6 144.8 501.5 145.5 501.3 146.0 501.2 146.8 501.1 147.2 501.0 148.0 500.9 148.8 500.9 149.5 500.9 150.2 500.9 150.8 501.0 151.5 501.1 152.2 501.2 152.8 501.3 153.3 501.5 154.0 501.7 154.5 501.9 155.0 502.2 155.5 502.4 156.0 502.7 156.4 503.0 156.8 503.3 157.2 503.8 157.5 504.2 157.8 504.6 158.0 505.2 158.1 505.8 158.1 506.5 157.9 507.0 157.7 507.5 157.4 508.0 157.0 508.4 156.7 508.8 156.2 509.1 155.8 509.4 155.2 509.7 154.8 510.0 154.2 510.2 153.8 510.4 153.2 510.5 152.5 510.7 152.0 510.8 151.2 510.9 150.8 511.0Z" fill="#c6c6c6" stroke="#737373" stroke-width="0.55"/>
<path d="M149.5 510.5L148.8 510.5 148.2 510.5 147.5 510.4 146.8 510.3 146.2 510.2 145.5 510.1 145.0 509.9 144.5 509.7 143.9 509.5 143.4 509.2 143.0 509.0 142.5 508.7 142.0 508.2 141.8 507.9 141.4 507.5 141.2 507.0 141.0 506.4 141.0 505.8 141.1 505.2 141.3 504.8 141.6 504.2 142.0 503.8 142.3 503.5 142.8 503.2 143.2 502.8 143.8 502.6 144.2 502.4 144.8 502.2 145.3 502.0 146.0 501.8 146.5 501.7 147.2 501.6 148.0 501.5 148.5 501.5 149.2 501.5 149.8 501.5 150.5 501.6 151.2 501.7 151.8 501.8 152.5 501.9 153.0 502.1 153.5 502.3 154.1 502.5 154.6 502.8 155.0 503.0 155.5 503.3 156.0 503.8 156.2 504.1 156.6 504.5 156.8 505.0 157.0 505.6 157.0 506.2 156.9 506.8 156.7 507.2 156.4 507.8 156.0 508.2 155.7 508.5 155.2 508.8 154.8 509.2 154.2 509.4 153.8 509.6 153.2 509.8 152.7 510.0 152.0 510.2 151.5 510.3 150.8 510.4 150.0 510.5 149.5 510.5Z" fill="#bdbdbd" stroke="#737373" stroke-width="0.55"/>
<path d="M151.0 509.8L150.2 509.9 149.5 509.9 148.8 509.9 148.0 509.9 147.2 509.8 146.8 509.7 146.0 509.6 145.5 509.4 145.0 509.2 144.5 509.0 144.0 508.8 143.5 508.4 143.0 508.0 142.7 507.8 142.4 507.2 142.1 506.8 142.0 506.1 142.0 505.8 142.2 505.0 142.5 504.5 142.8 504.2 143.2 503.8 143.6 503.5 144.0 503.2 144.5 503.0 145.1 502.8 145.8 502.5 146.2 502.4 146.9 502.2 147.5 502.2 148.2 502.1 149.0 502.1 149.8 502.1 150.5 502.2 151.1 502.2 151.8 502.4 152.2 502.5 152.9 502.8 153.5 503.0 154.0 503.2 154.4 503.5 154.8 503.8 155.2 504.2 155.5 504.5 155.8 505.0 156.0 505.8 156.0 506.1 155.9 506.8 155.6 507.2 155.3 507.8 155.0 508.0 154.5 508.4 154.0 508.8 153.5 509.0 153.0 509.2 152.5 509.4 152.0 509.6 151.2 509.7Z" fill="#b5b5b5" stroke="#737373" stroke-width="0.55"/>
<path d="M150.2 509.3L149.5 509.3 148.8 509.3 148.0 509.3 147.5 509.2 146.8 509.1 146.2 509.0 145.6 508.8 145.1 508.5 144.6 508.2 144.2 508.0 143.8 507.6 143.5 507.2 143.2 506.8 143.1 506.0 143.2 505.2 143.5 504.8 143.8 504.4 144.2 504.0 144.6 503.8 145.1 503.5 145.6 503.2 146.2 503.0 146.8 502.9 147.5 502.8 148.0 502.7 148.8 502.7 149.5 502.7 150.2 502.7 150.8 502.8 151.5 503.0 152.0 503.1 152.5 503.3 153.0 503.5 153.5 503.8 154.0 504.2 154.3 504.5 154.7 505.0 154.9 505.5 154.9 506.2 154.8 506.8 154.5 507.3 154.1 507.8 153.8 508.0 153.2 508.3 152.8 508.6 152.2 508.8 151.6 509.0 151.0 509.1 150.4 509.2Z" fill="#adadad" stroke="#737373" stroke-width="0.55"/>
<path d="M150.8 508.5L150.0 508.6 149.2 508.7 148.5 508.7 147.8 508.6 147.2 508.5 146.5 508.3 146.0 508.1 145.5 507.9 145.0 507.5 144.7 507.2 144.4 506.8 144.2 506.2 144.2 505.6 144.5 505.0 144.8 504.7 145.2 504.3 145.8 504.0 146.2 503.8 146.8 503.6 147.2 503.5 148.0 503.4 148.8 503.3 149.5 503.3 150.2 503.4 150.8 503.5 151.5 503.7 152.0 503.9 152.5 504.1 153.0 504.5 153.3 504.8 153.6 505.2 153.8 505.8 153.8 506.4 153.5 507.0 153.2 507.3 152.8 507.7 152.2 508.0 151.8 508.2 151.2 508.4 150.8 508.5Z" fill="#a5a5a5" stroke="#737373" stroke-width="0.55"/>
<path d="M149.2 508.0L148.6 508.0 148.0 507.9 147.2 507.8 146.8 507.6 146.2 507.3 145.9 507.0 145.5 506.5 145.4 506.0 145.5 505.5 145.9 505.0 146.2 504.7 146.8 504.4 147.2 504.2 148.0 504.1 148.6 504.0 149.2 504.0 149.8 504.0 150.5 504.2 151.0 504.3 151.5 504.6 152.0 504.9 152.3 505.2 152.6 505.8 152.5 506.4 152.2 506.8 151.8 507.2 151.4 507.5 150.8 507.8 150.2 507.9 149.5 508.0Z" fill="#9d9d9d" stroke="#737373" stroke-width="0.55"/>
<path d="M148.0 515.5L148.5 515.5 149.2 515.7 149.8 515.8 150.5 516.0 151.0 516.1 151.5 516.3 152.2 516.5 152.8 516.7 153.2 516.9 153.8 517.2 154.2 517.5 154.5 517.8 155.0 518.2 155.3 518.5 155.6 519.0 155.9 519.5 156.1 520.0 156.2 520.6 156.3 521.2 156.3 522.0 156.1 522.5 156.0 523.0 155.7 523.5 155.4 524.0 155.1 524.5 154.8 524.9 154.4 525.2 154.0 525.6 153.5 526.0 153.1 526.2 152.7 526.5 152.2 526.8 151.7 527.0 151.1 527.2 150.5 527.5 150.0 527.6 149.4 527.8 148.8 527.9 148.0 528.0 147.2 528.0 146.9 528.0 146.2 528.0 145.5 527.9 144.8 527.8 144.2 527.6 143.8 527.5 143.1 527.2 142.6 527.0 142.2 526.8 141.8 526.5 141.2 526.1 140.9 525.8 140.5 525.2 140.2 524.8 140.0 524.3 139.8 523.8 139.7 523.2 139.7 522.5 139.8 522.0 139.9 521.2 140.1 520.8 140.4 520.2 140.7 519.8 141.0 519.4 141.3 519.0 141.8 518.6 142.1 518.2 142.5 517.8 142.8 517.5 143.2 517.1 143.7 516.8 144.0 516.5 144.5 516.2 145.0 516.0 145.6 515.8 146.2 515.6 147.0 515.5" fill="#f6f6f6" stroke="#8a8a8a" stroke-width="0.65"/>
<path d="M147.2 520.8L146.8 520.7 146.0 520.5 145.5 520.2 145.2 520.0 144.9 519.5 144.7 519.0 144.7 518.2 145.0 517.8 145.2 517.5 145.8 517.1 146.2 516.9 147.0 516.8 147.8 516.9 148.2 517.0 148.8 517.3 149.2 517.8 149.4 518.2 149.5 518.8 149.5 519.2 149.2 519.8 148.8 520.2 148.3 520.5 147.8 520.7 147.2 520.8Z" fill="#efefef" stroke="#8a8a8a" stroke-width="0.65"/>
<path d="M147.8 519.3L147.0 519.5 146.3 519.2 146.0 518.9 146.0 518.3 146.2 518.0 146.8 517.7 147.4 517.8 147.9 518.0 148.1 518.5 148.0 519.0Z" fill="#e8e8e8" stroke="#8a8a8a" stroke-width="0.65"/>
<path d="M258.8 513.3L258.0 513.3 257.2 513.3 256.5 513.3 255.8 513.3 255.0 513.3 254.2 513.3 253.8 513.2 253.0 513.2 252.2 513.1 251.5 513.1 250.8 513.0 250.2 512.9 249.5 512.8 249.0 512.8 248.2 512.6 247.7 512.5 247.0 512.3 246.5 512.2 246.0 512.0 245.4 511.8 244.8 511.5 244.4 511.2 244.0 511.0 243.5 510.7 243.0 510.3 242.7 510.0 242.2 509.5 242.0 509.2 241.6 508.8 241.3 508.2 241.1 507.8 240.9 507.2 240.8 506.5 240.8 505.8 240.9 505.0 241.0 504.5 241.2 503.9 241.5 503.5 241.8 503.0 242.2 502.5 242.5 502.2 242.9 501.8 243.2 501.5 243.8 501.1 244.2 500.8 244.6 500.5 245.1 500.2 245.5 500.0 246.0 499.8 246.6 499.5 247.2 499.2 247.8 499.0 248.2 498.9 248.8 498.7 249.5 498.5 250.0 498.4 250.5 498.2 251.2 498.1 251.9 498.0 252.5 497.9 253.2 497.8 253.8 497.8 254.5 497.7 255.2 497.6 256.0 497.6 256.8 497.6 257.5 497.6 258.2 497.7 259.0 497.7 259.5 497.8 260.2 497.9 261.0 498.0 261.5 498.1 262.2 498.2 262.8 498.3 263.5 498.5 264.0 498.6 264.5 498.8 265.1 499.0 265.8 499.2 266.2 499.4 266.8 499.6 267.2 499.9 267.8 500.1 268.2 500.4 268.8 500.7 269.1 501.0 269.5 501.3 270.0 501.7 270.3 502.0 270.8 502.5 271.0 502.8 271.4 503.2 271.7 503.8 271.9 504.2 272.1 504.8 272.2 505.5 272.2 506.2 272.1 507.0 272.0 507.5 271.8 508.1 271.5 508.5 271.2 509.0 270.8 509.5 270.5 509.8 270.0 510.2 269.7 510.5 269.2 510.9 268.8 511.2 268.2 511.5 267.8 511.7 267.2 511.9 266.8 512.1 266.2 512.3 265.5 512.5 265.0 512.6 264.2 512.7 263.8 512.8 263.0 512.9 262.2 513.0 261.8 513.1 261.0 513.1 260.2 513.2 259.5 513.2 258.8 513.2Z" fill="#ececec" stroke="#737373" stroke-width="0.55"/>
<path d="M258.2 512.8L257.5 512.8 256.8 512.8 256.0 512.8 255.2 512.8 254.6 512.8 254.0 512.7 253.2 512.7 252.5 512.6 251.8 512.5 251.2 512.5 250.5 512.3 250.0 512.2 249.2 512.1 248.8 512.0 248.1 511.8 247.5 511.5 247.0 511.3 246.5 511.1 246.0 510.8 245.5 510.5 245.1 510.2 244.8 510.0 244.2 509.5 244.0 509.2 243.6 508.8 243.2 508.3 243.0 507.8 242.8 507.2 242.6 506.8 242.6 506.0 242.6 505.2 242.8 504.8 243.0 504.2 243.2 503.7 243.6 503.2 244.0 502.8 244.2 502.5 244.8 502.0 245.1 501.8 245.5 501.4 246.0 501.1 246.5 500.8 247.0 500.6 247.5 500.3 248.0 500.1 248.5 499.9 249.0 499.7 249.8 499.5 250.2 499.4 250.8 499.2 251.5 499.1 252.0 499.0 252.8 498.9 253.5 498.8 254.0 498.7 254.8 498.6 255.5 498.6 256.2 498.6 257.0 498.6 257.8 498.6 258.5 498.7 259.2 498.7 259.8 498.8 260.5 498.9 261.1 499.0 261.8 499.1 262.3 499.2 263.0 499.4 263.5 499.6 264.0 499.8 264.7 500.0 265.2 500.2 265.8 500.5 266.2 500.7 266.8 501.0 267.2 501.2 267.6 501.5 268.0 501.8 268.5 502.2 268.8 502.5 269.2 503.0 269.5 503.3 269.8 503.8 270.0 504.2 270.2 504.8 270.4 505.5 270.4 506.2 270.3 507.0 270.1 507.5 269.9 508.0 269.6 508.5 269.2 509.0 269.0 509.3 268.5 509.8 268.2 510.0 267.8 510.4 267.2 510.7 266.8 511.0 266.2 511.2 265.8 511.4 265.2 511.6 264.8 511.8 264.1 512.0 263.5 512.1 263.0 512.2 262.2 512.4 261.5 512.5 261.0 512.6 260.2 512.6 259.5 512.7 258.8 512.7 258.2 512.8Z" fill="#e2e2e2" stroke="#737373" stroke-width="0.55"/>
<path d="M258.5 512.3L257.8 512.3 257.0 512.3 256.2 512.3 255.5 512.3 254.8 512.3 254.2 512.2 253.5 512.2 252.8 512.1 252.0 512.0 251.5 511.9 250.8 511.8 250.2 511.6 249.7 511.5 249.0 511.3 248.5 511.1 248.0 510.9 247.5 510.6 247.0 510.3 246.5 510.0 246.2 509.8 245.8 509.4 245.3 509.0 245.0 508.6 244.7 508.2 244.4 507.8 244.2 507.2 244.0 506.5 244.0 506.0 244.0 505.5 244.2 504.8 244.4 504.2 244.7 503.8 245.0 503.4 245.3 503.0 245.8 502.6 246.1 502.2 246.5 502.0 247.0 501.7 247.5 501.4 248.0 501.1 248.5 500.9 249.0 500.7 249.5 500.5 250.2 500.2 250.8 500.1 251.2 499.9 252.0 499.8 252.5 499.7 253.2 499.6 253.8 499.5 254.5 499.4 255.2 499.4 256.0 499.3 256.8 499.3 257.5 499.4 258.2 499.4 259.0 499.5 259.5 499.5 260.2 499.6 260.9 499.8 261.5 499.9 262.0 500.0 262.8 500.2 263.2 500.4 263.8 500.6 264.2 500.8 264.8 501.0 265.3 501.2 265.8 501.5 266.2 501.8 266.8 502.2 267.2 502.5 267.5 502.8 267.9 503.2 268.2 503.7 268.5 504.1 268.8 504.6 268.9 505.2 269.0 505.8 269.0 506.4 268.9 507.0 268.7 507.5 268.4 508.0 268.1 508.5 267.8 508.9 267.4 509.2 267.0 509.6 266.5 510.0 266.1 510.2 265.7 510.5 265.2 510.8 264.7 511.0 264.0 511.2 263.5 511.4 263.0 511.6 262.3 511.8 261.8 511.9 261.0 512.0 260.5 512.1 259.8 512.2 259.0 512.2 258.5 512.3Z" fill="#d8d8d8" stroke="#737373" stroke-width="0.55"/>
<path d="M257.0 511.8L256.2 511.8 255.8 511.7 255.0 511.7 254.2 511.7 253.5 511.6 253.0 511.5 252.2 511.4 251.7 511.2 251.0 511.1 250.5 510.9 250.0 510.8 249.3 510.5 248.8 510.2 248.3 510.0 247.9 509.8 247.5 509.5 247.0 509.1 246.7 508.8 246.2 508.3 246.0 508.0 245.7 507.5 245.5 506.9 245.4 506.2 245.4 505.5 245.5 505.0 245.8 504.5 246.0 504.0 246.4 503.5 246.8 503.2 247.2 502.8 247.5 502.5 248.0 502.2 248.5 501.9 249.0 501.6 249.5 501.4 250.0 501.2 250.5 501.0 251.2 500.8 251.8 500.6 252.4 500.5 253.0 500.4 253.8 500.3 254.2 500.2 255.0 500.1 255.8 500.1 256.5 500.1 257.2 500.1 258.0 500.1 258.8 500.2 259.2 500.3 260.0 500.4 260.6 500.5 261.2 500.6 261.8 500.8 262.5 501.0 263.0 501.2 263.5 501.4 264.0 501.6 264.5 501.9 265.0 502.2 265.5 502.5 265.8 502.8 266.2 503.2 266.6 503.5 267.0 504.0 267.2 504.5 267.5 505.0 267.6 505.5 267.6 506.2 267.5 506.9 267.3 507.5 267.0 508.0 266.8 508.3 266.3 508.8 266.0 509.1 265.5 509.5 265.1 509.8 264.7 510.0 264.2 510.2 263.7 510.5 263.0 510.8 262.5 510.9 262.0 511.1 261.3 511.2 260.8 511.4 260.0 511.5 259.5 511.6 258.8 511.7 258.0 511.7 257.2 511.7Z" fill="#cfcfcf" stroke="#737373" stroke-width="0.55"/>
<path d="M259.2 511.0L258.5 511.1 257.8 511.2 257.0 511.2 256.2 511.2 255.5 511.2 254.8 511.1 254.0 511.0 253.5 511.0 252.8 510.8 252.2 510.7 251.5 510.5 251.0 510.4 250.5 510.2 250.0 510.0 249.5 509.7 249.0 509.4 248.5 509.1 248.1 508.8 247.8 508.5 247.3 508.0 247.0 507.5 246.8 507.0 246.7 506.5 246.6 505.8 246.8 505.1 247.0 504.5 247.2 504.1 247.6 503.8 248.0 503.3 248.4 503.0 248.8 502.7 249.2 502.4 249.8 502.1 250.2 501.9 250.8 501.7 251.4 501.5 252.0 501.3 252.5 501.2 253.2 501.0 253.8 500.9 254.5 500.8 255.2 500.8 255.8 500.7 256.5 500.7 257.2 500.7 257.8 500.8 258.5 500.8 259.2 500.9 259.8 501.0 260.5 501.2 261.0 501.3 261.6 501.5 262.2 501.7 262.8 501.9 263.2 502.1 263.8 502.4 264.2 502.7 264.6 503.0 265.0 503.3 265.4 503.8 265.8 504.1 266.0 504.5 266.2 505.1 266.4 505.8 266.3 506.5 266.2 507.0 266.0 507.5 265.7 508.0 265.2 508.5 264.9 508.8 264.5 509.1 264.0 509.4 263.5 509.7 263.0 510.0 262.5 510.2 262.0 510.4 261.5 510.5 260.8 510.7 260.2 510.8 259.5 511.0Z" fill="#c6c6c6" stroke="#737373" stroke-width="0.55"/>
<path d="M258.5 510.5L257.8 510.6 257.0 510.6 256.2 510.6 255.5 510.6 254.8 510.5 254.2 510.5 253.5 510.4 253.0 510.2 252.2 510.1 251.8 509.9 251.2 509.7 250.8 509.5 250.2 509.2 249.8 509.0 249.2 508.6 248.8 508.2 248.5 507.9 248.2 507.5 248.0 507.0 247.8 506.2 247.8 505.5 248.0 504.9 248.2 504.5 248.6 504.0 249.0 503.6 249.4 503.2 249.8 503.0 250.2 502.7 250.8 502.5 251.3 502.2 252.0 502.0 252.5 501.9 253.0 501.7 253.8 501.6 254.3 501.5 255.0 501.4 255.8 501.4 256.5 501.3 257.2 501.4 258.0 501.4 258.7 501.5 259.2 501.6 260.0 501.7 260.5 501.9 261.0 502.0 261.7 502.2 262.2 502.5 262.8 502.7 263.2 503.0 263.6 503.2 264.0 503.6 264.4 504.0 264.8 504.5 265.0 504.9 265.2 505.5 265.2 506.2 265.0 507.0 264.8 507.5 264.5 507.9 264.2 508.2 263.8 508.6 263.2 509.0 262.8 509.2 262.2 509.5 261.8 509.7 261.2 509.9 260.8 510.1 260.0 510.2 259.5 510.4 258.8 510.5Z" fill="#bdbdbd" stroke="#737373" stroke-width="0.55"/>
<path d="M257.5 510.0L256.8 510.0 256.0 510.0 255.4 510.0 254.8 509.9 254.0 509.8 253.5 509.7 252.8 509.5 252.2 509.4 251.8 509.2 251.2 508.9 250.8 508.7 250.2 508.3 249.9 508.0 249.5 507.6 249.2 507.2 249.0 506.7 248.9 506.0 249.0 505.3 249.2 504.8 249.5 504.4 249.9 504.0 250.2 503.7 250.8 503.3 251.2 503.1 251.8 502.8 252.2 502.6 252.8 502.5 253.5 502.3 254.0 502.2 254.8 502.1 255.2 502.0 256.0 502.0 256.8 501.9 257.5 502.0 258.0 502.0 258.8 502.1 259.4 502.2 260.0 502.4 260.5 502.5 261.1 502.8 261.6 503.0 262.1 503.2 262.5 503.5 263.0 503.9 263.4 504.2 263.7 504.8 264.0 505.2 264.1 505.8 264.1 506.5 263.9 507.0 263.6 507.5 263.2 507.9 262.8 508.2 262.5 508.5 262.0 508.8 261.5 509.1 261.0 509.3 260.3 509.5 259.8 509.7 259.2 509.8 258.5 509.9 257.8 510.0Z" fill="#b5b5b5" stroke="#737373" stroke-width="0.55"/>
<path d="M258.5 509.3L257.8 509.4 257.0 509.4 256.2 509.4 255.5 509.4 254.8 509.3 254.2 509.2 253.5 509.0 253.0 508.9 252.5 508.7 252.0 508.5 251.5 508.2 251.0 507.8 250.7 507.5 250.3 507.0 250.1 506.5 250.0 505.8 250.2 505.1 250.5 504.7 250.9 504.2 251.2 504.0 251.8 503.7 252.2 503.4 252.8 503.2 253.3 503.0 254.0 502.8 254.5 502.7 255.2 502.6 256.0 502.6 256.8 502.6 257.5 502.6 258.2 502.7 258.8 502.8 259.5 502.9 260.0 503.1 260.5 503.3 261.0 503.5 261.5 503.8 262.0 504.2 262.3 504.5 262.7 505.0 262.9 505.5 263.0 506.2 262.8 506.9 262.5 507.3 262.1 507.8 261.8 508.0 261.2 508.3 260.8 508.6 260.2 508.8 259.7 509.0 259.0 509.2 258.5 509.3Z" fill="#adadad" stroke="#737373" stroke-width="0.55"/>
<path d="M257.2 508.8L256.5 508.8 255.8 508.8 255.2 508.7 254.5 508.6 254.0 508.4 253.4 508.2 252.9 508.0 252.4 507.8 252.0 507.4 251.6 507.0 251.3 506.5 251.3 505.8 251.5 505.2 251.8 504.8 252.2 504.4 252.8 504.1 253.2 503.8 253.8 503.6 254.2 503.5 255.0 503.3 255.7 503.2 256.2 503.2 257.0 503.2 257.5 503.3 258.2 503.4 258.8 503.5 259.5 503.7 260.0 503.9 260.5 504.2 260.9 504.5 261.2 504.8 261.5 505.2 261.7 506.0 261.5 506.8 261.2 507.2 260.9 507.5 260.5 507.8 260.0 508.1 259.5 508.3 258.8 508.5 258.2 508.6 257.5 508.7Z" fill="#a5a5a5" stroke="#737373" stroke-width="0.55"/>
<path d="M257.5 508.0L256.8 508.1 256.0 508.1 255.4 508.0 254.8 507.9 254.2 507.7 253.8 507.5 253.2 507.1 252.9 506.8 252.6 506.2 252.7 505.5 253.0 505.1 253.4 504.8 253.8 504.5 254.4 504.2 255.0 504.1 255.5 504.0 256.2 503.9 257.0 503.9 257.6 504.0 258.2 504.1 258.8 504.3 259.2 504.5 259.8 504.9 260.1 505.2 260.4 505.8 260.3 506.5 260.0 506.9 259.6 507.2 259.2 507.5 258.6 507.8 258.0 507.9 257.5 508.0Z" fill="#9d9d9d" stroke="#737373" stroke-width="0.55"/>
<path d="M267.0 513.7L267.4 514.0 267.8 514.2 268.1 514.7 268.0 515.2 267.6 515.7 267.2 516.0 266.8 516.3 266.2 516.6 265.8 516.8 265.2 517.0 264.5 517.2 264.0 517.3 263.4 517.5 262.8 517.6 262.1 517.7 261.5 517.8 260.8 517.9 260.0 517.9 259.5 518.0 258.8 518.0 258.0 518.0 257.2 518.0 256.5 518.0 256.0 518.0 255.2 517.9 254.5 517.8 254.0 517.7 253.2 517.6 252.5 517.5 251.8 517.5 251.0 517.7 250.7 518.0 250.3 518.5 250.1 519.0 249.9 519.5 249.8 520.2 249.7 520.7 249.6 521.5 249.6 522.2 249.5 522.7 249.4 523.5 249.2 524.0 249.1 524.7 249.0 525.2 248.8 525.9 248.6 526.5 248.4 527.0 248.2 527.5 248.0 528.0 247.8 528.6 247.5 529.1 247.2 529.6 247.0 530.1 246.8 530.5 246.5 531.0 246.2 531.5 245.8 532.0 245.5 532.4 245.2 532.7 244.8 533.2 244.5 533.6 244.1 534.0 243.8 534.3 243.2 534.7 242.9 535.0 242.5 535.2 242.0 535.5 241.5 535.7 240.8 535.9 240.2 536.0 239.7 536.0 239.0 535.8 238.5 535.5 238.1 535.2 237.8 534.9 237.4 534.5 237.2 534.0 236.9 533.5 236.8 532.9 236.6 532.2 236.5 531.7 236.4 531.0 236.3 530.2 236.3 529.5 236.4 528.7 236.4 528.0 236.5 527.4 236.6 526.7 236.8 526.0 236.9 525.5 237.0 525.0 237.2 524.2 237.4 523.7 237.5 523.2 237.8 522.6 238.0 522.0 238.2 521.5 238.5 521.0 238.7 520.5 239.0 520.0 239.2 519.5 239.5 519.1 239.8 518.7 240.1 518.2 240.4 517.7 240.8 517.3 241.0 517.0 241.4 516.5 241.8 516.1 242.2 515.7 242.5 515.4 243.0 515.0 243.5 514.7 244.0 514.5 244.5 514.2 245.0 514.0 245.5 513.9 246.2 513.9 247.0 513.9 247.5 514.1 248.0 514.2 248.6 514.5 249.2 514.7 249.8 514.9 250.2 515.1 251.0 515.1 251.8 515.0 252.2 514.9 252.8 514.7 253.5 514.5 254.0 514.3 254.5 514.1 255.0 513.9 255.8 513.7" fill="#f6f6f6" stroke="#8a8a8a" stroke-width="0.65"/>
<path d="M260.0 516.7L259.2 516.7 258.5 516.7 258.0 516.7 257.2 516.6 256.7 516.5 256.2 516.2 256.0 515.7 256.2 515.4 256.8 515.1 257.2 514.8 257.8 514.7 258.5 514.5 259.0 514.4 259.8 514.3 260.5 514.3 261.2 514.3 262.0 514.3 262.8 514.4 263.2 514.5 263.8 514.8 263.9 515.5 263.5 515.8 263.0 516.1 262.5 516.2 261.8 516.4 261.2 516.5 260.5 516.7 260.0 516.7Z" fill="#efefef" stroke="#8a8a8a" stroke-width="0.65"/>
<path d="M241.8 533.5L241.0 533.6 240.2 533.6 239.8 533.4 239.2 533.1 238.8 532.7 238.5 532.3 238.2 531.7 238.1 531.2 237.9 530.7 237.8 530.0 237.8 529.3 237.7 528.7 237.8 528.2 237.8 527.5 237.9 526.7 238.0 526.1 238.1 525.5 238.3 525.0 238.5 524.2 238.7 523.7 238.8 523.2 239.0 522.7 239.3 522.2 239.5 521.7 239.8 521.2 240.0 520.7 240.3 520.2 240.6 519.7 241.0 519.2 241.2 518.9 241.6 518.5 242.0 518.0 242.3 517.7 242.8 517.3 243.2 517.0 243.7 516.7 244.1 516.5 244.8 516.2 245.2 516.1 246.0 516.1 246.5 516.2 247.0 516.5 247.5 516.9 247.8 517.2 248.0 517.8 248.1 518.5 248.2 519.2 248.2 519.9 248.3 520.5 248.3 521.2 248.2 521.9 248.2 522.5 248.1 523.2 248.0 523.9 247.9 524.5 247.8 525.0 247.5 525.7 247.4 526.2 247.2 526.7 247.0 527.2 246.8 527.8 246.5 528.3 246.2 528.8 246.0 529.3 245.7 529.7 245.4 530.2 245.1 530.7 244.8 531.1 244.5 531.5 244.0 531.9 243.7 532.2 243.2 532.6 242.8 533.0 242.3 533.2 241.8 533.5Z" fill="#efefef" stroke="#8a8a8a" stroke-width="0.65"/>
<path d="M241.8 531.5L241.0 531.5 240.5 531.4 240.0 531.0 239.7 530.7 239.4 530.2 239.2 529.7 239.1 529.0 239.0 528.2 239.0 527.5 239.1 526.7 239.2 526.0 239.3 525.5 239.5 524.7 239.6 524.2 239.8 523.7 240.0 523.2 240.2 522.7 240.5 522.2 240.8 521.7 241.1 521.2 241.4 520.7 241.8 520.3 242.0 520.0 242.5 519.5 242.8 519.2 243.2 518.9 243.8 518.6 244.2 518.4 245.0 518.4 245.5 518.5 246.0 518.8 246.3 519.2 246.6 519.7 246.8 520.2 246.9 521.0 247.0 521.7 247.0 522.5 246.9 523.2 246.8 524.0 246.7 524.5 246.5 525.2 246.4 525.7 246.2 526.2 246.0 526.7 245.8 527.3 245.5 527.8 245.2 528.3 245.0 528.7 244.6 529.2 244.3 529.7 244.0 530.0 243.6 530.5 243.2 530.7 242.8 531.1 242.2 531.3 241.8 531.5Z" fill="#e8e8e8" stroke="#8a8a8a" stroke-width="0.65"/>
<path d="M242.5 528.7L241.8 528.8 241.2 528.5 241.0 528.2 240.8 527.5 240.7 527.0 240.7 526.2 240.8 525.7 240.9 525.0 241.1 524.5 241.3 524.0 241.5 523.4 241.8 523.0 242.1 522.5 242.5 522.0 242.8 521.7 243.2 521.4 243.8 521.2 244.3 521.2 244.8 521.5 245.1 522.0 245.2 522.5 245.3 523.2 245.3 524.0 245.2 524.5 245.0 525.2 244.9 525.7 244.7 526.2 244.4 526.7 244.1 527.2 243.8 527.7 243.5 528.0 243.0 528.4 242.6 528.7Z" fill="#e0e0e0" stroke="#8a8a8a" stroke-width="0.65"/>
<path d="M351.8 515.5L351.0 515.5 350.2 515.5 349.8 515.5 349.0 515.5 348.2 515.5 347.5 515.4 346.8 515.4 346.0 515.3 345.2 515.3 344.8 515.2 344.0 515.2 343.2 515.1 342.5 515.0 342.0 515.0 341.2 514.9 340.5 514.9 339.8 514.8 339.0 514.8 338.5 514.7 337.8 514.7 337.0 514.6 336.4 514.5 335.8 514.4 335.0 514.3 334.5 514.1 334.0 514.0 333.2 513.8 332.8 513.5 332.2 513.3 331.8 513.0 331.4 512.8 331.0 512.4 330.6 512.0 330.3 511.5 330.1 511.0 329.9 510.5 329.9 509.8 330.0 509.2 330.2 508.6 330.5 508.2 330.8 507.8 331.2 507.4 331.7 507.0 332.1 506.8 332.5 506.5 333.0 506.2 333.5 506.0 334.2 505.8 334.8 505.6 335.2 505.4 336.0 505.3 336.5 505.2 337.2 505.0 337.8 504.9 338.5 504.8 339.2 504.8 339.8 504.7 340.5 504.6 341.1 504.5 341.8 504.4 342.5 504.3 343.0 504.2 343.8 504.1 344.3 504.0 345.0 503.9 345.8 503.8 346.2 503.7 347.0 503.6 347.8 503.5 348.3 503.5 349.0 503.5 349.8 503.4 350.5 503.4 351.2 503.4 352.0 503.4 352.8 503.4 353.5 503.5 354.0 503.5 354.8 503.6 355.5 503.7 356.0 503.8 356.8 503.9 357.3 504.0 358.0 504.1 358.5 504.3 359.2 504.5 359.8 504.6 360.2 504.8 360.9 505.0 361.5 505.2 362.0 505.4 362.5 505.7 363.0 505.9 363.5 506.2 363.9 506.5 364.2 506.8 364.8 507.2 365.1 507.5 365.5 508.0 365.8 508.4 366.0 508.9 366.2 509.5 366.2 510.2 366.0 511.0 365.8 511.5 365.5 512.0 365.2 512.3 364.8 512.8 364.5 513.0 364.0 513.3 363.5 513.6 363.0 513.9 362.5 514.1 362.0 514.3 361.2 514.5 360.8 514.6 360.2 514.8 359.5 514.9 358.8 515.0 358.2 515.1 357.5 515.2 356.8 515.2 356.2 515.3 355.5 515.4 354.8 515.4 354.0 515.4 353.2 515.5 352.5 515.5 351.8 515.5Z" fill="#ececec" stroke="#737373" stroke-width="0.55"/>
<path d="M354.0 515.0L353.2 515.1 352.5 515.1 351.8 515.1 351.0 515.1 350.2 515.1 349.5 515.1 348.8 515.1 348.0 515.0 347.5 515.0 346.8 514.9 346.0 514.9 345.2 514.8 344.7 514.8 344.0 514.7 343.2 514.6 342.5 514.5 342.0 514.5 341.2 514.4 340.5 514.3 339.9 514.2 339.2 514.2 338.5 514.1 337.8 514.0 337.2 514.0 336.5 513.8 336.0 513.7 335.2 513.5 334.8 513.4 334.2 513.2 333.8 513.0 333.2 512.7 332.8 512.4 332.3 512.0 332.0 511.7 331.7 511.2 331.5 510.8 331.3 510.0 331.5 509.2 331.7 508.8 332.0 508.3 332.3 508.0 332.8 507.6 333.2 507.3 333.7 507.0 334.2 506.8 334.8 506.5 335.2 506.4 335.8 506.2 336.5 506.0 337.0 505.9 337.8 505.8 338.2 505.7 339.0 505.6 339.8 505.5 340.2 505.5 341.0 505.4 341.7 505.2 342.2 505.2 343.0 505.0 343.5 504.9 344.2 504.8 344.8 504.7 345.5 504.6 346.2 504.5 346.8 504.4 347.5 504.3 348.2 504.3 348.8 504.2 349.5 504.2 350.2 504.2 351.0 504.2 351.8 504.2 352.5 504.2 353.2 504.2 353.8 504.3 354.5 504.4 355.2 504.5 355.8 504.5 356.5 504.7 357.0 504.8 357.8 504.9 358.2 505.1 358.9 505.2 359.5 505.5 360.0 505.6 360.5 505.8 361.0 506.1 361.5 506.3 362.0 506.6 362.5 506.9 362.9 507.2 363.2 507.6 363.7 508.0 364.0 508.4 364.2 508.9 364.4 509.5 364.5 510.2 364.3 511.0 364.0 511.5 363.8 511.9 363.4 512.2 363.0 512.6 362.5 513.0 362.1 513.2 361.6 513.5 361.0 513.8 360.5 514.0 360.0 514.1 359.5 514.2 358.8 514.4 358.2 514.5 357.5 514.7 356.8 514.8 356.2 514.8 355.5 514.9 354.8 515.0 354.1 515.0Z" fill="#e2e2e2" stroke="#737373" stroke-width="0.55"/>
<path d="M355.2 514.5L354.5 514.6 353.8 514.7 353.0 514.7 352.2 514.7 351.5 514.7 350.8 514.7 350.0 514.7 349.2 514.7 348.5 514.7 347.8 514.6 347.0 514.6 346.3 514.5 345.8 514.4 345.0 514.3 344.3 514.2 343.8 514.2 343.0 514.1 342.5 514.0 341.8 513.9 341.0 513.8 340.5 513.8 339.8 513.7 339.0 513.6 338.3 513.5 337.8 513.4 337.0 513.3 336.5 513.2 335.9 513.0 335.2 512.8 334.8 512.6 334.2 512.3 333.8 512.0 333.5 511.8 333.0 511.2 332.8 510.8 332.6 510.2 332.7 509.5 332.9 509.0 333.2 508.5 333.5 508.2 334.0 507.8 334.5 507.5 335.0 507.3 335.5 507.1 336.0 506.9 336.6 506.8 337.2 506.6 337.8 506.5 338.5 506.4 339.2 506.3 339.8 506.2 340.5 506.1 341.2 506.0 341.8 505.9 342.5 505.8 343.0 505.7 343.8 505.6 344.2 505.5 345.0 505.3 345.5 505.2 346.2 505.1 347.0 505.0 347.5 505.0 348.2 504.9 349.0 504.8 349.8 504.8 350.5 504.8 351.0 504.7 351.5 504.8 352.2 504.8 353.0 504.8 353.8 504.9 354.5 505.0 355.0 505.0 355.8 505.2 356.2 505.3 357.0 505.4 357.5 505.6 358.1 505.8 358.8 506.0 359.2 506.2 359.8 506.4 360.2 506.6 360.8 506.9 361.2 507.2 361.7 507.5 362.0 507.8 362.4 508.2 362.8 508.7 363.0 509.2 363.1 509.8 363.1 510.5 362.9 511.0 362.6 511.5 362.2 511.9 361.9 512.2 361.5 512.6 361.0 512.9 360.5 513.2 360.0 513.4 359.5 513.6 359.0 513.8 358.2 514.0 357.8 514.1 357.1 514.2 356.5 514.4 355.8 514.5 355.2 514.5Z" fill="#d8d8d8" stroke="#737373" stroke-width="0.55"/>
<path d="M353.5 514.3L352.8 514.3 352.0 514.3 351.2 514.3 350.5 514.3 349.8 514.3 349.0 514.3 348.4 514.2 347.8 514.2 347.0 514.1 346.2 514.0 345.8 514.0 345.0 513.8 344.5 513.7 343.8 513.6 343.1 513.5 342.5 513.4 341.8 513.3 341.2 513.2 340.5 513.1 339.8 513.0 339.2 512.9 338.5 512.8 338.0 512.7 337.2 512.6 336.8 512.4 336.2 512.2 335.6 512.0 335.2 511.8 334.8 511.4 334.4 511.0 334.1 510.5 334.0 509.8 334.2 509.2 334.6 508.8 335.0 508.4 335.5 508.1 336.0 507.8 336.5 507.6 337.0 507.5 337.8 507.3 338.2 507.2 339.0 507.1 339.5 507.0 340.2 506.9 341.0 506.8 341.5 506.7 342.2 506.6 342.8 506.5 343.5 506.3 344.0 506.2 344.8 506.0 345.2 505.9 346.0 505.8 346.5 505.7 347.2 505.6 348.0 505.5 348.5 505.5 349.2 505.4 350.0 505.3 350.8 505.3 351.5 505.3 352.2 505.4 353.0 505.4 353.8 505.5 354.2 505.6 355.0 505.7 355.5 505.8 356.2 505.9 356.8 506.1 357.4 506.2 358.0 506.5 358.5 506.7 359.0 506.9 359.5 507.1 360.0 507.4 360.4 507.8 360.8 508.0 361.2 508.5 361.5 509.0 361.7 509.5 361.8 510.0 361.7 510.5 361.5 511.0 361.2 511.5 360.8 512.0 360.4 512.2 360.0 512.5 359.5 512.8 359.0 513.1 358.5 513.3 357.8 513.5 357.2 513.7 356.8 513.8 356.0 513.9 355.5 514.0 354.8 514.1 354.0 514.2 353.5 514.3Z" fill="#cfcfcf" stroke="#737373" stroke-width="0.55"/>
<path d="M354.2 513.8L353.5 513.8 352.8 513.9 352.0 513.9 351.2 514.0 350.5 514.0 349.8 513.9 349.0 513.9 348.2 513.8 347.6 513.8 347.0 513.7 346.2 513.6 345.8 513.5 345.0 513.3 344.5 513.2 343.8 513.0 343.2 512.9 342.5 512.8 342.0 512.7 341.2 512.5 340.8 512.5 340.0 512.3 339.5 512.2 338.8 512.1 338.2 512.0 337.5 511.8 337.0 511.6 336.5 511.4 336.0 511.0 335.7 510.8 335.5 510.2 335.5 509.7 335.8 509.2 336.2 508.8 336.7 508.5 337.2 508.3 337.8 508.1 338.2 508.0 339.0 507.8 339.5 507.7 340.2 507.6 340.9 507.5 341.5 507.4 342.2 507.2 342.8 507.1 343.3 507.0 344.0 506.8 344.5 506.7 345.2 506.5 345.8 506.4 346.5 506.3 347.0 506.2 347.8 506.1 348.3 506.0 349.0 505.9 349.8 505.9 350.5 505.9 351.2 505.8 352.0 505.9 352.8 505.9 353.5 506.0 354.0 506.1 354.8 506.2 355.2 506.3 356.0 506.5 356.5 506.6 357.0 506.8 357.6 507.0 358.2 507.2 358.6 507.5 359.0 507.8 359.5 508.1 359.9 508.5 360.2 508.9 360.5 509.5 360.6 510.0 360.5 510.5 360.2 511.1 359.9 511.5 359.5 511.9 359.0 512.2 358.6 512.5 358.1 512.8 357.5 513.0 357.0 513.2 356.5 513.3 355.8 513.5 355.2 513.6 354.5 513.7Z" fill="#c6c6c6" stroke="#737373" stroke-width="0.55"/>
<path d="M352.5 513.5L351.8 513.5 351.0 513.6 350.2 513.5 349.5 513.5 349.0 513.5 348.2 513.4 347.5 513.3 347.0 513.2 346.2 513.1 345.8 512.9 345.0 512.8 344.5 512.6 344.0 512.5 343.2 512.3 342.8 512.1 342.2 512.0 341.5 511.8 341.0 511.7 340.2 511.6 339.8 511.5 339.0 511.3 338.5 511.1 338.0 510.9 337.5 510.5 337.3 510.0 337.5 509.5 338.0 509.1 338.5 508.9 339.0 508.7 339.8 508.5 340.2 508.4 341.0 508.3 341.5 508.2 342.1 508.0 342.8 507.8 343.2 507.7 343.9 507.5 344.5 507.3 345.0 507.2 345.7 507.0 346.2 506.9 346.9 506.8 347.5 506.6 348.2 506.5 348.8 506.5 349.5 506.4 350.2 506.3 351.0 506.3 351.8 506.3 352.5 506.4 353.2 506.5 353.8 506.5 354.5 506.7 355.0 506.8 355.8 507.0 356.2 507.1 356.8 507.3 357.2 507.5 357.8 507.8 358.2 508.1 358.7 508.5 359.0 508.8 359.3 509.2 359.5 510.0 359.3 510.8 359.0 511.2 358.7 511.5 358.2 511.9 357.8 512.2 357.2 512.4 356.8 512.7 356.2 512.8 355.7 513.0 355.0 513.2 354.5 513.3 353.8 513.4 353.0 513.5 352.5 513.5Z" fill="#bdbdbd" stroke="#737373" stroke-width="0.55"/>
<path d="M353.0 513.0L352.2 513.1 351.5 513.1 350.8 513.1 350.0 513.1 349.2 513.1 348.7 513.0 348.0 512.9 347.2 512.8 346.8 512.7 346.2 512.5 345.5 512.3 345.0 512.1 344.5 512.0 343.9 511.8 343.3 511.5 342.8 511.3 342.2 511.1 341.8 510.8 341.2 510.6 340.9 510.2 341.0 509.6 341.5 509.3 342.0 509.0 342.5 508.8 343.0 508.6 343.5 508.4 344.0 508.2 344.5 508.0 345.2 507.8 345.8 507.6 346.2 507.4 347.0 507.3 347.5 507.1 348.2 507.0 348.8 506.9 349.5 506.9 350.2 506.8 351.0 506.8 351.8 506.8 352.5 506.9 353.2 507.0 353.8 507.0 354.5 507.2 355.0 507.3 355.6 507.5 356.2 507.8 356.7 508.0 357.2 508.2 357.5 508.5 358.0 509.0 358.2 509.4 358.4 510.0 358.2 510.6 358.0 511.0 357.5 511.5 357.2 511.8 356.7 512.0 356.2 512.2 355.5 512.5 355.0 512.6 354.5 512.8 353.8 512.9 353.1 513.0Z" fill="#b5b5b5" stroke="#737373" stroke-width="0.55"/>
<path d="M353.2 512.5L352.5 512.6 351.8 512.7 351.0 512.7 350.2 512.7 349.5 512.6 348.8 512.5 348.2 512.4 347.5 512.3 347.0 512.2 346.5 512.0 345.8 511.8 345.2 511.5 344.8 511.2 344.4 511.0 344.0 510.7 343.7 510.2 343.8 509.6 344.0 509.2 344.5 508.9 345.0 508.6 345.5 508.4 346.0 508.2 346.5 508.0 347.2 507.8 347.8 507.6 348.4 507.5 349.0 507.4 349.8 507.3 350.5 507.3 351.2 507.3 352.0 507.3 352.8 507.4 353.4 507.5 354.0 507.6 354.5 507.8 355.2 508.0 355.8 508.2 356.2 508.5 356.6 508.8 357.0 509.2 357.2 509.8 357.2 510.1 357.0 510.8 356.8 511.1 356.2 511.5 355.8 511.8 355.2 512.0 354.8 512.2 354.2 512.3 353.5 512.5Z" fill="#adadad" stroke="#737373" stroke-width="0.55"/>
<path d="M353.0 512.0L352.2 512.1 351.5 512.2 350.8 512.2 350.0 512.1 349.2 512.1 348.8 512.0 348.0 511.8 347.5 511.7 347.0 511.5 346.5 511.2 346.0 510.9 345.6 510.5 345.4 510.0 345.6 509.5 346.0 509.1 346.5 508.8 347.0 508.5 347.5 508.3 348.0 508.2 348.8 508.0 349.2 507.9 350.0 507.8 350.8 507.8 351.5 507.8 352.2 507.9 353.0 508.0 353.5 508.1 354.1 508.2 354.7 508.5 355.2 508.8 355.5 509.0 355.9 509.5 356.1 510.0 355.9 510.5 355.5 511.0 355.2 511.2 354.7 511.5 354.0 511.8 353.5 511.9 353.0 512.0Z" fill="#a5a5a5" stroke="#737373" stroke-width="0.55"/>
<path d="M352.2 511.5L351.5 511.6 350.8 511.6 350.0 511.6 349.4 511.5 348.8 511.3 348.2 511.2 347.8 511.0 347.2 510.6 347.0 510.2 347.0 509.7 347.4 509.2 347.8 509.0 348.4 508.8 349.0 508.6 349.5 508.5 350.2 508.4 351.0 508.4 351.8 508.4 352.5 508.5 353.0 508.6 353.5 508.8 354.0 509.0 354.5 509.4 354.8 509.8 354.7 510.2 354.4 510.8 354.0 511.0 353.4 511.2 352.8 511.4 352.2 511.5Z" fill="#9d9d9d" stroke="#737373" stroke-width="0.55"/>
<path d="M353.8 515.7L354.2 516.2 354.5 516.5 354.8 517.0 355.2 517.5 355.5 517.9 355.8 518.2 356.0 518.7 356.4 519.2 356.6 519.7 356.9 520.2 357.2 520.7 357.4 521.2 357.6 521.7 357.9 522.2 358.0 522.7 358.2 523.3 358.5 524.0 358.6 524.5 358.8 525.0 358.9 525.7 359.0 526.3 359.1 527.0 359.1 527.7 359.1 528.5 359.0 529.2 358.9 529.7 358.7 530.2 358.4 530.7 358.1 531.2 357.8 531.5 357.2 531.7 356.5 531.9 355.8 531.9 355.0 531.8 354.5 531.6 354.0 531.4 353.5 531.1 353.0 530.8 352.5 530.5 352.2 530.2 351.8 529.8 351.3 529.5 351.0 529.1 350.6 528.7 350.2 528.4 349.9 528.0 349.5 527.5 349.2 527.2 348.8 526.7 348.5 526.4 348.1 526.0 347.8 525.7 347.2 525.4 346.5 525.5 346.2 525.7 345.8 526.2 345.5 526.6 345.2 527.1 345.0 527.5 344.7 528.0 344.5 528.5 344.2 529.0 343.9 529.5 343.5 530.0 343.2 530.4 343.0 530.7 342.6 531.2 342.2 531.6 341.9 532.0 341.5 532.3 341.0 532.6 340.5 532.9 340.0 533.2 339.5 533.3 338.8 533.2 338.3 533.0 338.0 532.7 337.6 532.2 337.4 531.7 337.2 531.2 337.0 530.5 337.0 530.0 336.9 529.2 336.9 528.5 337.0 527.7 337.0 527.2 337.2 526.5 337.2 525.9 337.4 525.2 337.5 524.7 337.7 524.0 337.9 523.5 338.1 523.0 338.2 522.4 338.5 521.8 338.7 521.2 339.0 520.7 339.2 520.2 339.5 519.7 339.7 519.2 340.0 518.7 340.2 518.3 340.5 517.9 340.8 517.5 341.1 517.0 341.5 516.5 341.8 516.0" fill="#f6f6f6" stroke="#8a8a8a" stroke-width="0.65"/>
<path d="M351.9 515.7L352.2 516.0 352.7 516.5 353.0 516.7 353.4 517.2 353.8 517.6 354.1 518.0 354.4 518.5 354.8 518.9 355.0 519.3 355.3 519.7 355.6 520.2 355.8 520.7 356.1 521.2 356.3 521.7 356.5 522.2 356.8 522.8 357.0 523.5 357.1 524.0 357.2 524.5 357.4 525.2 357.5 526.0 357.5 526.7 357.4 527.5 357.2 528.1 357.0 528.6 356.8 529.0 356.2 529.4 355.8 529.6 355.0 529.6 354.2 529.5 353.8 529.3 353.2 529.1 352.8 528.8 352.3 528.5 352.0 528.2 351.5 527.8 351.2 527.5 350.8 527.0 350.5 526.7 350.0 526.2 349.8 525.8 349.4 525.5 349.1 525.0 348.8 524.6 348.5 524.2 348.0 523.7 347.8 523.4 347.2 523.0 346.8 522.8 346.2 523.0 345.8 523.3 345.5 523.7 345.2 524.2 344.9 524.7 344.7 525.2 344.4 525.7 344.2 526.2 343.9 526.7 343.6 527.2 343.3 527.7 343.0 528.2 342.8 528.5 342.4 529.0 342.0 529.4 341.7 529.7 341.2 530.0 340.8 530.3 340.0 530.4 339.5 530.2 339.0 529.7 338.8 529.2 338.6 528.7 338.5 528.0 338.5 527.2 338.6 526.5 338.7 525.7 338.8 525.2 338.9 524.5 339.1 524.0 339.2 523.4 339.5 522.7 339.7 522.2 339.9 521.7 340.2 521.2 340.4 520.7 340.7 520.2 341.0 519.8 341.2 519.4 341.6 519.0 341.9 518.5 342.2 518.1 342.5 517.7 343.0 517.2 343.2 516.9 343.6 516.5 344.0 516.0" fill="#efefef" stroke="#8a8a8a" stroke-width="0.65"/>
<path d="M354.8 527.5L354.0 527.5 353.5 527.4 353.0 527.1 352.5 526.8 352.0 526.5 351.7 526.2 351.2 525.8 350.9 525.5 350.5 525.0 350.2 524.6 350.0 524.2 349.6 523.7 349.3 523.2 349.0 522.8 348.8 522.3 348.5 521.9 348.2 521.5 347.9 521.0 347.6 520.5 347.3 520.0 347.0 519.5 346.8 519.0 346.6 518.5 346.6 517.7 346.8 517.2 347.2 516.7 347.5 516.4 348.0 516.2 348.8 516.1 349.5 516.1 350.0 516.3 350.5 516.5 351.0 516.8 351.5 517.1 351.9 517.5 352.2 517.7 352.7 518.2 353.0 518.5 353.4 519.0 353.8 519.4 354.0 519.8 354.3 520.2 354.6 520.7 354.8 521.2 355.1 521.7 355.3 522.2 355.5 522.8 355.7 523.5 355.8 524.0 355.9 524.7 356.0 525.5 355.8 526.2 355.7 526.7 355.3 527.2 354.8 527.5Z" fill="#e8e8e8" stroke="#8a8a8a" stroke-width="0.65"/>
<path d="M341.2 527.0L340.8 526.9 340.4 526.5 340.3 525.7 340.4 525.0 340.5 524.3 340.7 523.7 340.9 523.2 341.1 522.7 341.4 522.2 341.7 521.7 342.0 521.3 342.4 521.0 342.8 520.6 343.2 520.4 343.8 520.5 344.1 521.0 344.1 521.7 344.0 522.2 343.8 523.0 343.7 523.5 343.5 524.0 343.2 524.6 343.0 525.1 342.8 525.6 342.5 526.0 342.1 526.5 341.8 526.8 341.2 527.0Z" fill="#e8e8e8" stroke="#8a8a8a" stroke-width="0.65"/>
<path d="M353.2 524.3L352.5 524.2 352.1 524.0 351.8 523.7 351.3 523.2 351.0 522.7 350.8 522.3 350.5 521.8 350.3 521.2 350.2 520.7 350.2 520.0 350.5 519.7 351.2 519.6 351.8 519.9 352.1 520.2 352.5 520.6 352.8 521.0 353.1 521.5 353.3 522.0 353.5 522.5 353.7 523.2 353.6 524.0 353.2 524.3Z" fill="#e0e0e0" stroke="#8a8a8a" stroke-width="0.65"/>
<path d="M466.8 513.3L466.0 513.3 465.2 513.3 464.5 513.3 464.0 513.2 463.2 513.2 462.5 513.2 461.8 513.2 461.0 513.1 460.2 513.0 459.8 513.0 459.0 512.9 458.2 512.8 457.6 512.8 457.0 512.7 456.2 512.6 455.5 512.5 455.0 512.4 454.2 512.3 453.6 512.2 453.0 512.2 452.2 512.0 451.8 511.9 451.2 511.8 450.5 511.5 450.0 511.3 449.5 511.1 449.0 510.8 448.5 510.5 448.2 510.2 447.8 509.8 447.5 509.5 447.2 509.0 447.0 508.5 446.8 507.8 446.8 507.0 447.0 506.4 447.2 505.9 447.5 505.5 447.9 505.0 448.2 504.7 448.8 504.3 449.2 504.0 449.7 503.8 450.2 503.5 450.8 503.3 451.2 503.1 451.8 502.9 452.4 502.8 453.0 502.6 453.5 502.5 454.2 502.3 454.8 502.2 455.5 502.1 456.0 502.0 456.8 501.8 457.2 501.7 458.0 501.5 458.5 501.4 459.2 501.3 459.8 501.2 460.5 501.1 461.0 501.0 461.8 500.9 462.5 500.8 463.0 500.8 463.8 500.7 464.5 500.7 465.2 500.6 466.0 500.6 466.8 500.7 467.5 500.7 468.0 500.8 468.8 500.8 469.5 500.9 470.0 501.0 470.8 501.1 471.3 501.2 472.0 501.4 472.5 501.5 473.2 501.8 473.8 501.9 474.2 502.1 474.8 502.3 475.2 502.5 475.8 502.8 476.2 503.0 476.8 503.3 477.2 503.6 477.7 504.0 478.0 504.2 478.5 504.7 478.8 505.0 479.1 505.5 479.4 506.0 479.6 506.5 479.7 507.2 479.7 508.0 479.5 508.7 479.2 509.2 479.0 509.6 478.7 510.0 478.2 510.5 478.0 510.8 477.5 511.1 477.0 511.4 476.5 511.7 476.0 511.9 475.5 512.1 474.9 512.2 474.2 512.4 473.8 512.6 473.0 512.7 472.5 512.8 471.8 512.9 471.0 513.0 470.5 513.0 469.8 513.1 469.0 513.2 468.2 513.2 467.5 513.2 466.8 513.2Z" fill="#ececec" stroke="#737373" stroke-width="0.55"/>
<path d="M468.2 512.8L467.5 512.8 466.8 512.8 466.0 512.8 465.2 512.8 464.5 512.8 463.8 512.8 463.0 512.8 462.5 512.7 461.8 512.7 461.0 512.6 460.2 512.5 459.8 512.5 459.0 512.4 458.2 512.3 457.8 512.2 457.0 512.1 456.3 512.0 455.8 511.9 455.0 511.8 454.5 511.7 453.8 511.6 453.2 511.5 452.5 511.3 452.0 511.2 451.4 511.0 450.8 510.8 450.3 510.5 449.9 510.2 449.5 510.0 449.0 509.5 448.7 509.2 448.4 508.8 448.2 508.2 448.1 507.5 448.2 506.8 448.4 506.2 448.7 505.8 449.0 505.5 449.5 505.0 449.8 504.8 450.3 504.5 450.8 504.2 451.3 504.0 452.0 503.8 452.5 503.6 453.0 503.5 453.8 503.3 454.2 503.2 455.0 503.0 455.5 502.9 456.2 502.8 456.8 502.7 457.5 502.5 458.0 502.4 458.8 502.3 459.2 502.1 460.0 502.0 460.5 501.9 461.2 501.8 461.8 501.7 462.5 501.6 463.2 501.5 463.8 501.5 464.5 501.4 465.2 501.4 466.0 501.4 466.8 501.5 467.4 501.5 468.0 501.5 468.8 501.6 469.5 501.7 470.0 501.8 470.8 502.0 471.2 502.1 471.8 502.2 472.5 502.5 473.0 502.6 473.5 502.8 474.0 503.0 474.5 503.3 475.0 503.5 475.5 503.8 476.0 504.2 476.4 504.5 476.8 504.8 477.2 505.2 477.5 505.7 477.8 506.1 478.0 506.8 478.1 507.2 478.0 508.0 477.9 508.5 477.7 509.0 477.4 509.5 477.0 509.9 476.7 510.2 476.2 510.6 475.8 511.0 475.2 511.2 474.8 511.5 474.2 511.7 473.8 511.9 473.2 512.0 472.5 512.2 472.0 512.3 471.2 512.4 470.8 512.5 470.0 512.6 469.2 512.7 468.5 512.7Z" fill="#e2e2e2" stroke="#737373" stroke-width="0.55"/>
<path d="M469.2 512.3L468.5 512.3 467.8 512.4 467.0 512.4 466.2 512.5 465.5 512.5 464.8 512.5 464.0 512.4 463.2 512.4 462.5 512.4 461.8 512.3 461.2 512.2 460.5 512.1 459.8 512.0 459.2 511.9 458.5 511.8 458.0 511.7 457.2 511.6 456.8 511.5 456.0 511.4 455.2 511.3 454.8 511.2 454.0 511.0 453.5 510.9 452.8 510.8 452.2 510.6 451.8 510.4 451.2 510.1 450.8 509.9 450.2 509.5 450.0 509.2 449.6 508.8 449.3 508.2 449.2 507.8 449.2 507.0 449.4 506.5 449.7 506.0 450.0 505.7 450.5 505.3 451.0 505.0 451.4 504.8 452.0 504.5 452.5 504.3 453.0 504.2 453.6 504.0 454.2 503.9 454.8 503.8 455.5 503.6 456.1 503.5 456.8 503.4 457.4 503.2 458.0 503.1 458.5 503.0 459.2 502.8 459.8 502.7 460.5 502.6 461.0 502.5 461.8 502.3 462.4 502.2 463.0 502.2 463.8 502.1 464.5 502.1 465.2 502.0 466.0 502.0 466.8 502.1 467.5 502.1 468.2 502.2 468.8 502.3 469.5 502.4 470.0 502.5 470.8 502.7 471.2 502.8 471.9 503.0 472.5 503.2 473.0 503.4 473.5 503.6 474.0 503.9 474.5 504.2 474.9 504.5 475.3 504.8 475.8 505.2 476.0 505.5 476.4 506.0 476.6 506.5 476.8 507.0 476.8 507.8 476.7 508.2 476.5 508.8 476.2 509.2 475.8 509.8 475.5 510.0 475.0 510.4 474.5 510.8 474.0 511.0 473.5 511.2 473.0 511.5 472.5 511.6 472.0 511.8 471.2 511.9 470.8 512.0 470.0 512.2 469.4 512.2Z" fill="#d8d8d8" stroke="#737373" stroke-width="0.55"/>
<path d="M467.0 512.0L466.2 512.0 465.5 512.1 464.8 512.0 464.0 512.0 463.5 512.0 462.8 511.9 462.0 511.8 461.3 511.8 460.8 511.7 460.0 511.5 459.5 511.4 458.8 511.3 458.2 511.2 457.5 511.0 457.0 510.9 456.2 510.8 455.8 510.7 455.0 510.5 454.5 510.4 453.8 510.3 453.2 510.1 452.8 509.9 452.2 509.7 451.8 509.5 451.2 509.1 450.9 508.8 450.5 508.2 450.4 507.8 450.4 507.0 450.7 506.5 451.0 506.1 451.4 505.8 451.8 505.5 452.3 505.2 452.9 505.0 453.5 504.8 454.0 504.7 454.7 504.5 455.2 504.4 456.0 504.2 456.5 504.1 457.2 504.0 457.8 503.9 458.3 503.8 459.0 503.6 459.5 503.5 460.2 503.3 460.8 503.2 461.5 503.0 462.0 502.9 462.8 502.8 463.5 502.8 464.0 502.7 464.8 502.7 465.5 502.7 466.2 502.7 467.0 502.7 467.5 502.8 468.2 502.8 469.0 503.0 469.5 503.1 470.2 503.2 470.8 503.4 471.2 503.5 471.9 503.8 472.4 504.0 473.0 504.2 473.4 504.5 473.8 504.8 474.2 505.1 474.7 505.5 475.0 505.9 475.2 506.3 475.5 507.0 475.5 507.5 475.5 508.0 475.2 508.7 475.0 509.1 474.6 509.5 474.2 509.9 473.8 510.2 473.3 510.5 472.9 510.8 472.3 511.0 471.8 511.2 471.2 511.4 470.7 511.5 470.0 511.7 469.5 511.8 468.8 511.9 468.0 511.9 467.2 512.0Z" fill="#cfcfcf" stroke="#737373" stroke-width="0.55"/>
<path d="M467.8 511.5L467.0 511.6 466.2 511.6 465.5 511.6 464.8 511.6 464.0 511.6 463.2 511.5 462.8 511.5 462.0 511.4 461.3 511.2 460.8 511.1 460.1 511.0 459.5 510.9 459.0 510.7 458.2 510.5 457.8 510.4 457.0 510.3 456.5 510.1 455.8 510.0 455.2 509.9 454.6 509.8 454.0 509.6 453.5 509.4 453.0 509.2 452.5 508.9 452.0 508.5 451.8 508.2 451.6 507.5 451.8 506.8 452.0 506.5 452.5 506.1 453.0 505.8 453.5 505.6 454.0 505.4 454.5 505.2 455.2 505.1 455.8 505.0 456.5 504.8 457.0 504.7 457.8 504.5 458.2 504.4 458.9 504.2 459.5 504.1 460.0 504.0 460.8 503.8 461.2 503.7 462.0 503.5 462.5 503.4 463.2 503.3 464.0 503.2 464.5 503.2 465.2 503.2 466.0 503.2 466.8 503.2 467.2 503.3 468.0 503.4 468.8 503.5 469.2 503.6 469.9 503.8 470.5 503.9 471.0 504.1 471.5 504.3 472.0 504.5 472.5 504.8 473.0 505.2 473.4 505.5 473.8 505.8 474.1 506.2 474.3 506.8 474.4 507.5 474.3 508.2 474.0 508.8 473.8 509.1 473.4 509.5 473.0 509.8 472.5 510.2 472.0 510.4 471.5 510.6 471.0 510.8 470.5 511.0 469.8 511.2 469.2 511.3 468.5 511.4 468.0 511.5Z" fill="#c6c6c6" stroke="#737373" stroke-width="0.55"/>
<path d="M468.0 511.0L467.2 511.1 466.5 511.2 465.8 511.2 465.0 511.2 464.2 511.2 463.5 511.1 462.8 511.0 462.2 510.9 461.5 510.8 461.0 510.7 460.3 510.5 459.8 510.3 459.2 510.2 458.6 510.0 458.0 509.8 457.5 509.7 456.8 509.5 456.2 509.4 455.7 509.2 455.0 509.1 454.5 508.9 454.0 508.7 453.5 508.4 453.1 508.0 453.0 507.5 453.1 507.0 453.5 506.6 454.0 506.3 454.5 506.1 455.0 505.9 455.7 505.8 456.2 505.6 456.8 505.5 457.5 505.3 458.0 505.2 458.6 505.0 459.2 504.8 459.8 504.6 460.2 504.5 461.0 504.3 461.5 504.2 462.2 504.0 462.8 503.9 463.5 503.8 464.1 503.8 464.8 503.7 465.5 503.7 466.2 503.7 466.9 503.8 467.5 503.8 468.2 503.9 468.8 504.0 469.5 504.2 470.0 504.4 470.5 504.6 471.0 504.8 471.5 505.0 472.0 505.3 472.5 505.7 472.8 506.0 473.1 506.5 473.3 507.0 473.4 507.8 473.2 508.2 473.0 508.8 472.5 509.2 472.2 509.5 471.8 509.8 471.2 510.1 470.8 510.3 470.2 510.5 469.5 510.7 469.0 510.9 468.2 511.0Z" fill="#bdbdbd" stroke="#737373" stroke-width="0.55"/>
<path d="M466.0 510.8L465.2 510.8 464.7 510.8 464.0 510.7 463.2 510.6 462.6 510.5 462.0 510.4 461.5 510.2 460.8 510.0 460.2 509.9 459.8 509.7 459.2 509.5 458.6 509.2 458.0 509.0 457.5 508.8 457.0 508.6 456.5 508.4 456.0 508.2 455.5 507.9 455.4 507.2 455.8 506.9 456.2 506.7 456.8 506.5 457.3 506.2 457.9 506.0 458.5 505.8 459.0 505.6 459.5 505.4 460.0 505.2 460.6 505.0 461.2 504.8 461.8 504.7 462.4 504.5 463.0 504.4 463.8 504.3 464.2 504.2 465.0 504.2 465.8 504.2 466.5 504.2 467.0 504.3 467.8 504.4 468.4 504.5 469.0 504.6 469.5 504.8 470.0 505.0 470.6 505.2 471.0 505.5 471.5 505.9 471.9 506.2 472.2 506.8 472.4 507.2 472.3 508.0 472.1 508.5 471.8 508.9 471.3 509.2 471.0 509.5 470.5 509.8 470.0 510.0 469.3 510.2 468.8 510.4 468.2 510.5 467.5 510.6 466.8 510.7 466.2 510.8Z" fill="#b5b5b5" stroke="#737373" stroke-width="0.55"/>
<path d="M466.5 510.3L465.8 510.3 465.0 510.3 464.4 510.2 463.8 510.2 463.0 510.1 462.5 509.9 461.8 509.8 461.2 509.6 460.8 509.4 460.2 509.1 459.8 508.9 459.2 508.6 458.8 508.2 458.5 507.9 458.4 507.2 458.8 506.8 459.1 506.5 459.5 506.2 460.0 506.0 460.5 505.7 461.0 505.5 461.7 505.2 462.2 505.1 462.8 505.0 463.5 504.8 464.1 504.8 464.8 504.7 465.5 504.7 466.2 504.7 466.8 504.8 467.5 504.9 468.2 505.0 468.8 505.2 469.2 505.3 469.8 505.6 470.2 505.9 470.7 506.2 471.0 506.6 471.3 507.0 471.3 507.8 471.1 508.2 470.8 508.7 470.4 509.0 470.0 509.3 469.5 509.5 469.0 509.8 468.2 510.0 467.8 510.1 467.0 510.2 466.5 510.3Z" fill="#adadad" stroke="#737373" stroke-width="0.55"/>
<path d="M466.0 509.8L465.2 509.8 464.8 509.7 464.0 509.7 463.2 509.5 462.8 509.4 462.2 509.2 461.7 509.0 461.2 508.8 460.8 508.4 460.3 508.0 460.2 507.5 460.3 507.0 460.8 506.6 461.2 506.2 461.7 506.0 462.2 505.8 462.8 505.6 463.2 505.5 464.0 505.3 464.6 505.2 465.2 505.2 466.0 505.2 466.5 505.3 467.2 505.4 467.8 505.5 468.5 505.7 469.0 506.0 469.5 506.2 469.8 506.5 470.1 507.0 470.2 507.8 470.0 508.2 469.5 508.7 469.1 509.0 468.5 509.2 468.0 509.4 467.5 509.6 466.8 509.7 466.1 509.8Z" fill="#a5a5a5" stroke="#737373" stroke-width="0.55"/>
<path d="M467.0 509.0L466.2 509.2 465.5 509.2 464.8 509.2 464.0 509.1 463.5 508.9 463.0 508.8 462.5 508.5 462.0 508.1 461.7 507.8 461.8 507.2 462.1 506.8 462.5 506.5 463.0 506.2 463.7 506.0 464.2 505.9 465.0 505.8 465.8 505.8 466.5 505.9 467.2 506.0 467.8 506.2 468.2 506.4 468.7 506.8 469.0 507.2 469.0 507.7 468.8 508.1 468.3 508.5 467.9 508.8 467.2 509.0Z" fill="#9d9d9d" stroke="#737373" stroke-width="0.55"/>
<path d="M471.4 513.5L471.8 513.9 472.1 514.2 472.5 514.8 472.8 515.2 473.0 515.5 473.3 516.0 473.6 516.5 473.8 517.0 474.0 517.5 474.2 518.0 474.5 518.7 474.7 519.2 474.8 519.8 474.9 520.5 475.0 521.0 475.1 521.8 475.1 522.5 475.1 523.2 475.0 523.9 474.9 524.5 474.8 525.2 474.6 525.8 474.4 526.2 474.2 526.8 474.0 527.3 473.7 527.8 473.4 528.2 473.1 528.8 472.8 529.1 472.4 529.5 472.0 529.9 471.5 530.2 471.2 530.5 470.7 530.8 470.2 531.0 469.7 531.2 469.0 531.5 468.5 531.6 467.8 531.7 467.2 531.8 466.5 531.8 466.0 531.7 465.2 531.6 464.7 531.5 464.0 531.3 463.5 531.1 463.0 530.9 462.5 530.7 462.0 530.4 461.5 530.1 461.0 529.8 460.7 529.5 460.2 529.1 459.9 528.8 459.5 528.4 459.1 528.0 458.8 527.6 458.4 527.2 458.0 526.8 457.8 526.5 457.3 526.0 456.9 525.8 456.2 525.5 455.5 525.7 455.2 526.0 454.8 526.4 454.4 526.8 454.1 527.2 453.8 527.7 453.5 528.0 453.2 528.5 452.8 529.0 452.5 529.4 452.2 529.8 451.9 530.2 451.5 530.8 451.2 531.1 450.9 531.5 450.5 532.0 450.2 532.2 449.8 532.8 449.5 533.0 449.0 533.5 448.7 533.8 448.2 534.1 447.8 534.5 447.4 534.8 447.0 535.0 446.5 535.3 446.0 535.5 445.3 535.8 444.8 535.9 444.0 536.0 443.2 535.8 442.8 535.6 442.2 535.3 442.0 535.0 441.6 534.5 441.4 534.0 441.2 533.5 441.1 532.8 441.0 532.0 441.0 531.2 441.1 530.5 441.2 529.8 441.3 529.2 441.5 528.5 441.6 528.0 441.8 527.5 442.0 526.8 442.2 526.2 442.4 525.8 442.6 525.2 442.8 524.8 443.1 524.2 443.3 523.8 443.6 523.2 443.9 522.8 444.2 522.2 444.5 521.8 444.8 521.3 445.0 521.0 445.3 520.5 445.7 520.0 446.0 519.6 446.3 519.2 446.8 518.8 447.0 518.5 447.5 518.0 447.8 517.7 448.2 517.2 448.5 517.0 449.0 516.6 449.5 516.2 449.8 516.0 450.2 515.7 450.8 515.4 451.2 515.1 451.8 514.8 452.2 514.6 452.8 514.4 453.2 514.2 453.8 514.0 454.5 513.8 455.0 513.6" fill="#f6f6f6" stroke="#8a8a8a" stroke-width="0.65"/>
<path d="M467.7 513.5L468.2 513.8 468.6 514.0 469.0 514.3 469.5 514.7 469.8 515.0 470.2 515.4 470.5 515.8 470.9 516.2 471.2 516.7 471.5 517.1 471.8 517.6 472.0 518.1 472.2 518.7 472.4 519.2 472.6 519.8 472.7 520.5 472.8 521.0 472.9 521.8 472.9 522.5 472.8 523.2 472.7 523.8 472.6 524.5 472.4 525.0 472.2 525.5 472.0 526.0 471.7 526.5 471.3 527.0 471.0 527.3 470.6 527.8 470.2 528.0 469.8 528.4 469.2 528.7 468.8 528.9 468.2 529.1 467.5 529.2 467.0 529.3 466.2 529.3 465.7 529.2 465.0 529.1 464.5 529.0 463.8 528.8 463.3 528.5 462.8 528.2 462.4 528.0 462.0 527.7 461.5 527.3 461.2 527.0 460.8 526.6 460.5 526.2 460.1 525.8 459.8 525.3 459.5 525.0 459.2 524.5 458.9 524.0 458.6 523.5 458.4 523.0 458.1 522.5 457.9 522.0 457.6 521.5 457.3 521.0 457.1 520.5 456.8 520.0 456.5 519.7 456.0 520.0 455.8 520.5 455.5 521.0 455.2 521.5 455.0 522.0 454.8 522.5 454.5 523.0 454.3 523.5 454.0 524.0 453.8 524.5 453.5 525.0 453.3 525.5 453.0 526.0 452.8 526.4 452.5 526.9 452.2 527.3 452.0 527.8 451.6 528.2 451.3 528.8 451.0 529.1 450.7 529.5 450.3 530.0 450.0 530.4 449.7 530.8 449.2 531.2 448.9 531.5 448.5 531.8 448.0 532.2 447.6 532.5 447.2 532.8 446.7 533.0 446.0 533.2 445.5 533.4 444.8 533.4 444.2 533.2 443.8 532.9 443.4 532.5 443.2 532.0 443.0 531.4 442.9 530.8 442.9 530.0 442.9 529.2 443.0 528.7 443.1 528.0 443.3 527.5 443.5 526.8 443.7 526.2 443.9 525.8 444.1 525.2 444.3 524.8 444.6 524.2 444.8 523.8 445.1 523.2 445.4 522.8 445.7 522.2 446.0 521.9 446.3 521.5 446.7 521.0 447.0 520.6 447.3 520.2 447.8 519.8 448.1 519.5 448.5 519.1 448.9 518.8 449.3 518.5 449.8 518.2 450.2 517.9 450.8 517.6 451.2 517.4 451.9 517.2 452.5 517.1 453.2 517.2 453.8 517.2 454.5 517.5 454.9 517.8 455.2 518.0 455.8 518.5 456.1 518.8 456.5 518.8 456.8 518.2 457.2 517.8 457.5 517.2 457.8 516.9 458.0 516.5 458.4 516.0 458.8 515.6 459.0 515.2 459.5 514.8 459.8 514.5 460.2 514.1 460.8 513.8 461.2 513.5" fill="#efefef" stroke="#8a8a8a" stroke-width="0.65"/>
<path d="M467.5 526.8L466.8 527.0 466.0 527.0 465.2 526.9 464.8 526.7 464.1 526.5 463.6 526.2 463.2 526.0 462.8 525.6 462.3 525.2 462.0 524.9 461.6 524.5 461.3 524.0 461.0 523.5 460.8 523.0 460.5 522.5 460.4 522.0 460.2 521.5 460.1 520.8 460.1 520.0 460.1 519.2 460.2 518.6 460.4 518.0 460.7 517.5 461.0 517.0 461.2 516.6 461.6 516.2 462.0 515.9 462.5 515.6 463.0 515.4 463.5 515.2 464.2 515.0 465.0 515.0 465.8 515.1 466.3 515.2 466.9 515.5 467.4 515.8 467.8 516.0 468.2 516.4 468.7 516.8 469.0 517.1 469.3 517.5 469.7 518.0 470.0 518.5 470.2 519.0 470.4 519.5 470.6 520.0 470.7 520.8 470.8 521.2 470.8 522.0 470.8 522.8 470.7 523.2 470.5 523.8 470.2 524.4 470.0 524.9 469.7 525.2 469.3 525.8 469.0 526.0 468.5 526.4 468.0 526.6 467.5 526.8Z" fill="#e8e8e8" stroke="#8a8a8a" stroke-width="0.65"/>
<path d="M447.0 530.8L446.2 530.9 445.5 530.8 445.2 530.5 444.9 530.0 444.7 529.5 444.6 528.8 444.7 528.0 444.8 527.5 444.9 526.8 445.1 526.2 445.3 525.8 445.5 525.2 445.8 524.7 446.0 524.2 446.3 523.8 446.6 523.2 447.0 522.8 447.2 522.4 447.6 522.0 448.0 521.6 448.3 521.2 448.8 520.9 449.2 520.5 449.8 520.3 450.2 520.0 450.8 519.9 451.5 519.9 452.0 520.2 452.3 520.5 452.6 521.0 452.7 521.8 452.6 522.5 452.5 523.2 452.4 523.8 452.2 524.2 452.0 524.8 451.8 525.4 451.5 525.9 451.2 526.4 451.0 526.8 450.7 527.2 450.4 527.8 450.0 528.2 449.8 528.6 449.4 529.0 449.0 529.4 448.6 529.8 448.2 530.1 447.8 530.4 447.2 530.7Z" fill="#e8e8e8" stroke="#8a8a8a" stroke-width="0.65"/>
<path d="M466.0 523.5L465.4 523.5 464.8 523.3 464.4 523.0 464.0 522.7 463.7 522.2 463.4 521.8 463.2 521.0 463.2 520.5 463.3 520.0 463.5 519.5 463.9 519.0 464.2 518.7 464.8 518.5 465.5 518.5 466.0 518.6 466.5 518.9 466.9 519.2 467.2 519.7 467.5 520.1 467.7 520.8 467.8 521.2 467.7 521.8 467.5 522.5 467.2 522.9 466.8 523.2 466.2 523.5Z" fill="#e0e0e0" stroke="#8a8a8a" stroke-width="0.65"/>
<path d="M448.5 525.8L448.2 525.7 448.5 525.2 448.8 525.5 448.5 525.8Z" fill="#e0e0e0" stroke="#8a8a8a" stroke-width="0.65"/>
<path d="M39.5 391.2V366.4H80.4V391.2" fill="none" stroke="#4a4a4a" stroke-width="1"/>
<path d="M36.4 391.2V417.7H56.1" fill="none" stroke="#4a4a4a" stroke-width="1"/>
<path d="M56.1 417.7H80.4V391.2" fill="none" stroke="#8a8a8a" stroke-width="1"/>
<path d="M36.4 391.2H80.4" fill="none" stroke="#222" stroke-width="1.2"/>
<path d="M56.1 391.2V417.7" fill="none" stroke="#222" stroke-width="1.2"/>
<path d="M136.2 391.3V366.2H176.8V391.3" fill="none" stroke="#6a6a6a" stroke-width="1"/>
<path d="M133.7 391.3V417.5H152.5" fill="none" stroke="#6a6a6a" stroke-width="1"/>
<path d="M152.5 417.5H176.8V391.3" fill="none" stroke="#6a6a6a" stroke-width="1"/>
<path d="M133.7 391.3H176.8" fill="none" stroke="#222" stroke-width="1.2"/>
<path d="M152.5 391.3V417.5" fill="none" stroke="#222" stroke-width="1.2"/>
<path d="M234.2 392.5V368.7H275.8V392.5" fill="none" stroke="#5a5a5a" stroke-width="1"/>
<path d="M232.0 392.5V418.2H252.0" fill="none" stroke="#5a5a5a" stroke-width="1"/>
<path d="M252.0 418.2H275.8V392.5" fill="none" stroke="#5a5a5a" stroke-width="1"/>
<path d="M232.0 392.5H275.8" fill="none" stroke="#222" stroke-width="1.2"/>
<path d="M252.0 392.5V418.2" fill="none" stroke="#222" stroke-width="1.2"/>
<path d="M329.3 393.5V369.2H372.7V393.5" fill="none" stroke="#6a6a6a" stroke-width="1"/>
<path d="M327.2 393.5V420.0H347.3" fill="none" stroke="#6a6a6a" stroke-width="1"/>
<path d="M347.3 420.0H372.7V393.5" fill="none" stroke="#6a6a6a" stroke-width="1"/>
<path d="M327.2 393.5H372.7" fill="none" stroke="#555" stroke-width="1.2"/>
<path d="M347.3 393.5V420.0" fill="none" stroke="#222" stroke-width="1.2"/>
<path d="M443.8 391.2V366.5H484.2V391.2" fill="none" stroke="#6a6a6a" stroke-width="1"/>
<path d="M441.0 391.2V418.0H460.5" fill="none" stroke="#6a6a6a" stroke-width="1"/>
<path d="M460.5 418.0H484.2V391.2" fill="none" stroke="#6a6a6a" stroke-width="1"/>
<path d="M441.0 391.2H484.2" fill="none" stroke="#222" stroke-width="1.2"/>
<path d="M460.5 391.2V418.0" fill="none" stroke="#222" stroke-width="1.2"/>
<path d="M40.4 513.0V488.2H81.2V513.0" fill="none" stroke="#6a6a6a" stroke-width="1"/>
<path d="M37.0 513.0V539.5H57.4" fill="none" stroke="#6a6a6a" stroke-width="1"/>
<path d="M57.4 539.5H81.2V513.0" fill="none" stroke="#6a6a6a" stroke-width="1"/>
<path d="M37.0 513.0H81.2" fill="none" stroke="#222" stroke-width="1.2"/>
<path d="M57.4 513.0V539.5" fill="none" stroke="#222" stroke-width="1.2"/>
<path d="M133.7 515.5V491.7H174.2V515.5" fill="none" stroke="#6a6a6a" stroke-width="1"/>
<path d="M131.7 515.5V541.2H151.7" fill="none" stroke="#6a6a6a" stroke-width="1"/>
<path d="M151.7 541.2H174.2V515.5" fill="none" stroke="#6a6a6a" stroke-width="1"/>
<path d="M131.7 515.5H174.2" fill="none" stroke="#666" stroke-width="1.2"/>
<path d="M151.7 515.5V541.2" fill="none" stroke="#666" stroke-width="1.2"/>
<path d="M233.7 513.7V488.2H273.7V513.7" fill="none" stroke="#6a6a6a" stroke-width="1"/>
<path d="M230.0 513.7V540.0H250.7" fill="none" stroke="#6a6a6a" stroke-width="1"/>
<path d="M250.7 540.0H273.7V513.7" fill="none" stroke="#6a6a6a" stroke-width="1"/>
<path d="M230.0 513.7H273.7" fill="none" stroke="#222" stroke-width="1.2"/>
<path d="M250.7 513.7V540.0" fill="none" stroke="#222" stroke-width="1.2"/>
<path d="M328.8 515.7V491.2H369.2V515.7" fill="none" stroke="#6a6a6a" stroke-width="1"/>
<path d="M327.2 515.7V541.5H346.8" fill="none" stroke="#6a6a6a" stroke-width="1"/>
<path d="M346.8 541.5H369.2V515.7" fill="none" stroke="#6a6a6a" stroke-width="1"/>
<path d="M327.2 515.7H369.2" fill="none" stroke="#666" stroke-width="1.2"/>
<path d="M346.8 515.7V541.5" fill="none" stroke="#888" stroke-width="1.2"/>
<path d="M440.0 513.5V488.5H480.2V513.5" fill="none" stroke="#6a6a6a" stroke-width="1"/>
<path d="M436.5 513.5V539.9H456.8" fill="none" stroke="#6a6a6a" stroke-width="1"/>
<path d="M456.8 539.9H480.2V513.5" fill="none" stroke="#6a6a6a" stroke-width="1"/>
<path d="M436.5 513.5H480.2" fill="none" stroke="#222" stroke-width="1.2"/>
<path d="M456.8 513.5V539.9" fill="none" stroke="#222" stroke-width="1.2"/>
<text x="50.2" y="384.4" font-size="10.4" fill="#111" textLength="22.5" lengthAdjust="spacingAndGlyphs" >GMP</text>
<text x="29.4" y="424.8" font-size="10.4" fill="#111" textLength="22.1" lengthAdjust="spacingAndGlyphs" >MEP</text>
<text x="65.6" y="425.8" font-size="10.4" fill="#111" textLength="22.9" lengthAdjust="spacingAndGlyphs" >CMP</text>
<text x="48.9" y="484.8" font-size="10.4" fill="#111" textLength="23.8" lengthAdjust="spacingAndGlyphs" >GMP</text>
<text x="31.7" y="548.7" font-size="10.4" fill="#111" textLength="23.3" lengthAdjust="spacingAndGlyphs" >MEP</text>
<text x="70.0" y="548.7" font-size="10.4" fill="#111" textLength="23.8" lengthAdjust="spacingAndGlyphs" >CMP</text>
<text x="83.8" y="384.8" font-size="12.2" fill="#111" textLength="24.9" lengthAdjust="spacingAndGlyphs" >78%</text>
<text x="83.8" y="410.7" font-size="12.2" fill="#111" textLength="17.2" lengthAdjust="spacingAndGlyphs" >8%</text>
<text x="180.5" y="383.8" font-size="12.2" fill="#111" textLength="25.7" lengthAdjust="spacingAndGlyphs" >56%</text>
<text x="178.7" y="412.5" font-size="12.2" fill="#111" textLength="23.8" lengthAdjust="spacingAndGlyphs" >18%</text>
<text x="280.5" y="383.8" font-size="12.2" fill="#111" textLength="24.5" lengthAdjust="spacingAndGlyphs" >50%</text>
<text x="278.7" y="413.2" font-size="12.2" fill="#111" textLength="24.3" lengthAdjust="spacingAndGlyphs" >24%</text>
<text x="378.0" y="386.5" font-size="12.2" fill="#111" textLength="24.7" lengthAdjust="spacingAndGlyphs" >45%</text>
<text x="376.2" y="413.5" font-size="12.2" fill="#111" textLength="24.8" lengthAdjust="spacingAndGlyphs" >33%</text>
<text x="487.2" y="378.8" font-size="12.2" fill="#111" textLength="25.4" lengthAdjust="spacingAndGlyphs" >40%</text>
<text x="487.2" y="412.7" font-size="12.2" fill="#111" textLength="25.4" lengthAdjust="spacingAndGlyphs" >31%</text>
<text x="83.5" y="505.1" font-size="12.2" fill="#111" textLength="24.9" lengthAdjust="spacingAndGlyphs" >72%</text>
<text x="83.5" y="532.3" font-size="12.2" fill="#111" textLength="23.5" lengthAdjust="spacingAndGlyphs" >10%</text>
<text x="177.5" y="508.0" font-size="12.2" fill="#111" textLength="25.0" lengthAdjust="spacingAndGlyphs" >67%</text>
<text x="178.7" y="536.2" font-size="12.2" fill="#111" textLength="23.8" lengthAdjust="spacingAndGlyphs" >13%</text>
<text x="277.0" y="509.5" font-size="12.2" fill="#111" textLength="25.5" lengthAdjust="spacingAndGlyphs" >61%</text>
<text x="277.0" y="533.0" font-size="12.2" fill="#111" textLength="25.5" lengthAdjust="spacingAndGlyphs" >20%</text>
<text x="375.0" y="508.8" font-size="12.2" fill="#111" textLength="24.7" lengthAdjust="spacingAndGlyphs" >58%</text>
<text x="373.8" y="537.0" font-size="12.2" fill="#111" textLength="25.0" lengthAdjust="spacingAndGlyphs" >24%</text>
<text x="483.5" y="501.6" font-size="12.2" fill="#111" textLength="25.1" lengthAdjust="spacingAndGlyphs" >44%</text>
<text x="483.5" y="533.7" font-size="12.2" fill="#111" textLength="24.5" lengthAdjust="spacingAndGlyphs" >28%</text>
<text transform="translate(13.9,404.7) rotate(-90)" font-size="10.4" fill="#111" textLength="36.7" lengthAdjust="spacingAndGlyphs" >FcRII/III</text>
<path d="M11.0 415.8V440.5H30.0" fill="none" stroke="#111" stroke-width="1.3"/>
<path d="M11.0 407.8L14.4 417.40000000000003L7.6 417.40000000000003Z" fill="#111"/>
<path d="M38.0 440.5L28.4 443.9L28.4 437.1Z" fill="#111"/>
<text x="42.3" y="444.4" font-size="11.4" fill="#111" textLength="28.5" lengthAdjust="spacingAndGlyphs" >CD34</text>
<text transform="translate(15.3,527.8) rotate(-90)" font-size="10.4" fill="#111" textLength="35.8" lengthAdjust="spacingAndGlyphs" >FcRII/III</text>
<path d="M12.2 539.8V563.6H31.2" fill="none" stroke="#111" stroke-width="1.3"/>
<path d="M12.2 531.8L15.6 541.4L8.799999999999999 541.4Z" fill="#111"/>
<path d="M39.2 563.6L29.599999999999998 567.0L29.599999999999998 560.2Z" fill="#111"/>
<text x="43.9" y="568.3" font-size="11.4" fill="#111" textLength="28.5" lengthAdjust="spacingAndGlyphs" >CD34</text>
</svg>
</body></html>
